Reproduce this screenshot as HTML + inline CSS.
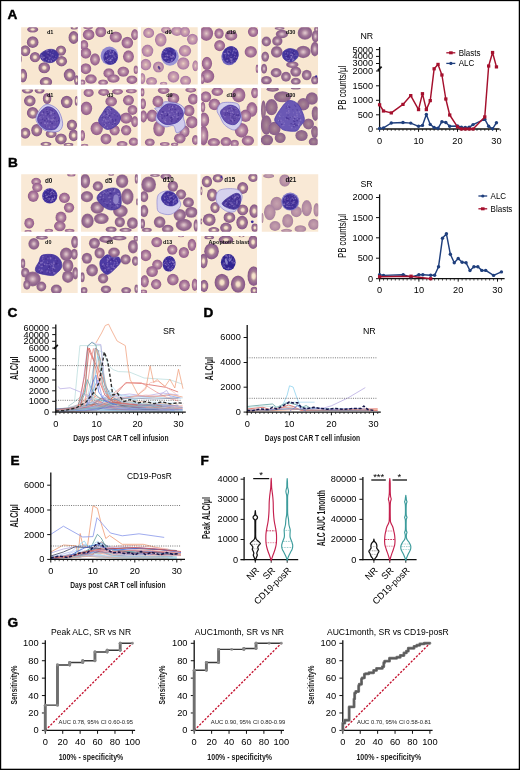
<!DOCTYPE html><html><head><meta charset="utf-8"><title>Figure</title>
<style>html,body{margin:0;padding:0;background:#fff;}svg{display:block;}body>svg{filter:opacity(1);}text{font-family:"Liberation Sans",sans-serif;}</style></head><body>
<svg width="520" height="770" viewBox="0 0 520 770">
<defs>
<filter id="blur" x="-5%" y="-5%" width="110%" height="110%"><feGaussianBlur stdDeviation="5.2"/></filter>
<filter id="blur2" x="-5%" y="-20%" width="110%" height="140%"><feGaussianBlur stdDeviation="1.5"/></filter>
<radialGradient id="ring"><stop offset="0" stop-color="#f9eacc"/><stop offset="0.24" stop-color="#f1dbc6"/><stop offset="0.48" stop-color="#a98395"/><stop offset="0.72" stop-color="#966891"/><stop offset="0.92" stop-color="#895a89"/><stop offset="1" stop-color="#9a7097"/></radialGradient>
<radialGradient id="ring2"><stop offset="0" stop-color="#e2d0d0"/><stop offset="0.25" stop-color="#c8a6b6"/><stop offset="0.5" stop-color="#a27a98"/><stop offset="0.82" stop-color="#8d608a"/><stop offset="1" stop-color="#9b7298"/></radialGradient>
<radialGradient id="solid2"><stop offset="0" stop-color="#e4cdca"/><stop offset="0.24" stop-color="#cba5b2"/><stop offset="0.6" stop-color="#a8769a"/><stop offset="0.9" stop-color="#97618e"/><stop offset="1" stop-color="#a77ca0"/></radialGradient>
<radialGradient id="solid"><stop offset="0" stop-color="#ecd4c4"/><stop offset="0.3" stop-color="#d2aab2"/><stop offset="0.65" stop-color="#be90aa"/><stop offset="0.9" stop-color="#ad7aa5"/><stop offset="1" stop-color="#b68cae"/></radialGradient>
<radialGradient id="dusk"><stop offset="0" stop-color="#aa8a98"/><stop offset="0.5" stop-color="#99718c"/><stop offset="0.9" stop-color="#8a608c"/><stop offset="1" stop-color="#967098"/></radialGradient>
<radialGradient id="pale"><stop offset="0" stop-color="#c6a3af"/><stop offset="0.5" stop-color="#bb94a6"/><stop offset="0.9" stop-color="#ab84a0"/><stop offset="1" stop-color="#b692aa"/></radialGradient>
</defs>
<rect x="0" y="0" width="520" height="770" fill="#fff"/>
<text x="7.60" y="18.50" font-size="13.6" text-anchor="start" font-weight="bold" fill="#000" stroke="#000" stroke-width="0.45">A</text>
<text x="8.00" y="167.00" font-size="13.6" text-anchor="start" font-weight="bold" fill="#000" stroke="#000" stroke-width="0.45">B</text>
<text x="7.40" y="316.50" font-size="13.6" text-anchor="start" font-weight="bold" fill="#000" stroke="#000" stroke-width="0.45">C</text>
<text x="203.60" y="316.50" font-size="13.6" text-anchor="start" font-weight="bold" fill="#000" stroke="#000" stroke-width="0.45">D</text>
<text x="10.60" y="464.50" font-size="13.6" text-anchor="start" font-weight="bold" fill="#000" stroke="#000" stroke-width="0.45">E</text>
<text x="200.60" y="464.60" font-size="13.6" text-anchor="start" font-weight="bold" fill="#000" stroke="#000" stroke-width="0.45">F</text>
<text x="7.40" y="626.60" font-size="13.6" text-anchor="start" font-weight="bold" fill="#000" stroke="#000" stroke-width="0.45">G</text>
<svg x="20" y="26" width="60" height="60" viewBox="0 0 520 520">
<defs><clipPath id="ca11"><rect x="10" y="10" width="493" height="500"/></clipPath></defs>
<g clip-path="url(#ca11)">
<rect x="5" y="5" width="503" height="510" fill="#f8e7d1"/>
<g filter="url(#blur)">
<ellipse cx="110" cy="30" rx="55" ry="34" fill="#fdf1cd" fill-opacity="0.8"/>
<ellipse cx="110" cy="140" rx="58" ry="58" fill="#fdf1cd" fill-opacity="0.8"/>
<ellipse cx="465" cy="100" rx="52" ry="63" fill="#fdf1cd" fill-opacity="0.8"/>
<ellipse cx="45" cy="215" rx="52" ry="55" fill="#fdf1cd" fill-opacity="0.8"/>
<ellipse cx="355" cy="213" rx="52" ry="52" fill="#fdf1cd" fill-opacity="0.8"/>
<ellipse cx="130" cy="270" rx="52" ry="52" fill="#fdf1cd" fill-opacity="0.8"/>
<ellipse cx="360" cy="305" rx="55" ry="52" fill="#fdf1cd" fill-opacity="0.8"/>
<ellipse cx="210" cy="362" rx="58" ry="55" fill="#fdf1cd" fill-opacity="0.8"/>
<ellipse cx="430" cy="425" rx="58" ry="63" fill="#fdf1cd" fill-opacity="0.8"/>
<ellipse cx="25" cy="430" rx="44" ry="66" fill="#fdf1cd" fill-opacity="0.8"/>
<ellipse cx="225" cy="485" rx="60" ry="50" fill="#fdf1cd" fill-opacity="0.8"/>
<ellipse cx="490" cy="470" rx="28" ry="50" fill="#fdf1cd" fill-opacity="0.8"/>
<ellipse cx="470" cy="15" rx="39" ry="23" fill="#fdf1cd" fill-opacity="0.8"/>
<ellipse cx="5" cy="285" rx="18" ry="39" fill="#fdf1cd" fill-opacity="0.8"/>
<ellipse cx="110" cy="30" rx="48" ry="27" fill="url(#ring)"/>
<ellipse cx="110" cy="140" rx="51" ry="51" fill="url(#ring)"/>
<ellipse cx="465" cy="100" rx="45" ry="56" fill="url(#ring)"/>
<ellipse cx="45" cy="215" rx="45" ry="48" fill="url(#ring)"/>
<ellipse cx="355" cy="213" rx="45" ry="45" fill="url(#ring)"/>
<ellipse cx="130" cy="270" rx="45" ry="45" fill="url(#ring)"/>
<ellipse cx="360" cy="305" rx="48" ry="45" fill="url(#ring)"/>
<ellipse cx="210" cy="362" rx="51" ry="48" fill="url(#ring)"/>
<ellipse cx="430" cy="425" rx="51" ry="56" fill="url(#ring)"/>
<ellipse cx="25" cy="430" rx="37" ry="59" fill="url(#ring)"/>
<ellipse cx="225" cy="485" rx="54" ry="43" fill="url(#ring)"/>
<ellipse cx="490" cy="470" rx="21" ry="43" fill="url(#ring)"/>
<ellipse cx="470" cy="15" rx="32" ry="16" fill="url(#ring)"/>
<ellipse cx="5" cy="285" rx="11" ry="32" fill="url(#ring)"/>
<path d="M185.0,235.0 C195.4,225.4 221.6,209.3 240.0,205.0 C258.4,200.7 284.8,200.0 300.0,208.0 C315.2,216.0 335.0,239.5 335.0,255.0 C335.0,270.5 313.6,294.9 300.0,305.0 C286.4,315.1 266.8,318.8 250.0,318.0 C233.2,317.2 207.0,308.5 195.0,300.0 C183.0,291.5 176.6,275.4 175.0,265.0 C173.4,254.6 174.6,244.6 185.0,235.0Z" fill="#43329a" stroke="#43329a" stroke-width="6" stroke-linejoin="round"/>
<circle cx="269" cy="269" r="4.2" fill="#9a86cc" fill-opacity="0.59"/>
<circle cx="232" cy="258" r="7.9" fill="#9a86cc" fill-opacity="0.44"/>
<circle cx="240" cy="228" r="5.8" fill="#9a86cc" fill-opacity="0.56"/>
<circle cx="309" cy="264" r="5.3" fill="#9a86cc" fill-opacity="0.48"/>
<circle cx="190" cy="254" r="5.3" fill="#9a86cc" fill-opacity="0.48"/>
<circle cx="302" cy="283" r="6.4" fill="#9a86cc" fill-opacity="0.46"/>
<circle cx="198" cy="271" r="5.5" fill="#9a86cc" fill-opacity="0.62"/>
<circle cx="249" cy="212" r="4.1" fill="#9a86cc" fill-opacity="0.55"/>
<circle cx="240" cy="256" r="6.9" fill="#9a86cc" fill-opacity="0.46"/>
<circle cx="270" cy="299" r="4.9" fill="#9a86cc" fill-opacity="0.63"/>
<circle cx="190" cy="273" r="5.0" fill="#9a86cc" fill-opacity="0.42"/>
<circle cx="202" cy="270" r="5.7" fill="#9a86cc" fill-opacity="0.59"/>
<circle cx="271" cy="258" r="4.4" fill="#9a86cc" fill-opacity="0.46"/>
<circle cx="279" cy="248" r="5.3" fill="#9a86cc" fill-opacity="0.64"/>
<circle cx="191" cy="271" r="5.8" fill="#9a86cc" fill-opacity="0.65"/>
<circle cx="212" cy="273" r="4.7" fill="#9a86cc" fill-opacity="0.47"/>
<circle cx="232" cy="288" r="6.6" fill="#9a86cc" fill-opacity="0.66"/>
<circle cx="289" cy="290" r="5.8" fill="#9a86cc" fill-opacity="0.43"/>
<circle cx="234" cy="215" r="4.5" fill="#9a86cc" fill-opacity="0.54"/>
<circle cx="287" cy="251" r="4.8" fill="#9a86cc" fill-opacity="0.63"/>
<circle cx="262" cy="239" r="7.4" fill="#9a86cc" fill-opacity="0.41"/>
<circle cx="256" cy="272" r="5.1" fill="#9a86cc" fill-opacity="0.63"/>
<circle cx="190" cy="262" r="6.6" fill="#9a86cc" fill-opacity="0.63"/>
<circle cx="239" cy="262" r="5.4" fill="#9a86cc" fill-opacity="0.40"/>
<circle cx="190" cy="271" r="5.2" fill="#9a86cc" fill-opacity="0.63"/>
<circle cx="225" cy="226" r="5.1" fill="#9a86cc" fill-opacity="0.47"/>
<circle cx="213" cy="268" r="5.7" fill="#9a86cc" fill-opacity="0.50"/>
<circle cx="272" cy="307" r="5.6" fill="#9a86cc" fill-opacity="0.67"/>
<circle cx="263" cy="274" r="4.6" fill="#9a86cc" fill-opacity="0.35"/>
<circle cx="238" cy="213" r="7.8" fill="#9a86cc" fill-opacity="0.66"/>
<circle cx="255" cy="280" r="7.9" fill="#9a86cc" fill-opacity="0.50"/>
<circle cx="243" cy="232" r="7.8" fill="#9a86cc" fill-opacity="0.67"/>
<circle cx="205" cy="295" r="4.9" fill="#9a86cc" fill-opacity="0.61"/>
<circle cx="197" cy="283" r="7.3" fill="#9a86cc" fill-opacity="0.58"/>
<circle cx="202" cy="273" r="6.1" fill="#9a86cc" fill-opacity="0.45"/>
<circle cx="273" cy="214" r="5.4" fill="#9a86cc" fill-opacity="0.43"/>
<circle cx="271" cy="299" r="4.3" fill="#9a86cc" fill-opacity="0.56"/>
<circle cx="280" cy="285" r="5.1" fill="#9a86cc" fill-opacity="0.63"/>
<circle cx="265" cy="295" r="4.2" fill="#9a86cc" fill-opacity="0.67"/>
<circle cx="230" cy="217" r="6.8" fill="#9a86cc" fill-opacity="0.67"/>
<circle cx="248" cy="301" r="7.6" fill="#9a86cc" fill-opacity="0.66"/>
<circle cx="286" cy="225" r="6.3" fill="#9a86cc" fill-opacity="0.35"/>
<circle cx="188" cy="255" r="7.0" fill="#9a86cc" fill-opacity="0.41"/>
<circle cx="250" cy="269" r="5.2" fill="#9a86cc" fill-opacity="0.58"/>
<circle cx="201" cy="293" r="4.2" fill="#3a2488" fill-opacity="0.55"/>
<circle cx="253" cy="236" r="4.4" fill="#3a2488" fill-opacity="0.55"/>
<circle cx="233" cy="257" r="4.4" fill="#3a2488" fill-opacity="0.55"/>
<circle cx="301" cy="264" r="7.5" fill="#3a2488" fill-opacity="0.55"/>
<circle cx="250" cy="217" r="4.7" fill="#3a2488" fill-opacity="0.55"/>
<circle cx="254" cy="260" r="4.1" fill="#3a2488" fill-opacity="0.55"/>
<circle cx="222" cy="279" r="7.4" fill="#3a2488" fill-opacity="0.55"/>
<circle cx="262" cy="295" r="4.5" fill="#3a2488" fill-opacity="0.55"/>
<circle cx="219" cy="229" r="7.4" fill="#3a2488" fill-opacity="0.55"/>
<circle cx="235" cy="220" r="6.7" fill="#3a2488" fill-opacity="0.55"/>
<circle cx="234" cy="254" r="7.3" fill="#3a2488" fill-opacity="0.55"/>
<circle cx="243" cy="248" r="7.8" fill="#3a2488" fill-opacity="0.55"/>
<circle cx="212" cy="258" r="6.3" fill="#3a2488" fill-opacity="0.55"/>
<circle cx="237" cy="289" r="7.2" fill="#3a2488" fill-opacity="0.55"/>
<circle cx="261" cy="280" r="4.1" fill="#3a2488" fill-opacity="0.55"/>
<circle cx="241" cy="277" r="7.1" fill="#3a2488" fill-opacity="0.55"/>
<circle cx="235" cy="235" r="6.0" fill="#3a2488" fill-opacity="0.55"/>
<circle cx="252" cy="251" r="6.9" fill="#3a2488" fill-opacity="0.55"/>
<circle cx="195" cy="250" r="4.4" fill="#3a2488" fill-opacity="0.55"/>
<circle cx="235" cy="264" r="7.0" fill="#3a2488" fill-opacity="0.55"/>
<circle cx="209" cy="288" r="7.7" fill="#3a2488" fill-opacity="0.55"/>
<circle cx="232" cy="298" r="4.2" fill="#3a2488" fill-opacity="0.55"/>
<circle cx="217" cy="263" r="5.3" fill="#3a2488" fill-opacity="0.55"/>
<circle cx="252" cy="274" r="6.3" fill="#3a2488" fill-opacity="0.55"/>
<circle cx="229" cy="271" r="7.3" fill="#3a2488" fill-opacity="0.55"/>
<circle cx="241" cy="231" r="5.0" fill="#3a2488" fill-opacity="0.55"/>
<circle cx="282" cy="295" r="4.7" fill="#3a2488" fill-opacity="0.55"/>
<circle cx="197" cy="273" r="5.0" fill="#3a2488" fill-opacity="0.55"/>
<circle cx="279" cy="220" r="6.5" fill="#3a2488" fill-opacity="0.55"/>
<circle cx="191" cy="261" r="7.0" fill="#3a2488" fill-opacity="0.55"/>
</g>
<text x="262" y="71" font-size="48" font-weight="bold" text-anchor="middle" fill="#111" filter="url(#blur2)">d1</text>
</g></svg>
<svg x="80" y="26" width="60" height="60" viewBox="0 0 520 520">
<defs><clipPath id="ca12"><rect x="8" y="10" width="492" height="498"/></clipPath></defs>
<g clip-path="url(#ca12)">
<rect x="3" y="5" width="502" height="508" fill="#f8e7d1"/>
<g filter="url(#blur)">
<ellipse cx="75" cy="75" rx="58" ry="55" fill="#fdf1cd" fill-opacity="0.8"/>
<ellipse cx="180" cy="50" rx="55" ry="55" fill="#fdf1cd" fill-opacity="0.8"/>
<ellipse cx="310" cy="95" rx="60" ry="55" fill="#fdf1cd" fill-opacity="0.8"/>
<ellipse cx="475" cy="75" rx="39" ry="55" fill="#fdf1cd" fill-opacity="0.8"/>
<ellipse cx="410" cy="145" rx="58" ry="58" fill="#fdf1cd" fill-opacity="0.8"/>
<ellipse cx="35" cy="165" rx="44" ry="50" fill="#fdf1cd" fill-opacity="0.8"/>
<ellipse cx="50" cy="235" rx="55" ry="55" fill="#fdf1cd" fill-opacity="0.8"/>
<ellipse cx="130" cy="290" rx="50" ry="60" fill="#fdf1cd" fill-opacity="0.8"/>
<ellipse cx="420" cy="265" rx="55" ry="60" fill="#fdf1cd" fill-opacity="0.8"/>
<ellipse cx="50" cy="370" rx="55" ry="55" fill="#fdf1cd" fill-opacity="0.8"/>
<ellipse cx="250" cy="410" rx="55" ry="50" fill="#fdf1cd" fill-opacity="0.8"/>
<ellipse cx="375" cy="395" rx="58" ry="52" fill="#fdf1cd" fill-opacity="0.8"/>
<ellipse cx="290" cy="455" rx="60" ry="44" fill="#fdf1cd" fill-opacity="0.8"/>
<ellipse cx="95" cy="460" rx="58" ry="48" fill="#fdf1cd" fill-opacity="0.8"/>
<ellipse cx="450" cy="465" rx="55" ry="44" fill="#fdf1cd" fill-opacity="0.8"/>
<ellipse cx="485" cy="380" rx="28" ry="44" fill="#fdf1cd" fill-opacity="0.8"/>
<ellipse cx="200" cy="490" rx="50" ry="34" fill="#fdf1cd" fill-opacity="0.8"/>
<ellipse cx="20" cy="490" rx="34" ry="34" fill="#fdf1cd" fill-opacity="0.8"/>
<ellipse cx="70" cy="15" rx="50" ry="18" fill="#fdf1cd" fill-opacity="0.8"/>
<ellipse cx="75" cy="75" rx="51" ry="48" fill="url(#solid2)"/>
<ellipse cx="180" cy="50" rx="48" ry="48" fill="url(#solid2)"/>
<ellipse cx="310" cy="95" rx="54" ry="48" fill="url(#solid2)"/>
<ellipse cx="475" cy="75" rx="32" ry="48" fill="url(#solid2)"/>
<ellipse cx="410" cy="145" rx="51" ry="51" fill="url(#solid2)"/>
<ellipse cx="35" cy="165" rx="37" ry="43" fill="url(#solid2)"/>
<ellipse cx="50" cy="235" rx="48" ry="48" fill="url(#solid2)"/>
<ellipse cx="130" cy="290" rx="43" ry="54" fill="url(#solid2)"/>
<ellipse cx="420" cy="265" rx="48" ry="54" fill="url(#solid2)"/>
<ellipse cx="50" cy="370" rx="48" ry="48" fill="url(#solid2)"/>
<ellipse cx="250" cy="410" rx="48" ry="43" fill="url(#solid2)"/>
<ellipse cx="375" cy="395" rx="51" ry="45" fill="url(#solid2)"/>
<ellipse cx="290" cy="455" rx="54" ry="37" fill="url(#solid2)"/>
<ellipse cx="95" cy="460" rx="51" ry="41" fill="url(#solid2)"/>
<ellipse cx="450" cy="465" rx="48" ry="37" fill="url(#solid2)"/>
<ellipse cx="485" cy="380" rx="21" ry="37" fill="url(#solid2)"/>
<ellipse cx="200" cy="490" rx="43" ry="27" fill="url(#solid2)"/>
<ellipse cx="20" cy="490" rx="27" ry="27" fill="url(#solid2)"/>
<ellipse cx="70" cy="15" rx="43" ry="11" fill="url(#solid2)"/>
<ellipse cx="255" cy="258" rx="76" ry="80" fill="#8f86cf" transform="rotate(0 255 258)"/>
<ellipse cx="265" cy="270" rx="63" ry="66" fill="#45359d" transform="rotate(0 265 270)"/>
<circle cx="238" cy="292" r="5.3" fill="#9a86cc" fill-opacity="0.50"/>
<circle cx="238" cy="291" r="5.9" fill="#9a86cc" fill-opacity="0.42"/>
<circle cx="251" cy="278" r="6.3" fill="#9a86cc" fill-opacity="0.68"/>
<circle cx="209" cy="270" r="5.6" fill="#9a86cc" fill-opacity="0.54"/>
<circle cx="223" cy="297" r="4.5" fill="#9a86cc" fill-opacity="0.45"/>
<circle cx="290" cy="312" r="6.7" fill="#9a86cc" fill-opacity="0.39"/>
<circle cx="267" cy="221" r="7.5" fill="#9a86cc" fill-opacity="0.67"/>
<circle cx="226" cy="266" r="4.4" fill="#9a86cc" fill-opacity="0.68"/>
<circle cx="232" cy="226" r="5.5" fill="#9a86cc" fill-opacity="0.62"/>
<circle cx="275" cy="285" r="7.0" fill="#9a86cc" fill-opacity="0.45"/>
<circle cx="264" cy="213" r="6.7" fill="#9a86cc" fill-opacity="0.58"/>
<circle cx="227" cy="266" r="7.2" fill="#9a86cc" fill-opacity="0.44"/>
<circle cx="260" cy="245" r="7.0" fill="#9a86cc" fill-opacity="0.69"/>
<circle cx="262" cy="296" r="6.7" fill="#9a86cc" fill-opacity="0.54"/>
<circle cx="238" cy="253" r="4.5" fill="#9a86cc" fill-opacity="0.52"/>
<circle cx="270" cy="319" r="5.4" fill="#9a86cc" fill-opacity="0.60"/>
<circle cx="295" cy="261" r="6.7" fill="#9a86cc" fill-opacity="0.55"/>
<circle cx="255" cy="233" r="4.7" fill="#9a86cc" fill-opacity="0.58"/>
<circle cx="291" cy="234" r="6.5" fill="#9a86cc" fill-opacity="0.41"/>
<circle cx="262" cy="298" r="7.6" fill="#9a86cc" fill-opacity="0.58"/>
<circle cx="304" cy="276" r="4.5" fill="#9a86cc" fill-opacity="0.68"/>
<circle cx="248" cy="287" r="4.6" fill="#9a86cc" fill-opacity="0.47"/>
<circle cx="244" cy="296" r="6.9" fill="#9a86cc" fill-opacity="0.56"/>
<circle cx="268" cy="248" r="6.2" fill="#9a86cc" fill-opacity="0.58"/>
<circle cx="304" cy="268" r="5.8" fill="#9a86cc" fill-opacity="0.46"/>
<circle cx="233" cy="246" r="4.7" fill="#9a86cc" fill-opacity="0.37"/>
<circle cx="291" cy="224" r="6.9" fill="#9a86cc" fill-opacity="0.61"/>
<circle cx="228" cy="256" r="6.2" fill="#9a86cc" fill-opacity="0.61"/>
<circle cx="255" cy="216" r="5.4" fill="#9a86cc" fill-opacity="0.44"/>
<circle cx="226" cy="300" r="5.5" fill="#9a86cc" fill-opacity="0.66"/>
<circle cx="303" cy="260" r="4.2" fill="#9a86cc" fill-opacity="0.53"/>
<circle cx="269" cy="299" r="5.0" fill="#9a86cc" fill-opacity="0.62"/>
<circle cx="256" cy="222" r="5.4" fill="#9a86cc" fill-opacity="0.47"/>
<circle cx="316" cy="256" r="5.6" fill="#9a86cc" fill-opacity="0.54"/>
<circle cx="266" cy="296" r="7.1" fill="#9a86cc" fill-opacity="0.47"/>
<circle cx="264" cy="296" r="7.4" fill="#9a86cc" fill-opacity="0.39"/>
<circle cx="250" cy="217" r="5.1" fill="#9a86cc" fill-opacity="0.38"/>
<circle cx="288" cy="252" r="4.5" fill="#9a86cc" fill-opacity="0.62"/>
<circle cx="286" cy="245" r="6.9" fill="#9a86cc" fill-opacity="0.41"/>
<circle cx="222" cy="294" r="4.8" fill="#9a86cc" fill-opacity="0.50"/>
<circle cx="280" cy="279" r="7.0" fill="#9a86cc" fill-opacity="0.64"/>
<circle cx="280" cy="242" r="7.0" fill="#9a86cc" fill-opacity="0.56"/>
<circle cx="238" cy="305" r="4.6" fill="#9a86cc" fill-opacity="0.49"/>
<circle cx="263" cy="266" r="4.8" fill="#9a86cc" fill-opacity="0.53"/>
<circle cx="242" cy="259" r="4.2" fill="#3a2488" fill-opacity="0.55"/>
<circle cx="265" cy="323" r="4.3" fill="#3a2488" fill-opacity="0.55"/>
<circle cx="315" cy="280" r="4.8" fill="#3a2488" fill-opacity="0.55"/>
<circle cx="308" cy="233" r="4.6" fill="#3a2488" fill-opacity="0.55"/>
<circle cx="234" cy="300" r="6.0" fill="#3a2488" fill-opacity="0.55"/>
<circle cx="226" cy="246" r="6.8" fill="#3a2488" fill-opacity="0.55"/>
<circle cx="311" cy="263" r="6.1" fill="#3a2488" fill-opacity="0.55"/>
<circle cx="249" cy="322" r="5.7" fill="#3a2488" fill-opacity="0.55"/>
<circle cx="221" cy="275" r="6.6" fill="#3a2488" fill-opacity="0.55"/>
<circle cx="265" cy="267" r="5.2" fill="#3a2488" fill-opacity="0.55"/>
<circle cx="271" cy="222" r="5.9" fill="#3a2488" fill-opacity="0.55"/>
<circle cx="224" cy="272" r="7.0" fill="#3a2488" fill-opacity="0.55"/>
<circle cx="241" cy="276" r="5.6" fill="#3a2488" fill-opacity="0.55"/>
<circle cx="254" cy="268" r="4.7" fill="#3a2488" fill-opacity="0.55"/>
<circle cx="219" cy="270" r="7.6" fill="#3a2488" fill-opacity="0.55"/>
<circle cx="225" cy="285" r="6.9" fill="#3a2488" fill-opacity="0.55"/>
<circle cx="317" cy="256" r="5.5" fill="#3a2488" fill-opacity="0.55"/>
<circle cx="298" cy="310" r="5.5" fill="#3a2488" fill-opacity="0.55"/>
<circle cx="256" cy="261" r="6.1" fill="#3a2488" fill-opacity="0.55"/>
<circle cx="248" cy="292" r="6.4" fill="#3a2488" fill-opacity="0.55"/>
<circle cx="302" cy="290" r="4.9" fill="#3a2488" fill-opacity="0.55"/>
<circle cx="294" cy="256" r="4.0" fill="#3a2488" fill-opacity="0.55"/>
<circle cx="297" cy="234" r="4.8" fill="#3a2488" fill-opacity="0.55"/>
<circle cx="300" cy="311" r="7.1" fill="#3a2488" fill-opacity="0.55"/>
<circle cx="221" cy="236" r="4.6" fill="#3a2488" fill-opacity="0.55"/>
<circle cx="255" cy="220" r="5.8" fill="#3a2488" fill-opacity="0.55"/>
<circle cx="237" cy="314" r="4.8" fill="#3a2488" fill-opacity="0.55"/>
<circle cx="313" cy="247" r="4.8" fill="#3a2488" fill-opacity="0.55"/>
<circle cx="219" cy="290" r="4.7" fill="#3a2488" fill-opacity="0.55"/>
<circle cx="246" cy="272" r="5.6" fill="#3a2488" fill-opacity="0.55"/>
</g>
<text x="262" y="71" font-size="48" font-weight="bold" text-anchor="middle" fill="#111" filter="url(#blur2)">d1</text>
</g></svg>
<svg x="140" y="26" width="60" height="60" viewBox="0 0 520 520">
<defs><clipPath id="ca13"><rect x="8" y="10" width="492" height="498"/></clipPath></defs>
<g clip-path="url(#ca13)">
<rect x="3" y="5" width="502" height="508" fill="#f8e7d1"/>
<g filter="url(#blur)">
<ellipse cx="75" cy="60" rx="55" ry="52" fill="#fdf1cd" fill-opacity="0.8"/>
<ellipse cx="225" cy="35" rx="50" ry="37" fill="#fdf1cd" fill-opacity="0.8"/>
<ellipse cx="320" cy="45" rx="58" ry="48" fill="#fdf1cd" fill-opacity="0.8"/>
<ellipse cx="390" cy="50" rx="50" ry="52" fill="#fdf1cd" fill-opacity="0.8"/>
<ellipse cx="180" cy="120" rx="58" ry="66" fill="#fdf1cd" fill-opacity="0.8"/>
<ellipse cx="455" cy="115" rx="55" ry="55" fill="#fdf1cd" fill-opacity="0.8"/>
<ellipse cx="65" cy="215" rx="58" ry="60" fill="#fdf1cd" fill-opacity="0.8"/>
<ellipse cx="390" cy="215" rx="60" ry="58" fill="#fdf1cd" fill-opacity="0.8"/>
<ellipse cx="50" cy="335" rx="55" ry="58" fill="#fdf1cd" fill-opacity="0.8"/>
<ellipse cx="160" cy="355" rx="55" ry="55" fill="#fdf1cd" fill-opacity="0.8"/>
<ellipse cx="375" cy="325" rx="60" ry="60" fill="#fdf1cd" fill-opacity="0.8"/>
<ellipse cx="480" cy="345" rx="34" ry="55" fill="#fdf1cd" fill-opacity="0.8"/>
<ellipse cx="290" cy="440" rx="58" ry="58" fill="#fdf1cd" fill-opacity="0.8"/>
<ellipse cx="100" cy="480" rx="55" ry="44" fill="#fdf1cd" fill-opacity="0.8"/>
<ellipse cx="395" cy="475" rx="55" ry="50" fill="#fdf1cd" fill-opacity="0.8"/>
<ellipse cx="20" cy="455" rx="34" ry="55" fill="#fdf1cd" fill-opacity="0.8"/>
<ellipse cx="205" cy="500" rx="39" ry="23" fill="#fdf1cd" fill-opacity="0.8"/>
<ellipse cx="75" cy="60" rx="48" ry="45" fill="url(#solid)"/>
<ellipse cx="225" cy="35" rx="43" ry="30" fill="url(#solid)"/>
<ellipse cx="320" cy="45" rx="51" ry="41" fill="url(#solid)"/>
<ellipse cx="390" cy="50" rx="43" ry="45" fill="url(#solid)"/>
<ellipse cx="180" cy="120" rx="51" ry="59" fill="url(#solid)"/>
<ellipse cx="455" cy="115" rx="48" ry="48" fill="url(#solid)"/>
<ellipse cx="65" cy="215" rx="51" ry="54" fill="url(#solid)"/>
<ellipse cx="390" cy="215" rx="54" ry="51" fill="url(#solid)"/>
<ellipse cx="50" cy="335" rx="48" ry="51" fill="url(#solid)"/>
<ellipse cx="160" cy="355" rx="48" ry="48" fill="url(#solid)"/>
<ellipse cx="375" cy="325" rx="54" ry="54" fill="url(#solid)"/>
<ellipse cx="480" cy="345" rx="27" ry="48" fill="url(#solid)"/>
<ellipse cx="290" cy="440" rx="51" ry="51" fill="url(#solid)"/>
<ellipse cx="100" cy="480" rx="48" ry="37" fill="url(#solid)"/>
<ellipse cx="395" cy="475" rx="48" ry="43" fill="url(#solid)"/>
<ellipse cx="20" cy="455" rx="27" ry="48" fill="url(#solid)"/>
<ellipse cx="205" cy="500" rx="32" ry="16" fill="url(#solid)"/>
<ellipse cx="260" cy="266" rx="76" ry="78" fill="#9a94d4" transform="rotate(0 260 266)"/>
<ellipse cx="250" cy="252" rx="65" ry="68" fill="#43339c" transform="rotate(0 250 252)"/>
<circle cx="255" cy="261" r="4.4" fill="#9a86cc" fill-opacity="0.43"/>
<circle cx="268" cy="268" r="7.4" fill="#9a86cc" fill-opacity="0.57"/>
<circle cx="236" cy="253" r="7.5" fill="#9a86cc" fill-opacity="0.66"/>
<circle cx="289" cy="258" r="5.8" fill="#9a86cc" fill-opacity="0.66"/>
<circle cx="209" cy="280" r="6.9" fill="#9a86cc" fill-opacity="0.47"/>
<circle cx="285" cy="264" r="5.5" fill="#9a86cc" fill-opacity="0.38"/>
<circle cx="242" cy="258" r="5.6" fill="#9a86cc" fill-opacity="0.68"/>
<circle cx="277" cy="246" r="4.4" fill="#9a86cc" fill-opacity="0.55"/>
<circle cx="283" cy="276" r="4.4" fill="#9a86cc" fill-opacity="0.38"/>
<circle cx="274" cy="294" r="6.6" fill="#9a86cc" fill-opacity="0.43"/>
<circle cx="238" cy="270" r="4.2" fill="#9a86cc" fill-opacity="0.40"/>
<circle cx="297" cy="269" r="6.6" fill="#9a86cc" fill-opacity="0.55"/>
<circle cx="242" cy="306" r="4.0" fill="#9a86cc" fill-opacity="0.43"/>
<circle cx="195" cy="265" r="7.9" fill="#9a86cc" fill-opacity="0.43"/>
<circle cx="241" cy="281" r="6.2" fill="#9a86cc" fill-opacity="0.50"/>
<circle cx="245" cy="307" r="7.1" fill="#9a86cc" fill-opacity="0.56"/>
<circle cx="226" cy="226" r="7.2" fill="#9a86cc" fill-opacity="0.54"/>
<circle cx="290" cy="280" r="4.8" fill="#9a86cc" fill-opacity="0.41"/>
<circle cx="294" cy="243" r="4.3" fill="#9a86cc" fill-opacity="0.64"/>
<circle cx="260" cy="252" r="4.5" fill="#9a86cc" fill-opacity="0.36"/>
<circle cx="270" cy="266" r="7.9" fill="#9a86cc" fill-opacity="0.42"/>
<circle cx="263" cy="255" r="7.6" fill="#9a86cc" fill-opacity="0.38"/>
<circle cx="219" cy="204" r="5.9" fill="#9a86cc" fill-opacity="0.43"/>
<circle cx="268" cy="310" r="7.3" fill="#9a86cc" fill-opacity="0.57"/>
<circle cx="198" cy="260" r="6.6" fill="#9a86cc" fill-opacity="0.62"/>
<circle cx="299" cy="223" r="7.5" fill="#9a86cc" fill-opacity="0.47"/>
<circle cx="282" cy="259" r="6.4" fill="#9a86cc" fill-opacity="0.51"/>
<circle cx="205" cy="215" r="4.4" fill="#9a86cc" fill-opacity="0.64"/>
<circle cx="277" cy="269" r="6.4" fill="#9a86cc" fill-opacity="0.64"/>
<circle cx="262" cy="235" r="4.8" fill="#9a86cc" fill-opacity="0.54"/>
<circle cx="224" cy="275" r="5.9" fill="#9a86cc" fill-opacity="0.60"/>
<circle cx="226" cy="199" r="4.3" fill="#9a86cc" fill-opacity="0.47"/>
<circle cx="273" cy="299" r="5.9" fill="#9a86cc" fill-opacity="0.38"/>
<circle cx="245" cy="196" r="6.2" fill="#9a86cc" fill-opacity="0.61"/>
<circle cx="197" cy="233" r="5.7" fill="#9a86cc" fill-opacity="0.58"/>
<circle cx="225" cy="282" r="6.4" fill="#9a86cc" fill-opacity="0.42"/>
<circle cx="257" cy="306" r="5.4" fill="#9a86cc" fill-opacity="0.70"/>
<circle cx="220" cy="256" r="5.3" fill="#9a86cc" fill-opacity="0.50"/>
<circle cx="274" cy="297" r="4.3" fill="#9a86cc" fill-opacity="0.43"/>
<circle cx="211" cy="220" r="4.7" fill="#9a86cc" fill-opacity="0.68"/>
<circle cx="219" cy="280" r="6.9" fill="#9a86cc" fill-opacity="0.66"/>
<circle cx="278" cy="294" r="7.9" fill="#9a86cc" fill-opacity="0.56"/>
<circle cx="290" cy="258" r="7.7" fill="#9a86cc" fill-opacity="0.54"/>
<circle cx="253" cy="202" r="5.7" fill="#9a86cc" fill-opacity="0.68"/>
<circle cx="297" cy="218" r="4.1" fill="#3a2488" fill-opacity="0.55"/>
<circle cx="199" cy="257" r="4.7" fill="#3a2488" fill-opacity="0.55"/>
<circle cx="201" cy="286" r="4.1" fill="#3a2488" fill-opacity="0.55"/>
<circle cx="278" cy="236" r="5.7" fill="#3a2488" fill-opacity="0.55"/>
<circle cx="273" cy="241" r="5.4" fill="#3a2488" fill-opacity="0.55"/>
<circle cx="291" cy="281" r="4.2" fill="#3a2488" fill-opacity="0.55"/>
<circle cx="238" cy="294" r="6.2" fill="#3a2488" fill-opacity="0.55"/>
<circle cx="242" cy="243" r="4.4" fill="#3a2488" fill-opacity="0.55"/>
<circle cx="249" cy="220" r="5.2" fill="#3a2488" fill-opacity="0.55"/>
<circle cx="219" cy="267" r="5.0" fill="#3a2488" fill-opacity="0.55"/>
<circle cx="247" cy="199" r="7.2" fill="#3a2488" fill-opacity="0.55"/>
<circle cx="246" cy="271" r="5.7" fill="#3a2488" fill-opacity="0.55"/>
<circle cx="239" cy="289" r="5.0" fill="#3a2488" fill-opacity="0.55"/>
<circle cx="270" cy="263" r="4.2" fill="#3a2488" fill-opacity="0.55"/>
<circle cx="254" cy="201" r="5.7" fill="#3a2488" fill-opacity="0.55"/>
<circle cx="307" cy="243" r="6.5" fill="#3a2488" fill-opacity="0.55"/>
<circle cx="275" cy="226" r="6.7" fill="#3a2488" fill-opacity="0.55"/>
<circle cx="267" cy="281" r="7.7" fill="#3a2488" fill-opacity="0.55"/>
<circle cx="209" cy="262" r="7.2" fill="#3a2488" fill-opacity="0.55"/>
<circle cx="216" cy="242" r="5.0" fill="#3a2488" fill-opacity="0.55"/>
<circle cx="269" cy="226" r="4.5" fill="#3a2488" fill-opacity="0.55"/>
<circle cx="196" cy="265" r="7.0" fill="#3a2488" fill-opacity="0.55"/>
<circle cx="261" cy="221" r="7.2" fill="#3a2488" fill-opacity="0.55"/>
<circle cx="252" cy="307" r="6.0" fill="#3a2488" fill-opacity="0.55"/>
<circle cx="271" cy="253" r="7.3" fill="#3a2488" fill-opacity="0.55"/>
<circle cx="208" cy="243" r="6.2" fill="#3a2488" fill-opacity="0.55"/>
<circle cx="257" cy="264" r="5.1" fill="#3a2488" fill-opacity="0.55"/>
<circle cx="265" cy="303" r="4.7" fill="#3a2488" fill-opacity="0.55"/>
<circle cx="193" cy="265" r="4.1" fill="#3a2488" fill-opacity="0.55"/>
<circle cx="263" cy="193" r="6.6" fill="#3a2488" fill-opacity="0.55"/>
<ellipse cx="165" cy="362" rx="10" ry="18" fill="#5a3c8a" transform="rotate(-30 165 362)"/>
</g>
<text x="245" y="71" font-size="48" font-weight="bold" text-anchor="middle" fill="#111" filter="url(#blur2)">d9</text>
</g></svg>
<svg x="200" y="26" width="60" height="60" viewBox="0 0 520 520">
<defs><clipPath id="ca14"><rect x="10" y="10" width="493" height="498"/></clipPath></defs>
<g clip-path="url(#ca14)">
<rect x="5" y="5" width="503" height="508" fill="#f8e7d1"/>
<g filter="url(#blur)">
<ellipse cx="55" cy="65" rx="66" ry="71" fill="#fdf1cd" fill-opacity="0.8"/>
<ellipse cx="165" cy="65" rx="48" ry="52" fill="#fdf1cd" fill-opacity="0.8"/>
<ellipse cx="270" cy="85" rx="60" ry="50" fill="#fdf1cd" fill-opacity="0.8"/>
<ellipse cx="460" cy="50" rx="52" ry="52" fill="#fdf1cd" fill-opacity="0.8"/>
<ellipse cx="170" cy="170" rx="55" ry="55" fill="#fdf1cd" fill-opacity="0.8"/>
<ellipse cx="440" cy="225" rx="60" ry="58" fill="#fdf1cd" fill-opacity="0.8"/>
<ellipse cx="60" cy="325" rx="52" ry="66" fill="#fdf1cd" fill-opacity="0.8"/>
<ellipse cx="65" cy="435" rx="66" ry="66" fill="#fdf1cd" fill-opacity="0.8"/>
<ellipse cx="495" cy="370" rx="20" ry="44" fill="#fdf1cd" fill-opacity="0.8"/>
<ellipse cx="20" cy="460" rx="28" ry="50" fill="#fdf1cd" fill-opacity="0.8"/>
<ellipse cx="55" cy="65" rx="59" ry="64" fill="url(#solid2)"/>
<ellipse cx="165" cy="65" rx="41" ry="45" fill="url(#solid2)"/>
<ellipse cx="270" cy="85" rx="54" ry="43" fill="url(#solid2)"/>
<ellipse cx="460" cy="50" rx="45" ry="45" fill="url(#solid2)"/>
<ellipse cx="170" cy="170" rx="48" ry="48" fill="url(#solid2)"/>
<ellipse cx="440" cy="225" rx="54" ry="51" fill="url(#solid2)"/>
<ellipse cx="60" cy="325" rx="45" ry="59" fill="url(#solid2)"/>
<ellipse cx="65" cy="435" rx="59" ry="59" fill="url(#solid2)"/>
<ellipse cx="495" cy="370" rx="13" ry="37" fill="url(#solid2)"/>
<ellipse cx="20" cy="460" rx="21" ry="43" fill="url(#solid2)"/>
<ellipse cx="260" cy="258" rx="72" ry="84" fill="#6d62bd" transform="rotate(25 260 258)"/>
<circle cx="309" cy="215" r="7.3" fill="#9a86cc" fill-opacity="0.66"/>
<circle cx="208" cy="271" r="4.2" fill="#9a86cc" fill-opacity="0.69"/>
<circle cx="313" cy="228" r="6.1" fill="#9a86cc" fill-opacity="0.48"/>
<circle cx="227" cy="229" r="4.4" fill="#9a86cc" fill-opacity="0.49"/>
<circle cx="233" cy="254" r="8.0" fill="#9a86cc" fill-opacity="0.45"/>
<circle cx="282" cy="315" r="4.5" fill="#9a86cc" fill-opacity="0.40"/>
<circle cx="308" cy="255" r="4.5" fill="#9a86cc" fill-opacity="0.47"/>
<circle cx="228" cy="282" r="7.7" fill="#9a86cc" fill-opacity="0.38"/>
<circle cx="204" cy="277" r="4.8" fill="#9a86cc" fill-opacity="0.68"/>
<circle cx="199" cy="280" r="8.0" fill="#9a86cc" fill-opacity="0.69"/>
<circle cx="280" cy="293" r="5.0" fill="#9a86cc" fill-opacity="0.47"/>
<circle cx="219" cy="251" r="7.8" fill="#9a86cc" fill-opacity="0.52"/>
<circle cx="295" cy="203" r="6.8" fill="#9a86cc" fill-opacity="0.46"/>
<circle cx="306" cy="233" r="4.1" fill="#9a86cc" fill-opacity="0.47"/>
<circle cx="308" cy="269" r="7.0" fill="#9a86cc" fill-opacity="0.62"/>
<circle cx="217" cy="242" r="6.3" fill="#9a86cc" fill-opacity="0.51"/>
<circle cx="250" cy="321" r="6.2" fill="#9a86cc" fill-opacity="0.50"/>
<circle cx="278" cy="245" r="6.1" fill="#9a86cc" fill-opacity="0.64"/>
<circle cx="241" cy="218" r="4.8" fill="#9a86cc" fill-opacity="0.56"/>
<circle cx="199" cy="251" r="7.7" fill="#9a86cc" fill-opacity="0.65"/>
<circle cx="310" cy="243" r="4.7" fill="#9a86cc" fill-opacity="0.69"/>
<circle cx="281" cy="326" r="7.4" fill="#9a86cc" fill-opacity="0.41"/>
<circle cx="277" cy="300" r="5.1" fill="#9a86cc" fill-opacity="0.42"/>
<circle cx="277" cy="221" r="4.2" fill="#9a86cc" fill-opacity="0.69"/>
<circle cx="252" cy="331" r="5.6" fill="#9a86cc" fill-opacity="0.66"/>
<circle cx="294" cy="243" r="4.5" fill="#9a86cc" fill-opacity="0.35"/>
<circle cx="233" cy="283" r="7.5" fill="#9a86cc" fill-opacity="0.63"/>
<circle cx="282" cy="286" r="8.0" fill="#9a86cc" fill-opacity="0.59"/>
<circle cx="278" cy="255" r="6.1" fill="#9a86cc" fill-opacity="0.62"/>
<circle cx="264" cy="292" r="4.4" fill="#9a86cc" fill-opacity="0.54"/>
<circle cx="301" cy="284" r="5.8" fill="#9a86cc" fill-opacity="0.40"/>
<circle cx="257" cy="189" r="6.4" fill="#9a86cc" fill-opacity="0.46"/>
<circle cx="220" cy="208" r="6.0" fill="#9a86cc" fill-opacity="0.48"/>
<circle cx="294" cy="259" r="5.3" fill="#9a86cc" fill-opacity="0.48"/>
<circle cx="277" cy="253" r="6.4" fill="#9a86cc" fill-opacity="0.69"/>
<circle cx="255" cy="310" r="7.7" fill="#9a86cc" fill-opacity="0.65"/>
<circle cx="255" cy="314" r="7.3" fill="#9a86cc" fill-opacity="0.45"/>
<circle cx="290" cy="269" r="7.9" fill="#9a86cc" fill-opacity="0.44"/>
<circle cx="284" cy="250" r="4.5" fill="#9a86cc" fill-opacity="0.53"/>
<circle cx="283" cy="240" r="6.9" fill="#9a86cc" fill-opacity="0.47"/>
<circle cx="313" cy="255" r="6.6" fill="#9a86cc" fill-opacity="0.45"/>
<circle cx="245" cy="235" r="7.9" fill="#9a86cc" fill-opacity="0.51"/>
<circle cx="313" cy="280" r="5.9" fill="#9a86cc" fill-opacity="0.54"/>
<circle cx="273" cy="287" r="7.5" fill="#9a86cc" fill-opacity="0.70"/>
<circle cx="218" cy="249" r="5.6" fill="#3a2488" fill-opacity="0.55"/>
<circle cx="247" cy="245" r="6.0" fill="#3a2488" fill-opacity="0.55"/>
<circle cx="207" cy="289" r="5.7" fill="#3a2488" fill-opacity="0.55"/>
<circle cx="263" cy="240" r="6.5" fill="#3a2488" fill-opacity="0.55"/>
<circle cx="285" cy="221" r="6.6" fill="#3a2488" fill-opacity="0.55"/>
<circle cx="299" cy="253" r="5.7" fill="#3a2488" fill-opacity="0.55"/>
<circle cx="271" cy="313" r="4.4" fill="#3a2488" fill-opacity="0.55"/>
<circle cx="292" cy="225" r="7.9" fill="#3a2488" fill-opacity="0.55"/>
<circle cx="297" cy="211" r="6.8" fill="#3a2488" fill-opacity="0.55"/>
<circle cx="237" cy="290" r="4.3" fill="#3a2488" fill-opacity="0.55"/>
<circle cx="219" cy="256" r="5.8" fill="#3a2488" fill-opacity="0.55"/>
<circle cx="224" cy="302" r="7.0" fill="#3a2488" fill-opacity="0.55"/>
<circle cx="295" cy="217" r="8.0" fill="#3a2488" fill-opacity="0.55"/>
<circle cx="278" cy="286" r="4.3" fill="#3a2488" fill-opacity="0.55"/>
<circle cx="225" cy="301" r="4.0" fill="#3a2488" fill-opacity="0.55"/>
<circle cx="272" cy="275" r="5.9" fill="#3a2488" fill-opacity="0.55"/>
<circle cx="245" cy="294" r="5.7" fill="#3a2488" fill-opacity="0.55"/>
<circle cx="307" cy="268" r="7.6" fill="#3a2488" fill-opacity="0.55"/>
<circle cx="302" cy="232" r="7.3" fill="#3a2488" fill-opacity="0.55"/>
<circle cx="255" cy="189" r="5.3" fill="#3a2488" fill-opacity="0.55"/>
<circle cx="292" cy="196" r="5.7" fill="#3a2488" fill-opacity="0.55"/>
<circle cx="210" cy="280" r="6.3" fill="#3a2488" fill-opacity="0.55"/>
<circle cx="304" cy="307" r="7.5" fill="#3a2488" fill-opacity="0.55"/>
<circle cx="228" cy="294" r="4.8" fill="#3a2488" fill-opacity="0.55"/>
<circle cx="287" cy="232" r="5.6" fill="#3a2488" fill-opacity="0.55"/>
<circle cx="282" cy="322" r="4.4" fill="#3a2488" fill-opacity="0.55"/>
<circle cx="245" cy="245" r="6.6" fill="#3a2488" fill-opacity="0.55"/>
<circle cx="298" cy="266" r="4.1" fill="#3a2488" fill-opacity="0.55"/>
<circle cx="319" cy="261" r="7.7" fill="#3a2488" fill-opacity="0.55"/>
<circle cx="274" cy="294" r="6.1" fill="#3a2488" fill-opacity="0.55"/>
<ellipse cx="265" cy="250" rx="68" ry="76" fill="#41329a" transform="rotate(25 265 250)"/>
<circle cx="249" cy="241" r="7.5" fill="#9a86cc" fill-opacity="0.51"/>
<circle cx="270" cy="297" r="6.0" fill="#9a86cc" fill-opacity="0.55"/>
<circle cx="293" cy="211" r="7.3" fill="#9a86cc" fill-opacity="0.42"/>
<circle cx="252" cy="316" r="4.4" fill="#9a86cc" fill-opacity="0.62"/>
<circle cx="242" cy="208" r="6.2" fill="#9a86cc" fill-opacity="0.46"/>
<circle cx="275" cy="286" r="7.6" fill="#9a86cc" fill-opacity="0.66"/>
<circle cx="283" cy="235" r="6.2" fill="#9a86cc" fill-opacity="0.70"/>
<circle cx="218" cy="239" r="7.3" fill="#9a86cc" fill-opacity="0.61"/>
<circle cx="232" cy="297" r="5.2" fill="#9a86cc" fill-opacity="0.35"/>
<circle cx="313" cy="216" r="6.7" fill="#9a86cc" fill-opacity="0.61"/>
<circle cx="263" cy="219" r="5.4" fill="#9a86cc" fill-opacity="0.52"/>
<circle cx="302" cy="267" r="6.3" fill="#9a86cc" fill-opacity="0.44"/>
<circle cx="255" cy="278" r="6.8" fill="#9a86cc" fill-opacity="0.55"/>
<circle cx="285" cy="227" r="5.5" fill="#9a86cc" fill-opacity="0.39"/>
<circle cx="291" cy="191" r="6.2" fill="#9a86cc" fill-opacity="0.46"/>
<circle cx="308" cy="295" r="6.9" fill="#9a86cc" fill-opacity="0.41"/>
<circle cx="243" cy="269" r="5.6" fill="#9a86cc" fill-opacity="0.42"/>
<circle cx="270" cy="262" r="5.6" fill="#9a86cc" fill-opacity="0.55"/>
<circle cx="227" cy="250" r="4.4" fill="#9a86cc" fill-opacity="0.37"/>
<circle cx="298" cy="200" r="5.9" fill="#9a86cc" fill-opacity="0.42"/>
<circle cx="301" cy="265" r="6.0" fill="#9a86cc" fill-opacity="0.41"/>
<circle cx="245" cy="268" r="4.4" fill="#9a86cc" fill-opacity="0.54"/>
<circle cx="265" cy="285" r="7.7" fill="#9a86cc" fill-opacity="0.65"/>
<circle cx="253" cy="213" r="6.1" fill="#9a86cc" fill-opacity="0.49"/>
<circle cx="287" cy="271" r="4.3" fill="#9a86cc" fill-opacity="0.45"/>
<circle cx="222" cy="268" r="5.3" fill="#9a86cc" fill-opacity="0.68"/>
<circle cx="266" cy="307" r="4.5" fill="#9a86cc" fill-opacity="0.68"/>
<circle cx="276" cy="305" r="5.9" fill="#9a86cc" fill-opacity="0.50"/>
<circle cx="245" cy="232" r="5.0" fill="#9a86cc" fill-opacity="0.69"/>
<circle cx="265" cy="207" r="4.7" fill="#9a86cc" fill-opacity="0.55"/>
<circle cx="219" cy="237" r="6.0" fill="#9a86cc" fill-opacity="0.42"/>
<circle cx="237" cy="217" r="4.9" fill="#9a86cc" fill-opacity="0.69"/>
<circle cx="316" cy="271" r="7.2" fill="#9a86cc" fill-opacity="0.61"/>
<circle cx="292" cy="213" r="7.6" fill="#9a86cc" fill-opacity="0.38"/>
<circle cx="237" cy="233" r="6.8" fill="#9a86cc" fill-opacity="0.61"/>
<circle cx="306" cy="216" r="4.9" fill="#9a86cc" fill-opacity="0.51"/>
<circle cx="275" cy="311" r="7.9" fill="#9a86cc" fill-opacity="0.46"/>
<circle cx="301" cy="246" r="7.0" fill="#9a86cc" fill-opacity="0.41"/>
<circle cx="308" cy="249" r="6.7" fill="#9a86cc" fill-opacity="0.44"/>
<circle cx="287" cy="302" r="6.0" fill="#9a86cc" fill-opacity="0.48"/>
<circle cx="237" cy="300" r="7.5" fill="#9a86cc" fill-opacity="0.61"/>
<circle cx="248" cy="239" r="6.0" fill="#9a86cc" fill-opacity="0.59"/>
<circle cx="209" cy="239" r="5.7" fill="#9a86cc" fill-opacity="0.63"/>
<circle cx="220" cy="257" r="5.0" fill="#9a86cc" fill-opacity="0.54"/>
<circle cx="232" cy="228" r="5.7" fill="#3a2488" fill-opacity="0.55"/>
<circle cx="289" cy="258" r="4.4" fill="#3a2488" fill-opacity="0.55"/>
<circle cx="247" cy="226" r="5.3" fill="#3a2488" fill-opacity="0.55"/>
<circle cx="267" cy="201" r="6.3" fill="#3a2488" fill-opacity="0.55"/>
<circle cx="319" cy="232" r="6.2" fill="#3a2488" fill-opacity="0.55"/>
<circle cx="260" cy="209" r="6.4" fill="#3a2488" fill-opacity="0.55"/>
<circle cx="309" cy="264" r="5.2" fill="#3a2488" fill-opacity="0.55"/>
<circle cx="263" cy="184" r="4.1" fill="#3a2488" fill-opacity="0.55"/>
<circle cx="272" cy="276" r="4.1" fill="#3a2488" fill-opacity="0.55"/>
<circle cx="317" cy="243" r="5.4" fill="#3a2488" fill-opacity="0.55"/>
<circle cx="213" cy="256" r="4.8" fill="#3a2488" fill-opacity="0.55"/>
<circle cx="292" cy="291" r="6.3" fill="#3a2488" fill-opacity="0.55"/>
<circle cx="242" cy="204" r="5.1" fill="#3a2488" fill-opacity="0.55"/>
<circle cx="277" cy="271" r="7.0" fill="#3a2488" fill-opacity="0.55"/>
<circle cx="224" cy="205" r="6.4" fill="#3a2488" fill-opacity="0.55"/>
<circle cx="268" cy="254" r="6.6" fill="#3a2488" fill-opacity="0.55"/>
<circle cx="312" cy="280" r="6.9" fill="#3a2488" fill-opacity="0.55"/>
<circle cx="233" cy="279" r="6.1" fill="#3a2488" fill-opacity="0.55"/>
<circle cx="313" cy="248" r="5.7" fill="#3a2488" fill-opacity="0.55"/>
<circle cx="261" cy="307" r="5.2" fill="#3a2488" fill-opacity="0.55"/>
<circle cx="297" cy="250" r="4.3" fill="#3a2488" fill-opacity="0.55"/>
<circle cx="257" cy="223" r="7.2" fill="#3a2488" fill-opacity="0.55"/>
<circle cx="308" cy="260" r="6.0" fill="#3a2488" fill-opacity="0.55"/>
<circle cx="237" cy="310" r="4.4" fill="#3a2488" fill-opacity="0.55"/>
<circle cx="309" cy="287" r="7.7" fill="#3a2488" fill-opacity="0.55"/>
<circle cx="223" cy="290" r="6.3" fill="#3a2488" fill-opacity="0.55"/>
<circle cx="218" cy="269" r="6.5" fill="#3a2488" fill-opacity="0.55"/>
<circle cx="252" cy="279" r="5.8" fill="#3a2488" fill-opacity="0.55"/>
<circle cx="213" cy="268" r="4.5" fill="#3a2488" fill-opacity="0.55"/>
<circle cx="248" cy="277" r="8.0" fill="#3a2488" fill-opacity="0.55"/>
</g>
<text x="270" y="71" font-size="48" font-weight="bold" text-anchor="middle" fill="#111" filter="url(#blur2)">d19</text>
</g></svg>
<svg x="260" y="26" width="60" height="60" viewBox="0 0 520 520">
<defs><clipPath id="ca15"><rect x="10" y="10" width="493" height="498"/></clipPath></defs>
<g clip-path="url(#ca15)">
<rect x="5" y="5" width="503" height="508" fill="#f8e7d1"/>
<g filter="url(#blur)">
<ellipse cx="55" cy="135" rx="48" ry="50" fill="#fdf1cd" fill-opacity="0.8"/>
<ellipse cx="150" cy="130" rx="52" ry="50" fill="#fdf1cd" fill-opacity="0.8"/>
<ellipse cx="190" cy="70" rx="60" ry="44" fill="#fdf1cd" fill-opacity="0.8"/>
<ellipse cx="390" cy="60" rx="71" ry="66" fill="#fdf1cd" fill-opacity="0.8"/>
<ellipse cx="480" cy="90" rx="39" ry="60" fill="#fdf1cd" fill-opacity="0.8"/>
<ellipse cx="145" cy="225" rx="58" ry="58" fill="#fdf1cd" fill-opacity="0.8"/>
<ellipse cx="45" cy="265" rx="41" ry="52" fill="#fdf1cd" fill-opacity="0.8"/>
<ellipse cx="375" cy="225" rx="71" ry="60" fill="#fdf1cd" fill-opacity="0.8"/>
<ellipse cx="475" cy="200" rx="44" ry="71" fill="#fdf1cd" fill-opacity="0.8"/>
<ellipse cx="280" cy="335" rx="60" ry="37" fill="#fdf1cd" fill-opacity="0.8"/>
<ellipse cx="35" cy="370" rx="34" ry="50" fill="#fdf1cd" fill-opacity="0.8"/>
<ellipse cx="140" cy="405" rx="55" ry="48" fill="#fdf1cd" fill-opacity="0.8"/>
<ellipse cx="310" cy="395" rx="55" ry="52" fill="#fdf1cd" fill-opacity="0.8"/>
<ellipse cx="405" cy="425" rx="50" ry="52" fill="#fdf1cd" fill-opacity="0.8"/>
<ellipse cx="225" cy="440" rx="50" ry="50" fill="#fdf1cd" fill-opacity="0.8"/>
<ellipse cx="55" cy="470" rx="55" ry="44" fill="#fdf1cd" fill-opacity="0.8"/>
<ellipse cx="310" cy="480" rx="50" ry="39" fill="#fdf1cd" fill-opacity="0.8"/>
<ellipse cx="475" cy="470" rx="39" ry="44" fill="#fdf1cd" fill-opacity="0.8"/>
<ellipse cx="170" cy="20" rx="50" ry="20" fill="#fdf1cd" fill-opacity="0.8"/>
<ellipse cx="490" cy="30" rx="28" ry="34" fill="#fdf1cd" fill-opacity="0.8"/>
<ellipse cx="55" cy="135" rx="41" ry="43" fill="url(#ring2)"/>
<ellipse cx="150" cy="130" rx="45" ry="43" fill="url(#ring2)"/>
<ellipse cx="190" cy="70" rx="54" ry="37" fill="url(#ring2)"/>
<ellipse cx="390" cy="60" rx="64" ry="59" fill="url(#ring2)"/>
<ellipse cx="480" cy="90" rx="32" ry="54" fill="url(#ring2)"/>
<ellipse cx="145" cy="225" rx="51" ry="51" fill="url(#ring2)"/>
<ellipse cx="45" cy="265" rx="34" ry="45" fill="url(#ring2)"/>
<ellipse cx="375" cy="225" rx="64" ry="54" fill="url(#ring2)"/>
<ellipse cx="475" cy="200" rx="37" ry="64" fill="url(#ring2)"/>
<ellipse cx="280" cy="335" rx="54" ry="30" fill="url(#ring2)"/>
<ellipse cx="35" cy="370" rx="27" ry="43" fill="url(#ring2)"/>
<ellipse cx="140" cy="405" rx="48" ry="41" fill="url(#ring2)"/>
<ellipse cx="310" cy="395" rx="48" ry="45" fill="url(#ring2)"/>
<ellipse cx="405" cy="425" rx="43" ry="45" fill="url(#ring2)"/>
<ellipse cx="225" cy="440" rx="43" ry="43" fill="url(#ring2)"/>
<ellipse cx="55" cy="470" rx="48" ry="37" fill="url(#ring2)"/>
<ellipse cx="310" cy="480" rx="43" ry="32" fill="url(#ring2)"/>
<ellipse cx="475" cy="470" rx="32" ry="37" fill="url(#ring2)"/>
<ellipse cx="170" cy="20" rx="43" ry="13" fill="url(#ring2)"/>
<ellipse cx="490" cy="30" rx="21" ry="27" fill="url(#ring2)"/>
<path d="M200.0,225.0 C208.8,212.2 235.8,196.6 255.0,195.0 C274.2,193.4 308.0,203.8 320.0,215.0 C332.0,226.2 334.8,250.6 330.0,265.0 C325.2,279.4 304.4,298.1 290.0,305.0 C275.6,311.9 254.4,312.8 240.0,308.0 C225.6,303.2 206.4,288.3 200.0,275.0 C193.6,261.7 191.2,237.8 200.0,225.0Z" fill="#45379f" stroke="#45379f" stroke-width="6" stroke-linejoin="round"/>
<circle cx="267" cy="219" r="5.7" fill="#9a86cc" fill-opacity="0.70"/>
<circle cx="300" cy="234" r="4.6" fill="#9a86cc" fill-opacity="0.59"/>
<circle cx="290" cy="288" r="6.5" fill="#9a86cc" fill-opacity="0.52"/>
<circle cx="256" cy="255" r="6.5" fill="#9a86cc" fill-opacity="0.53"/>
<circle cx="271" cy="263" r="4.1" fill="#9a86cc" fill-opacity="0.54"/>
<circle cx="249" cy="300" r="6.4" fill="#9a86cc" fill-opacity="0.47"/>
<circle cx="241" cy="235" r="6.2" fill="#9a86cc" fill-opacity="0.42"/>
<circle cx="231" cy="253" r="4.5" fill="#9a86cc" fill-opacity="0.42"/>
<circle cx="295" cy="255" r="4.8" fill="#9a86cc" fill-opacity="0.49"/>
<circle cx="283" cy="299" r="7.4" fill="#9a86cc" fill-opacity="0.66"/>
<circle cx="221" cy="230" r="5.3" fill="#9a86cc" fill-opacity="0.61"/>
<circle cx="261" cy="210" r="4.4" fill="#9a86cc" fill-opacity="0.55"/>
<circle cx="255" cy="295" r="7.1" fill="#9a86cc" fill-opacity="0.64"/>
<circle cx="271" cy="243" r="4.8" fill="#9a86cc" fill-opacity="0.61"/>
<circle cx="234" cy="291" r="4.0" fill="#9a86cc" fill-opacity="0.58"/>
<circle cx="269" cy="267" r="7.3" fill="#9a86cc" fill-opacity="0.43"/>
<circle cx="251" cy="265" r="4.6" fill="#9a86cc" fill-opacity="0.45"/>
<circle cx="228" cy="275" r="6.3" fill="#9a86cc" fill-opacity="0.63"/>
<circle cx="289" cy="270" r="5.4" fill="#9a86cc" fill-opacity="0.45"/>
<circle cx="234" cy="230" r="5.4" fill="#9a86cc" fill-opacity="0.43"/>
<circle cx="242" cy="283" r="4.8" fill="#9a86cc" fill-opacity="0.57"/>
<circle cx="279" cy="247" r="7.1" fill="#9a86cc" fill-opacity="0.51"/>
<circle cx="320" cy="253" r="5.0" fill="#9a86cc" fill-opacity="0.54"/>
<circle cx="291" cy="286" r="5.6" fill="#9a86cc" fill-opacity="0.55"/>
<circle cx="273" cy="277" r="7.3" fill="#9a86cc" fill-opacity="0.53"/>
<circle cx="277" cy="284" r="5.8" fill="#9a86cc" fill-opacity="0.42"/>
<circle cx="279" cy="260" r="5.4" fill="#9a86cc" fill-opacity="0.38"/>
<circle cx="294" cy="230" r="5.7" fill="#9a86cc" fill-opacity="0.62"/>
<circle cx="284" cy="286" r="6.9" fill="#9a86cc" fill-opacity="0.63"/>
<circle cx="312" cy="238" r="7.1" fill="#9a86cc" fill-opacity="0.43"/>
<circle cx="313" cy="252" r="7.0" fill="#9a86cc" fill-opacity="0.56"/>
<circle cx="300" cy="258" r="4.5" fill="#9a86cc" fill-opacity="0.41"/>
<circle cx="269" cy="277" r="5.3" fill="#9a86cc" fill-opacity="0.56"/>
<circle cx="269" cy="248" r="4.9" fill="#9a86cc" fill-opacity="0.37"/>
<circle cx="273" cy="267" r="7.1" fill="#9a86cc" fill-opacity="0.56"/>
<circle cx="223" cy="255" r="4.3" fill="#9a86cc" fill-opacity="0.66"/>
<circle cx="264" cy="286" r="6.2" fill="#9a86cc" fill-opacity="0.36"/>
<circle cx="267" cy="244" r="5.8" fill="#9a86cc" fill-opacity="0.60"/>
<circle cx="255" cy="300" r="8.0" fill="#9a86cc" fill-opacity="0.41"/>
<circle cx="284" cy="219" r="4.0" fill="#9a86cc" fill-opacity="0.62"/>
<circle cx="241" cy="296" r="5.5" fill="#9a86cc" fill-opacity="0.65"/>
<circle cx="294" cy="290" r="5.1" fill="#9a86cc" fill-opacity="0.65"/>
<circle cx="239" cy="241" r="4.8" fill="#9a86cc" fill-opacity="0.51"/>
<circle cx="283" cy="251" r="5.9" fill="#9a86cc" fill-opacity="0.59"/>
<circle cx="247" cy="290" r="7.1" fill="#3a2488" fill-opacity="0.55"/>
<circle cx="292" cy="277" r="5.2" fill="#3a2488" fill-opacity="0.55"/>
<circle cx="235" cy="221" r="4.3" fill="#3a2488" fill-opacity="0.55"/>
<circle cx="267" cy="219" r="7.7" fill="#3a2488" fill-opacity="0.55"/>
<circle cx="241" cy="264" r="6.9" fill="#3a2488" fill-opacity="0.55"/>
<circle cx="231" cy="241" r="6.4" fill="#3a2488" fill-opacity="0.55"/>
<circle cx="314" cy="244" r="5.6" fill="#3a2488" fill-opacity="0.55"/>
<circle cx="255" cy="256" r="7.8" fill="#3a2488" fill-opacity="0.55"/>
<circle cx="276" cy="283" r="5.7" fill="#3a2488" fill-opacity="0.55"/>
<circle cx="245" cy="224" r="4.9" fill="#3a2488" fill-opacity="0.55"/>
<circle cx="315" cy="253" r="4.4" fill="#3a2488" fill-opacity="0.55"/>
<circle cx="296" cy="286" r="5.4" fill="#3a2488" fill-opacity="0.55"/>
<circle cx="259" cy="271" r="6.4" fill="#3a2488" fill-opacity="0.55"/>
<circle cx="246" cy="259" r="5.5" fill="#3a2488" fill-opacity="0.55"/>
<circle cx="246" cy="259" r="7.8" fill="#3a2488" fill-opacity="0.55"/>
<circle cx="286" cy="239" r="6.6" fill="#3a2488" fill-opacity="0.55"/>
<circle cx="250" cy="267" r="5.8" fill="#3a2488" fill-opacity="0.55"/>
<circle cx="239" cy="290" r="6.6" fill="#3a2488" fill-opacity="0.55"/>
<circle cx="232" cy="265" r="6.4" fill="#3a2488" fill-opacity="0.55"/>
<circle cx="269" cy="255" r="6.5" fill="#3a2488" fill-opacity="0.55"/>
<circle cx="290" cy="222" r="6.0" fill="#3a2488" fill-opacity="0.55"/>
<circle cx="228" cy="230" r="6.1" fill="#3a2488" fill-opacity="0.55"/>
<circle cx="283" cy="231" r="6.0" fill="#3a2488" fill-opacity="0.55"/>
<circle cx="263" cy="293" r="7.3" fill="#3a2488" fill-opacity="0.55"/>
<circle cx="291" cy="214" r="4.8" fill="#3a2488" fill-opacity="0.55"/>
<circle cx="294" cy="257" r="7.1" fill="#3a2488" fill-opacity="0.55"/>
<circle cx="290" cy="225" r="5.2" fill="#3a2488" fill-opacity="0.55"/>
<circle cx="297" cy="245" r="7.4" fill="#3a2488" fill-opacity="0.55"/>
<circle cx="251" cy="290" r="4.3" fill="#3a2488" fill-opacity="0.55"/>
<circle cx="310" cy="237" r="5.9" fill="#3a2488" fill-opacity="0.55"/>
<ellipse cx="487" cy="437" rx="10" ry="10" fill="#3a2c9a" transform="rotate(0 487 437)"/>
</g>
<text x="265" y="71" font-size="48" font-weight="bold" text-anchor="middle" fill="#111" filter="url(#blur2)">d30</text>
</g></svg>
<svg x="20" y="87" width="60" height="60" viewBox="0 0 520 520">
<defs><clipPath id="ca21"><rect x="10" y="22" width="487" height="488"/></clipPath></defs>
<g clip-path="url(#ca21)">
<rect x="5" y="17" width="497" height="498" fill="#f8e7d1"/>
<g filter="url(#blur)">
<ellipse cx="65" cy="30" rx="55" ry="34" fill="#fdf1cd" fill-opacity="0.8"/>
<ellipse cx="170" cy="30" rx="50" ry="34" fill="#fdf1cd" fill-opacity="0.8"/>
<ellipse cx="85" cy="120" rx="58" ry="55" fill="#fdf1cd" fill-opacity="0.8"/>
<ellipse cx="235" cy="100" rx="44" ry="55" fill="#fdf1cd" fill-opacity="0.8"/>
<ellipse cx="405" cy="130" rx="58" ry="60" fill="#fdf1cd" fill-opacity="0.8"/>
<ellipse cx="490" cy="120" rx="23" ry="50" fill="#fdf1cd" fill-opacity="0.8"/>
<ellipse cx="110" cy="225" rx="58" ry="58" fill="#fdf1cd" fill-opacity="0.8"/>
<ellipse cx="450" cy="330" rx="52" ry="55" fill="#fdf1cd" fill-opacity="0.8"/>
<ellipse cx="45" cy="400" rx="52" ry="55" fill="#fdf1cd" fill-opacity="0.8"/>
<ellipse cx="145" cy="375" rx="55" ry="60" fill="#fdf1cd" fill-opacity="0.8"/>
<ellipse cx="270" cy="405" rx="55" ry="44" fill="#fdf1cd" fill-opacity="0.8"/>
<ellipse cx="355" cy="450" rx="58" ry="55" fill="#fdf1cd" fill-opacity="0.8"/>
<ellipse cx="465" cy="420" rx="50" ry="58" fill="#fdf1cd" fill-opacity="0.8"/>
<ellipse cx="225" cy="495" rx="55" ry="28" fill="#fdf1cd" fill-opacity="0.8"/>
<ellipse cx="420" cy="500" rx="50" ry="23" fill="#fdf1cd" fill-opacity="0.8"/>
<ellipse cx="65" cy="30" rx="48" ry="27" fill="url(#ring)"/>
<ellipse cx="170" cy="30" rx="43" ry="27" fill="url(#ring)"/>
<ellipse cx="85" cy="120" rx="51" ry="48" fill="url(#ring)"/>
<ellipse cx="235" cy="100" rx="37" ry="48" fill="url(#ring)"/>
<ellipse cx="405" cy="130" rx="51" ry="54" fill="url(#ring)"/>
<ellipse cx="490" cy="120" rx="16" ry="43" fill="url(#ring)"/>
<ellipse cx="110" cy="225" rx="51" ry="51" fill="url(#ring)"/>
<ellipse cx="450" cy="330" rx="45" ry="48" fill="url(#ring)"/>
<ellipse cx="45" cy="400" rx="45" ry="48" fill="url(#ring)"/>
<ellipse cx="145" cy="375" rx="48" ry="54" fill="url(#ring)"/>
<ellipse cx="270" cy="405" rx="48" ry="37" fill="url(#ring)"/>
<ellipse cx="355" cy="450" rx="51" ry="48" fill="url(#ring)"/>
<ellipse cx="465" cy="420" rx="43" ry="51" fill="url(#ring)"/>
<ellipse cx="225" cy="495" rx="48" ry="21" fill="url(#ring)"/>
<ellipse cx="420" cy="500" rx="43" ry="16" fill="url(#ring)"/>
<path d="M235.0,150.0 C261.4,149.2 308.4,172.8 330.0,200.0 C351.6,227.2 370.0,290.4 370.0,320.0 C370.0,349.6 354.8,376.2 330.0,385.0 C305.2,393.8 245.4,390.2 215.0,375.0 C184.6,359.8 148.0,317.2 140.0,290.0 C132.0,262.8 149.8,227.4 165.0,205.0 C180.2,182.6 208.6,150.8 235.0,150.0Z" fill="#d2cdec" stroke="#7f78cc" stroke-width="6" stroke-linejoin="round"/>
<path d="M168.0,228.0 C180.8,207.5 212.6,176.2 235.0,172.0 C257.4,167.8 290.4,183.1 308.0,202.0 C325.6,220.9 345.0,264.2 345.0,290.0 C345.0,315.8 328.0,350.8 308.0,363.0 C288.0,375.2 244.5,376.1 220.0,366.0 C195.5,355.9 163.3,322.1 155.0,300.0 C146.7,277.9 155.2,248.5 168.0,228.0Z" fill="#654eab" stroke="#4030a0" stroke-width="6" stroke-linejoin="round"/>
<circle cx="278" cy="291" r="6.3" fill="#9a86cc" fill-opacity="0.64"/>
<circle cx="219" cy="277" r="5.4" fill="#9a86cc" fill-opacity="0.46"/>
<circle cx="239" cy="316" r="7.6" fill="#9a86cc" fill-opacity="0.58"/>
<circle cx="288" cy="222" r="5.5" fill="#9a86cc" fill-opacity="0.55"/>
<circle cx="262" cy="214" r="5.7" fill="#9a86cc" fill-opacity="0.58"/>
<circle cx="277" cy="259" r="6.1" fill="#9a86cc" fill-opacity="0.45"/>
<circle cx="248" cy="278" r="7.9" fill="#9a86cc" fill-opacity="0.66"/>
<circle cx="308" cy="301" r="7.0" fill="#9a86cc" fill-opacity="0.45"/>
<circle cx="181" cy="258" r="4.8" fill="#9a86cc" fill-opacity="0.61"/>
<circle cx="271" cy="217" r="7.3" fill="#9a86cc" fill-opacity="0.58"/>
<circle cx="324" cy="309" r="4.9" fill="#9a86cc" fill-opacity="0.60"/>
<circle cx="268" cy="284" r="6.1" fill="#9a86cc" fill-opacity="0.48"/>
<circle cx="296" cy="349" r="6.4" fill="#9a86cc" fill-opacity="0.51"/>
<circle cx="244" cy="270" r="6.6" fill="#9a86cc" fill-opacity="0.61"/>
<circle cx="223" cy="237" r="7.9" fill="#9a86cc" fill-opacity="0.39"/>
<circle cx="282" cy="222" r="6.3" fill="#9a86cc" fill-opacity="0.68"/>
<circle cx="262" cy="218" r="6.6" fill="#9a86cc" fill-opacity="0.55"/>
<circle cx="291" cy="344" r="7.4" fill="#9a86cc" fill-opacity="0.36"/>
<circle cx="267" cy="233" r="7.2" fill="#9a86cc" fill-opacity="0.57"/>
<circle cx="264" cy="315" r="6.3" fill="#9a86cc" fill-opacity="0.46"/>
<circle cx="204" cy="258" r="6.5" fill="#9a86cc" fill-opacity="0.39"/>
<circle cx="302" cy="290" r="6.1" fill="#9a86cc" fill-opacity="0.44"/>
<circle cx="215" cy="314" r="7.7" fill="#9a86cc" fill-opacity="0.63"/>
<circle cx="305" cy="341" r="5.9" fill="#9a86cc" fill-opacity="0.61"/>
<circle cx="228" cy="285" r="5.5" fill="#9a86cc" fill-opacity="0.53"/>
<circle cx="289" cy="255" r="4.6" fill="#9a86cc" fill-opacity="0.65"/>
<circle cx="193" cy="229" r="7.1" fill="#9a86cc" fill-opacity="0.62"/>
<circle cx="238" cy="261" r="4.3" fill="#9a86cc" fill-opacity="0.64"/>
<circle cx="181" cy="301" r="4.0" fill="#9a86cc" fill-opacity="0.55"/>
<circle cx="229" cy="326" r="6.0" fill="#9a86cc" fill-opacity="0.37"/>
<circle cx="285" cy="278" r="5.7" fill="#9a86cc" fill-opacity="0.66"/>
<circle cx="219" cy="314" r="6.5" fill="#9a86cc" fill-opacity="0.46"/>
<circle cx="235" cy="201" r="7.3" fill="#9a86cc" fill-opacity="0.47"/>
<circle cx="290" cy="280" r="7.6" fill="#9a86cc" fill-opacity="0.49"/>
<circle cx="182" cy="273" r="4.3" fill="#9a86cc" fill-opacity="0.69"/>
<circle cx="284" cy="267" r="4.3" fill="#9a86cc" fill-opacity="0.44"/>
<circle cx="228" cy="341" r="7.1" fill="#9a86cc" fill-opacity="0.39"/>
<circle cx="277" cy="286" r="6.2" fill="#9a86cc" fill-opacity="0.65"/>
<circle cx="171" cy="267" r="6.4" fill="#9a86cc" fill-opacity="0.47"/>
<circle cx="255" cy="350" r="7.0" fill="#9a86cc" fill-opacity="0.64"/>
<circle cx="272" cy="229" r="6.3" fill="#9a86cc" fill-opacity="0.57"/>
<circle cx="324" cy="286" r="5.3" fill="#9a86cc" fill-opacity="0.49"/>
<circle cx="300" cy="287" r="8.0" fill="#9a86cc" fill-opacity="0.69"/>
<circle cx="196" cy="229" r="4.0" fill="#9a86cc" fill-opacity="0.42"/>
<circle cx="258" cy="250" r="4.9" fill="#3a2488" fill-opacity="0.55"/>
<circle cx="300" cy="229" r="7.3" fill="#3a2488" fill-opacity="0.55"/>
<circle cx="258" cy="217" r="7.3" fill="#3a2488" fill-opacity="0.55"/>
<circle cx="232" cy="196" r="7.8" fill="#3a2488" fill-opacity="0.55"/>
<circle cx="261" cy="197" r="5.9" fill="#3a2488" fill-opacity="0.55"/>
<circle cx="231" cy="276" r="6.8" fill="#3a2488" fill-opacity="0.55"/>
<circle cx="223" cy="341" r="5.2" fill="#3a2488" fill-opacity="0.55"/>
<circle cx="215" cy="289" r="7.3" fill="#3a2488" fill-opacity="0.55"/>
<circle cx="315" cy="296" r="4.4" fill="#3a2488" fill-opacity="0.55"/>
<circle cx="235" cy="213" r="7.5" fill="#3a2488" fill-opacity="0.55"/>
<circle cx="247" cy="232" r="6.4" fill="#3a2488" fill-opacity="0.55"/>
<circle cx="322" cy="305" r="4.2" fill="#3a2488" fill-opacity="0.55"/>
<circle cx="239" cy="233" r="7.8" fill="#3a2488" fill-opacity="0.55"/>
<circle cx="297" cy="274" r="5.3" fill="#3a2488" fill-opacity="0.55"/>
<circle cx="235" cy="245" r="4.3" fill="#3a2488" fill-opacity="0.55"/>
<circle cx="266" cy="301" r="5.0" fill="#3a2488" fill-opacity="0.55"/>
<circle cx="222" cy="277" r="4.1" fill="#3a2488" fill-opacity="0.55"/>
<circle cx="280" cy="223" r="5.1" fill="#3a2488" fill-opacity="0.55"/>
<circle cx="306" cy="267" r="6.8" fill="#3a2488" fill-opacity="0.55"/>
<circle cx="279" cy="315" r="8.0" fill="#3a2488" fill-opacity="0.55"/>
<circle cx="302" cy="295" r="6.5" fill="#3a2488" fill-opacity="0.55"/>
<circle cx="204" cy="217" r="7.4" fill="#3a2488" fill-opacity="0.55"/>
<circle cx="183" cy="311" r="7.3" fill="#3a2488" fill-opacity="0.55"/>
<circle cx="278" cy="205" r="6.9" fill="#3a2488" fill-opacity="0.55"/>
<circle cx="260" cy="303" r="5.5" fill="#3a2488" fill-opacity="0.55"/>
<circle cx="179" cy="243" r="5.0" fill="#3a2488" fill-opacity="0.55"/>
<circle cx="302" cy="284" r="4.6" fill="#3a2488" fill-opacity="0.55"/>
<circle cx="196" cy="279" r="6.2" fill="#3a2488" fill-opacity="0.55"/>
<circle cx="239" cy="295" r="4.8" fill="#3a2488" fill-opacity="0.55"/>
<circle cx="333" cy="290" r="7.0" fill="#3a2488" fill-opacity="0.55"/>
</g>
<text x="262" y="87" font-size="48" font-weight="bold" text-anchor="middle" fill="#111" filter="url(#blur2)">d1</text>
</g></svg>
<svg x="80" y="87" width="60" height="60" viewBox="0 0 520 520">
<defs><clipPath id="ca22"><rect x="8" y="20" width="492" height="490"/></clipPath></defs>
<g clip-path="url(#ca22)">
<rect x="3" y="15" width="502" height="500" fill="#f8e7d1"/>
<g filter="url(#blur)">
<ellipse cx="75" cy="50" rx="52" ry="44" fill="#fdf1cd" fill-opacity="0.8"/>
<ellipse cx="205" cy="45" rx="55" ry="39" fill="#fdf1cd" fill-opacity="0.8"/>
<ellipse cx="325" cy="40" rx="55" ry="34" fill="#fdf1cd" fill-opacity="0.8"/>
<ellipse cx="445" cy="35" rx="55" ry="28" fill="#fdf1cd" fill-opacity="0.8"/>
<ellipse cx="270" cy="125" rx="58" ry="52" fill="#fdf1cd" fill-opacity="0.8"/>
<ellipse cx="420" cy="115" rx="55" ry="52" fill="#fdf1cd" fill-opacity="0.8"/>
<ellipse cx="55" cy="185" rx="58" ry="66" fill="#fdf1cd" fill-opacity="0.8"/>
<ellipse cx="455" cy="200" rx="50" ry="50" fill="#fdf1cd" fill-opacity="0.8"/>
<ellipse cx="400" cy="270" rx="60" ry="55" fill="#fdf1cd" fill-opacity="0.8"/>
<ellipse cx="475" cy="300" rx="39" ry="55" fill="#fdf1cd" fill-opacity="0.8"/>
<ellipse cx="145" cy="360" rx="60" ry="66" fill="#fdf1cd" fill-opacity="0.8"/>
<ellipse cx="300" cy="375" rx="52" ry="52" fill="#fdf1cd" fill-opacity="0.8"/>
<ellipse cx="400" cy="375" rx="52" ry="52" fill="#fdf1cd" fill-opacity="0.8"/>
<ellipse cx="225" cy="450" rx="55" ry="55" fill="#fdf1cd" fill-opacity="0.8"/>
<ellipse cx="20" cy="420" rx="31" ry="55" fill="#fdf1cd" fill-opacity="0.8"/>
<ellipse cx="465" cy="475" rx="50" ry="44" fill="#fdf1cd" fill-opacity="0.8"/>
<ellipse cx="365" cy="495" rx="55" ry="34" fill="#fdf1cd" fill-opacity="0.8"/>
<ellipse cx="40" cy="505" rx="39" ry="20" fill="#fdf1cd" fill-opacity="0.8"/>
<ellipse cx="75" cy="50" rx="45" ry="37" fill="url(#solid2)"/>
<ellipse cx="205" cy="45" rx="48" ry="32" fill="url(#solid2)"/>
<ellipse cx="325" cy="40" rx="48" ry="27" fill="url(#solid2)"/>
<ellipse cx="445" cy="35" rx="48" ry="21" fill="url(#solid2)"/>
<ellipse cx="270" cy="125" rx="51" ry="45" fill="url(#solid2)"/>
<ellipse cx="420" cy="115" rx="48" ry="45" fill="url(#solid2)"/>
<ellipse cx="55" cy="185" rx="51" ry="59" fill="url(#solid2)"/>
<ellipse cx="455" cy="200" rx="43" ry="43" fill="url(#solid2)"/>
<ellipse cx="400" cy="270" rx="54" ry="48" fill="url(#solid2)"/>
<ellipse cx="475" cy="300" rx="32" ry="48" fill="url(#solid2)"/>
<ellipse cx="145" cy="360" rx="54" ry="59" fill="url(#solid2)"/>
<ellipse cx="300" cy="375" rx="45" ry="45" fill="url(#solid2)"/>
<ellipse cx="400" cy="375" rx="45" ry="45" fill="url(#solid2)"/>
<ellipse cx="225" cy="450" rx="48" ry="48" fill="url(#solid2)"/>
<ellipse cx="20" cy="420" rx="24" ry="48" fill="url(#solid2)"/>
<ellipse cx="465" cy="475" rx="43" ry="37" fill="url(#solid2)"/>
<ellipse cx="365" cy="495" rx="48" ry="27" fill="url(#solid2)"/>
<ellipse cx="40" cy="505" rx="32" ry="13" fill="url(#solid2)"/>
<path d="M250.0,168.0 C274.0,170.4 332.2,215.7 345.0,240.0 C357.8,264.3 347.6,299.5 330.0,320.0 C312.4,340.5 261.9,371.2 235.0,368.0 C208.1,364.8 168.4,322.9 162.0,300.0 C155.6,277.1 180.9,246.1 195.0,225.0 C209.1,203.9 226.0,165.6 250.0,168.0Z" fill="#654eab" stroke="#4030a0" stroke-width="6" stroke-linejoin="round"/>
<circle cx="254" cy="313" r="4.6" fill="#9a86cc" fill-opacity="0.62"/>
<circle cx="245" cy="241" r="4.4" fill="#9a86cc" fill-opacity="0.38"/>
<circle cx="301" cy="307" r="4.5" fill="#9a86cc" fill-opacity="0.65"/>
<circle cx="194" cy="316" r="5.0" fill="#9a86cc" fill-opacity="0.46"/>
<circle cx="243" cy="289" r="5.8" fill="#9a86cc" fill-opacity="0.54"/>
<circle cx="230" cy="211" r="5.7" fill="#9a86cc" fill-opacity="0.68"/>
<circle cx="234" cy="245" r="5.4" fill="#9a86cc" fill-opacity="0.52"/>
<circle cx="237" cy="222" r="7.4" fill="#9a86cc" fill-opacity="0.44"/>
<circle cx="242" cy="231" r="4.7" fill="#9a86cc" fill-opacity="0.64"/>
<circle cx="248" cy="239" r="5.3" fill="#9a86cc" fill-opacity="0.66"/>
<circle cx="238" cy="209" r="7.3" fill="#9a86cc" fill-opacity="0.48"/>
<circle cx="219" cy="281" r="5.3" fill="#9a86cc" fill-opacity="0.39"/>
<circle cx="219" cy="325" r="7.5" fill="#9a86cc" fill-opacity="0.50"/>
<circle cx="203" cy="246" r="5.4" fill="#9a86cc" fill-opacity="0.41"/>
<circle cx="188" cy="259" r="4.9" fill="#9a86cc" fill-opacity="0.66"/>
<circle cx="184" cy="271" r="4.5" fill="#9a86cc" fill-opacity="0.54"/>
<circle cx="298" cy="235" r="6.5" fill="#9a86cc" fill-opacity="0.53"/>
<circle cx="241" cy="252" r="6.0" fill="#9a86cc" fill-opacity="0.49"/>
<circle cx="224" cy="296" r="4.8" fill="#9a86cc" fill-opacity="0.64"/>
<circle cx="217" cy="340" r="7.6" fill="#9a86cc" fill-opacity="0.55"/>
<circle cx="193" cy="301" r="5.0" fill="#9a86cc" fill-opacity="0.67"/>
<circle cx="244" cy="296" r="4.8" fill="#9a86cc" fill-opacity="0.41"/>
<circle cx="224" cy="291" r="6.5" fill="#9a86cc" fill-opacity="0.64"/>
<circle cx="222" cy="330" r="6.3" fill="#9a86cc" fill-opacity="0.39"/>
<circle cx="210" cy="238" r="7.9" fill="#9a86cc" fill-opacity="0.40"/>
<circle cx="301" cy="307" r="5.4" fill="#9a86cc" fill-opacity="0.70"/>
<circle cx="268" cy="275" r="7.2" fill="#9a86cc" fill-opacity="0.61"/>
<circle cx="214" cy="314" r="4.3" fill="#9a86cc" fill-opacity="0.65"/>
<circle cx="205" cy="293" r="5.6" fill="#9a86cc" fill-opacity="0.35"/>
<circle cx="254" cy="265" r="7.2" fill="#9a86cc" fill-opacity="0.68"/>
<circle cx="230" cy="300" r="4.2" fill="#9a86cc" fill-opacity="0.51"/>
<circle cx="238" cy="209" r="7.6" fill="#9a86cc" fill-opacity="0.47"/>
<circle cx="286" cy="242" r="5.2" fill="#9a86cc" fill-opacity="0.62"/>
<circle cx="246" cy="186" r="5.8" fill="#9a86cc" fill-opacity="0.70"/>
<circle cx="236" cy="213" r="7.4" fill="#9a86cc" fill-opacity="0.65"/>
<circle cx="261" cy="284" r="6.8" fill="#9a86cc" fill-opacity="0.42"/>
<circle cx="211" cy="275" r="6.7" fill="#9a86cc" fill-opacity="0.55"/>
<circle cx="265" cy="204" r="5.9" fill="#9a86cc" fill-opacity="0.55"/>
<circle cx="323" cy="236" r="5.2" fill="#9a86cc" fill-opacity="0.42"/>
<circle cx="257" cy="192" r="7.6" fill="#9a86cc" fill-opacity="0.48"/>
<circle cx="206" cy="267" r="4.4" fill="#9a86cc" fill-opacity="0.69"/>
<circle cx="238" cy="351" r="6.0" fill="#9a86cc" fill-opacity="0.59"/>
<circle cx="283" cy="334" r="5.4" fill="#9a86cc" fill-opacity="0.40"/>
<circle cx="204" cy="281" r="5.3" fill="#9a86cc" fill-opacity="0.64"/>
<circle cx="286" cy="292" r="7.0" fill="#3a2488" fill-opacity="0.55"/>
<circle cx="250" cy="306" r="5.4" fill="#3a2488" fill-opacity="0.55"/>
<circle cx="193" cy="317" r="4.1" fill="#3a2488" fill-opacity="0.55"/>
<circle cx="268" cy="311" r="5.7" fill="#3a2488" fill-opacity="0.55"/>
<circle cx="197" cy="264" r="5.8" fill="#3a2488" fill-opacity="0.55"/>
<circle cx="281" cy="323" r="5.5" fill="#3a2488" fill-opacity="0.55"/>
<circle cx="222" cy="343" r="4.4" fill="#3a2488" fill-opacity="0.55"/>
<circle cx="272" cy="195" r="6.3" fill="#3a2488" fill-opacity="0.55"/>
<circle cx="303" cy="243" r="5.0" fill="#3a2488" fill-opacity="0.55"/>
<circle cx="211" cy="327" r="7.0" fill="#3a2488" fill-opacity="0.55"/>
<circle cx="285" cy="304" r="6.1" fill="#3a2488" fill-opacity="0.55"/>
<circle cx="246" cy="264" r="5.2" fill="#3a2488" fill-opacity="0.55"/>
<circle cx="225" cy="215" r="7.3" fill="#3a2488" fill-opacity="0.55"/>
<circle cx="282" cy="280" r="5.8" fill="#3a2488" fill-opacity="0.55"/>
<circle cx="217" cy="268" r="4.3" fill="#3a2488" fill-opacity="0.55"/>
<circle cx="185" cy="268" r="5.1" fill="#3a2488" fill-opacity="0.55"/>
<circle cx="233" cy="315" r="4.2" fill="#3a2488" fill-opacity="0.55"/>
<circle cx="218" cy="265" r="5.7" fill="#3a2488" fill-opacity="0.55"/>
<circle cx="304" cy="317" r="7.6" fill="#3a2488" fill-opacity="0.55"/>
<circle cx="257" cy="248" r="7.8" fill="#3a2488" fill-opacity="0.55"/>
<circle cx="309" cy="293" r="6.6" fill="#3a2488" fill-opacity="0.55"/>
<circle cx="275" cy="227" r="4.6" fill="#3a2488" fill-opacity="0.55"/>
<circle cx="249" cy="191" r="5.0" fill="#3a2488" fill-opacity="0.55"/>
<circle cx="324" cy="252" r="4.8" fill="#3a2488" fill-opacity="0.55"/>
<circle cx="230" cy="238" r="5.5" fill="#3a2488" fill-opacity="0.55"/>
<circle cx="309" cy="281" r="6.6" fill="#3a2488" fill-opacity="0.55"/>
<circle cx="203" cy="260" r="4.1" fill="#3a2488" fill-opacity="0.55"/>
<circle cx="235" cy="210" r="6.0" fill="#3a2488" fill-opacity="0.55"/>
<circle cx="296" cy="239" r="5.7" fill="#3a2488" fill-opacity="0.55"/>
<circle cx="218" cy="213" r="6.6" fill="#3a2488" fill-opacity="0.55"/>
</g>
<text x="262" y="87" font-size="48" font-weight="bold" text-anchor="middle" fill="#111" filter="url(#blur2)">d3</text>
</g></svg>
<svg x="140" y="87" width="60" height="60" viewBox="0 0 520 520">
<defs><clipPath id="ca23"><rect x="8" y="10" width="489" height="500"/></clipPath></defs>
<g clip-path="url(#ca23)">
<rect x="3" y="5" width="499" height="510" fill="#f8e7d1"/>
<g filter="url(#blur)">
<ellipse cx="205" cy="30" rx="58" ry="37" fill="#fdf1cd" fill-opacity="0.8"/>
<ellipse cx="440" cy="25" rx="55" ry="31" fill="#fdf1cd" fill-opacity="0.8"/>
<ellipse cx="20" cy="45" rx="26" ry="44" fill="#fdf1cd" fill-opacity="0.8"/>
<ellipse cx="155" cy="125" rx="55" ry="58" fill="#fdf1cd" fill-opacity="0.8"/>
<ellipse cx="290" cy="100" rx="58" ry="55" fill="#fdf1cd" fill-opacity="0.8"/>
<ellipse cx="460" cy="105" rx="52" ry="55" fill="#fdf1cd" fill-opacity="0.8"/>
<ellipse cx="25" cy="145" rx="34" ry="55" fill="#fdf1cd" fill-opacity="0.8"/>
<ellipse cx="425" cy="205" rx="55" ry="58" fill="#fdf1cd" fill-opacity="0.8"/>
<ellipse cx="30" cy="255" rx="39" ry="60" fill="#fdf1cd" fill-opacity="0.8"/>
<ellipse cx="105" cy="250" rx="55" ry="60" fill="#fdf1cd" fill-opacity="0.8"/>
<ellipse cx="450" cy="305" rx="58" ry="60" fill="#fdf1cd" fill-opacity="0.8"/>
<ellipse cx="165" cy="360" rx="58" ry="77" fill="#fdf1cd" fill-opacity="0.8"/>
<ellipse cx="385" cy="385" rx="52" ry="60" fill="#fdf1cd" fill-opacity="0.8"/>
<ellipse cx="345" cy="445" rx="58" ry="52" fill="#fdf1cd" fill-opacity="0.8"/>
<ellipse cx="85" cy="480" rx="50" ry="41" fill="#fdf1cd" fill-opacity="0.8"/>
<ellipse cx="480" cy="460" rx="37" ry="50" fill="#fdf1cd" fill-opacity="0.8"/>
<ellipse cx="215" cy="495" rx="50" ry="26" fill="#fdf1cd" fill-opacity="0.8"/>
<ellipse cx="300" cy="498" rx="39" ry="23" fill="#fdf1cd" fill-opacity="0.8"/>
<ellipse cx="205" cy="30" rx="51" ry="30" fill="url(#solid2)"/>
<ellipse cx="440" cy="25" rx="48" ry="24" fill="url(#solid2)"/>
<ellipse cx="20" cy="45" rx="19" ry="37" fill="url(#solid2)"/>
<ellipse cx="155" cy="125" rx="48" ry="51" fill="url(#solid2)"/>
<ellipse cx="290" cy="100" rx="51" ry="48" fill="url(#solid2)"/>
<ellipse cx="460" cy="105" rx="45" ry="48" fill="url(#solid2)"/>
<ellipse cx="25" cy="145" rx="27" ry="48" fill="url(#solid2)"/>
<ellipse cx="425" cy="205" rx="48" ry="51" fill="url(#solid2)"/>
<ellipse cx="30" cy="255" rx="32" ry="54" fill="url(#solid2)"/>
<ellipse cx="105" cy="250" rx="48" ry="54" fill="url(#solid2)"/>
<ellipse cx="450" cy="305" rx="51" ry="54" fill="url(#solid2)"/>
<ellipse cx="165" cy="360" rx="51" ry="70" fill="url(#solid2)"/>
<ellipse cx="385" cy="385" rx="45" ry="54" fill="url(#solid2)"/>
<ellipse cx="345" cy="445" rx="51" ry="45" fill="url(#solid2)"/>
<ellipse cx="85" cy="480" rx="43" ry="34" fill="url(#solid2)"/>
<ellipse cx="480" cy="460" rx="30" ry="43" fill="url(#solid2)"/>
<ellipse cx="215" cy="495" rx="43" ry="19" fill="url(#solid2)"/>
<ellipse cx="300" cy="498" rx="32" ry="16" fill="url(#solid2)"/>
<path d="M215.0,128.0 C237.4,124.0 302.8,135.1 330.0,145.0 C357.2,154.9 377.8,171.6 385.0,190.0 C392.2,208.4 374.2,236.0 375.0,260.0 C375.8,284.0 398.8,317.9 390.0,340.0 C381.2,362.1 336.0,398.8 320.0,398.0 C304.0,397.2 306.8,343.5 290.0,335.0 C273.2,326.5 239.0,352.2 215.0,345.0 C191.0,337.8 150.4,310.8 140.0,290.0 C129.6,269.2 151.9,231.8 150.0,215.0 C148.1,198.2 121.6,192.2 128.0,185.0 C134.4,177.8 176.1,179.1 190.0,170.0 C203.9,160.9 192.6,132.0 215.0,128.0Z" fill="#d0cbec" stroke="#8079cc" stroke-width="6" stroke-linejoin="round"/>
<path d="M165.0,210.0 C177.8,190.2 207.8,155.7 235.0,148.0 C262.2,140.3 312.6,148.1 335.0,162.0 C357.4,175.9 376.6,212.1 375.0,235.0 C373.4,257.9 349.0,290.6 325.0,305.0 C301.0,319.4 252.2,330.3 225.0,325.0 C197.8,319.7 164.6,290.4 155.0,272.0 C145.4,253.6 152.2,229.8 165.0,210.0Z" fill="#654eab" stroke="#4030a0" stroke-width="6" stroke-linejoin="round"/>
<circle cx="186" cy="230" r="4.9" fill="#9a86cc" fill-opacity="0.52"/>
<circle cx="321" cy="247" r="7.6" fill="#9a86cc" fill-opacity="0.38"/>
<circle cx="197" cy="284" r="5.0" fill="#9a86cc" fill-opacity="0.48"/>
<circle cx="294" cy="250" r="4.1" fill="#9a86cc" fill-opacity="0.51"/>
<circle cx="255" cy="193" r="7.3" fill="#9a86cc" fill-opacity="0.68"/>
<circle cx="220" cy="218" r="6.7" fill="#9a86cc" fill-opacity="0.60"/>
<circle cx="254" cy="275" r="4.2" fill="#9a86cc" fill-opacity="0.39"/>
<circle cx="267" cy="235" r="6.0" fill="#9a86cc" fill-opacity="0.52"/>
<circle cx="245" cy="220" r="6.5" fill="#9a86cc" fill-opacity="0.47"/>
<circle cx="260" cy="303" r="6.4" fill="#9a86cc" fill-opacity="0.39"/>
<circle cx="282" cy="258" r="6.4" fill="#9a86cc" fill-opacity="0.57"/>
<circle cx="224" cy="304" r="5.4" fill="#9a86cc" fill-opacity="0.68"/>
<circle cx="314" cy="171" r="6.7" fill="#9a86cc" fill-opacity="0.55"/>
<circle cx="193" cy="230" r="7.5" fill="#9a86cc" fill-opacity="0.60"/>
<circle cx="282" cy="177" r="7.5" fill="#9a86cc" fill-opacity="0.66"/>
<circle cx="177" cy="275" r="5.9" fill="#9a86cc" fill-opacity="0.54"/>
<circle cx="301" cy="245" r="5.5" fill="#9a86cc" fill-opacity="0.54"/>
<circle cx="276" cy="274" r="5.8" fill="#9a86cc" fill-opacity="0.38"/>
<circle cx="181" cy="272" r="7.9" fill="#9a86cc" fill-opacity="0.46"/>
<circle cx="206" cy="278" r="5.3" fill="#9a86cc" fill-opacity="0.65"/>
<circle cx="221" cy="300" r="5.3" fill="#9a86cc" fill-opacity="0.56"/>
<circle cx="263" cy="164" r="4.6" fill="#9a86cc" fill-opacity="0.48"/>
<circle cx="320" cy="224" r="6.4" fill="#9a86cc" fill-opacity="0.64"/>
<circle cx="330" cy="206" r="6.1" fill="#9a86cc" fill-opacity="0.39"/>
<circle cx="250" cy="233" r="6.0" fill="#9a86cc" fill-opacity="0.63"/>
<circle cx="209" cy="287" r="5.0" fill="#9a86cc" fill-opacity="0.64"/>
<circle cx="266" cy="279" r="4.3" fill="#9a86cc" fill-opacity="0.55"/>
<circle cx="335" cy="255" r="5.4" fill="#9a86cc" fill-opacity="0.42"/>
<circle cx="277" cy="213" r="6.9" fill="#9a86cc" fill-opacity="0.62"/>
<circle cx="216" cy="222" r="4.8" fill="#9a86cc" fill-opacity="0.40"/>
<circle cx="321" cy="261" r="7.8" fill="#9a86cc" fill-opacity="0.62"/>
<circle cx="254" cy="240" r="6.1" fill="#9a86cc" fill-opacity="0.61"/>
<circle cx="173" cy="266" r="6.2" fill="#9a86cc" fill-opacity="0.49"/>
<circle cx="319" cy="217" r="6.4" fill="#9a86cc" fill-opacity="0.68"/>
<circle cx="227" cy="262" r="4.2" fill="#9a86cc" fill-opacity="0.59"/>
<circle cx="176" cy="249" r="6.2" fill="#9a86cc" fill-opacity="0.52"/>
<circle cx="190" cy="226" r="5.7" fill="#9a86cc" fill-opacity="0.56"/>
<circle cx="289" cy="265" r="5.5" fill="#9a86cc" fill-opacity="0.61"/>
<circle cx="280" cy="171" r="7.4" fill="#9a86cc" fill-opacity="0.66"/>
<circle cx="250" cy="168" r="6.3" fill="#9a86cc" fill-opacity="0.38"/>
<circle cx="217" cy="296" r="7.8" fill="#9a86cc" fill-opacity="0.49"/>
<circle cx="293" cy="228" r="4.8" fill="#9a86cc" fill-opacity="0.43"/>
<circle cx="228" cy="239" r="5.9" fill="#9a86cc" fill-opacity="0.62"/>
<circle cx="222" cy="279" r="5.5" fill="#9a86cc" fill-opacity="0.48"/>
<circle cx="236" cy="244" r="7.0" fill="#3a2488" fill-opacity="0.55"/>
<circle cx="311" cy="193" r="4.9" fill="#3a2488" fill-opacity="0.55"/>
<circle cx="332" cy="245" r="7.9" fill="#3a2488" fill-opacity="0.55"/>
<circle cx="277" cy="281" r="7.5" fill="#3a2488" fill-opacity="0.55"/>
<circle cx="330" cy="275" r="4.4" fill="#3a2488" fill-opacity="0.55"/>
<circle cx="269" cy="266" r="7.6" fill="#3a2488" fill-opacity="0.55"/>
<circle cx="330" cy="224" r="5.1" fill="#3a2488" fill-opacity="0.55"/>
<circle cx="329" cy="277" r="7.0" fill="#3a2488" fill-opacity="0.55"/>
<circle cx="200" cy="216" r="7.4" fill="#3a2488" fill-opacity="0.55"/>
<circle cx="181" cy="207" r="4.2" fill="#3a2488" fill-opacity="0.55"/>
<circle cx="303" cy="219" r="4.9" fill="#3a2488" fill-opacity="0.55"/>
<circle cx="275" cy="267" r="6.4" fill="#3a2488" fill-opacity="0.55"/>
<circle cx="239" cy="166" r="5.6" fill="#3a2488" fill-opacity="0.55"/>
<circle cx="273" cy="297" r="8.0" fill="#3a2488" fill-opacity="0.55"/>
<circle cx="189" cy="240" r="6.6" fill="#3a2488" fill-opacity="0.55"/>
<circle cx="178" cy="276" r="4.1" fill="#3a2488" fill-opacity="0.55"/>
<circle cx="313" cy="295" r="5.8" fill="#3a2488" fill-opacity="0.55"/>
<circle cx="283" cy="190" r="5.1" fill="#3a2488" fill-opacity="0.55"/>
<circle cx="200" cy="278" r="4.9" fill="#3a2488" fill-opacity="0.55"/>
<circle cx="263" cy="196" r="6.6" fill="#3a2488" fill-opacity="0.55"/>
<circle cx="355" cy="230" r="7.8" fill="#3a2488" fill-opacity="0.55"/>
<circle cx="303" cy="194" r="6.7" fill="#3a2488" fill-opacity="0.55"/>
<circle cx="235" cy="244" r="7.4" fill="#3a2488" fill-opacity="0.55"/>
<circle cx="271" cy="170" r="6.7" fill="#3a2488" fill-opacity="0.55"/>
<circle cx="297" cy="172" r="5.8" fill="#3a2488" fill-opacity="0.55"/>
<circle cx="212" cy="252" r="6.9" fill="#3a2488" fill-opacity="0.55"/>
<circle cx="191" cy="271" r="7.2" fill="#3a2488" fill-opacity="0.55"/>
<circle cx="241" cy="236" r="7.5" fill="#3a2488" fill-opacity="0.55"/>
<circle cx="333" cy="229" r="5.5" fill="#3a2488" fill-opacity="0.55"/>
<circle cx="197" cy="215" r="5.6" fill="#3a2488" fill-opacity="0.55"/>
</g>
<text x="255" y="87" font-size="48" font-weight="bold" text-anchor="middle" fill="#111" filter="url(#blur2)">d9</text>
</g></svg>
<svg x="200" y="87" width="60" height="60" viewBox="0 0 520 520">
<defs><clipPath id="ca24"><rect x="10" y="8" width="490" height="502"/></clipPath></defs>
<g clip-path="url(#ca24)">
<rect x="5" y="3" width="500" height="512" fill="#f8e7d1"/>
<g filter="url(#blur)">
<ellipse cx="50" cy="85" rx="55" ry="55" fill="#fdf1cd" fill-opacity="0.8"/>
<ellipse cx="150" cy="40" rx="58" ry="44" fill="#fdf1cd" fill-opacity="0.8"/>
<ellipse cx="335" cy="70" rx="66" ry="71" fill="#fdf1cd" fill-opacity="0.8"/>
<ellipse cx="475" cy="50" rx="39" ry="55" fill="#fdf1cd" fill-opacity="0.8"/>
<ellipse cx="125" cy="150" rx="58" ry="58" fill="#fdf1cd" fill-opacity="0.8"/>
<ellipse cx="450" cy="195" rx="55" ry="71" fill="#fdf1cd" fill-opacity="0.8"/>
<ellipse cx="25" cy="175" rx="28" ry="55" fill="#fdf1cd" fill-opacity="0.8"/>
<ellipse cx="395" cy="250" rx="58" ry="60" fill="#fdf1cd" fill-opacity="0.8"/>
<ellipse cx="35" cy="285" rx="52" ry="71" fill="#fdf1cd" fill-opacity="0.8"/>
<ellipse cx="360" cy="375" rx="66" ry="71" fill="#fdf1cd" fill-opacity="0.8"/>
<ellipse cx="30" cy="420" rx="50" ry="93" fill="#fdf1cd" fill-opacity="0.8"/>
<ellipse cx="120" cy="480" rx="60" ry="44" fill="#fdf1cd" fill-opacity="0.8"/>
<ellipse cx="225" cy="475" rx="55" ry="48" fill="#fdf1cd" fill-opacity="0.8"/>
<ellipse cx="415" cy="465" rx="60" ry="52" fill="#fdf1cd" fill-opacity="0.8"/>
<ellipse cx="300" cy="490" rx="44" ry="39" fill="#fdf1cd" fill-opacity="0.8"/>
<ellipse cx="50" cy="85" rx="48" ry="48" fill="url(#solid2)"/>
<ellipse cx="150" cy="40" rx="51" ry="37" fill="url(#solid2)"/>
<ellipse cx="335" cy="70" rx="59" ry="64" fill="url(#solid2)"/>
<ellipse cx="475" cy="50" rx="32" ry="48" fill="url(#solid2)"/>
<ellipse cx="125" cy="150" rx="51" ry="51" fill="url(#solid2)"/>
<ellipse cx="450" cy="195" rx="48" ry="64" fill="url(#solid2)"/>
<ellipse cx="25" cy="175" rx="21" ry="48" fill="url(#solid2)"/>
<ellipse cx="395" cy="250" rx="51" ry="54" fill="url(#solid2)"/>
<ellipse cx="35" cy="285" rx="45" ry="64" fill="url(#solid2)"/>
<ellipse cx="360" cy="375" rx="59" ry="64" fill="url(#solid2)"/>
<ellipse cx="30" cy="420" rx="43" ry="86" fill="url(#solid2)"/>
<ellipse cx="120" cy="480" rx="54" ry="37" fill="url(#solid2)"/>
<ellipse cx="225" cy="475" rx="48" ry="41" fill="url(#solid2)"/>
<ellipse cx="415" cy="465" rx="54" ry="45" fill="url(#solid2)"/>
<ellipse cx="300" cy="490" rx="37" ry="32" fill="url(#solid2)"/>
<path d="M190.0,138.0 C217.5,128.7 295.2,132.1 320.0,142.0 C344.8,151.9 338.6,174.7 345.0,200.0 C351.4,225.3 367.2,272.5 360.0,300.0 C352.8,327.5 323.2,367.2 300.0,372.0 C276.8,376.8 235.0,347.9 215.0,330.0 C195.0,312.1 185.7,280.8 175.0,260.0 C164.3,239.2 145.6,219.5 148.0,200.0 C150.4,180.5 162.5,147.3 190.0,138.0Z" fill="#d2ceec" stroke="#837ccf" stroke-width="6" stroke-linejoin="round"/>
<path d="M178.0,215.0 C182.5,191.8 226.5,163.1 250.0,158.0 C273.5,152.9 309.0,166.4 325.0,183.0 C341.0,199.6 353.7,239.3 350.0,262.0 C346.3,284.7 322.5,318.4 302.0,325.0 C281.5,331.6 241.8,320.6 222.0,303.0 C202.2,285.4 173.5,238.2 178.0,215.0Z" fill="#654eab" stroke="#4030a0" stroke-width="6" stroke-linejoin="round"/>
<circle cx="318" cy="256" r="4.7" fill="#9a86cc" fill-opacity="0.49"/>
<circle cx="254" cy="200" r="5.3" fill="#9a86cc" fill-opacity="0.45"/>
<circle cx="255" cy="174" r="4.1" fill="#9a86cc" fill-opacity="0.42"/>
<circle cx="265" cy="174" r="6.8" fill="#9a86cc" fill-opacity="0.64"/>
<circle cx="297" cy="247" r="6.1" fill="#9a86cc" fill-opacity="0.54"/>
<circle cx="315" cy="265" r="7.6" fill="#9a86cc" fill-opacity="0.50"/>
<circle cx="247" cy="243" r="6.2" fill="#9a86cc" fill-opacity="0.46"/>
<circle cx="204" cy="247" r="4.9" fill="#9a86cc" fill-opacity="0.51"/>
<circle cx="328" cy="233" r="6.6" fill="#9a86cc" fill-opacity="0.48"/>
<circle cx="240" cy="203" r="6.8" fill="#9a86cc" fill-opacity="0.40"/>
<circle cx="281" cy="292" r="4.2" fill="#9a86cc" fill-opacity="0.45"/>
<circle cx="291" cy="272" r="5.0" fill="#9a86cc" fill-opacity="0.67"/>
<circle cx="238" cy="212" r="5.9" fill="#9a86cc" fill-opacity="0.66"/>
<circle cx="341" cy="259" r="4.4" fill="#9a86cc" fill-opacity="0.70"/>
<circle cx="281" cy="221" r="4.9" fill="#9a86cc" fill-opacity="0.57"/>
<circle cx="267" cy="219" r="5.4" fill="#9a86cc" fill-opacity="0.65"/>
<circle cx="205" cy="209" r="6.9" fill="#9a86cc" fill-opacity="0.57"/>
<circle cx="270" cy="262" r="5.2" fill="#9a86cc" fill-opacity="0.63"/>
<circle cx="311" cy="198" r="4.8" fill="#9a86cc" fill-opacity="0.36"/>
<circle cx="275" cy="261" r="5.6" fill="#9a86cc" fill-opacity="0.37"/>
<circle cx="293" cy="229" r="7.4" fill="#9a86cc" fill-opacity="0.64"/>
<circle cx="340" cy="256" r="5.2" fill="#9a86cc" fill-opacity="0.47"/>
<circle cx="309" cy="191" r="7.0" fill="#9a86cc" fill-opacity="0.68"/>
<circle cx="273" cy="287" r="6.0" fill="#9a86cc" fill-opacity="0.59"/>
<circle cx="245" cy="287" r="4.9" fill="#9a86cc" fill-opacity="0.42"/>
<circle cx="307" cy="277" r="4.5" fill="#9a86cc" fill-opacity="0.68"/>
<circle cx="268" cy="239" r="5.4" fill="#9a86cc" fill-opacity="0.55"/>
<circle cx="281" cy="260" r="6.7" fill="#9a86cc" fill-opacity="0.48"/>
<circle cx="280" cy="219" r="6.7" fill="#9a86cc" fill-opacity="0.50"/>
<circle cx="320" cy="196" r="6.6" fill="#9a86cc" fill-opacity="0.48"/>
<circle cx="280" cy="192" r="5.5" fill="#9a86cc" fill-opacity="0.67"/>
<circle cx="332" cy="264" r="4.2" fill="#9a86cc" fill-opacity="0.51"/>
<circle cx="214" cy="208" r="7.4" fill="#9a86cc" fill-opacity="0.66"/>
<circle cx="306" cy="282" r="5.5" fill="#9a86cc" fill-opacity="0.59"/>
<circle cx="268" cy="254" r="4.7" fill="#9a86cc" fill-opacity="0.67"/>
<circle cx="271" cy="186" r="6.9" fill="#9a86cc" fill-opacity="0.60"/>
<circle cx="216" cy="258" r="6.2" fill="#9a86cc" fill-opacity="0.70"/>
<circle cx="273" cy="191" r="4.3" fill="#9a86cc" fill-opacity="0.62"/>
<circle cx="280" cy="286" r="8.0" fill="#9a86cc" fill-opacity="0.45"/>
<circle cx="286" cy="260" r="4.6" fill="#9a86cc" fill-opacity="0.62"/>
<circle cx="266" cy="277" r="5.2" fill="#9a86cc" fill-opacity="0.42"/>
<circle cx="310" cy="186" r="6.4" fill="#9a86cc" fill-opacity="0.45"/>
<circle cx="314" cy="190" r="6.5" fill="#9a86cc" fill-opacity="0.63"/>
<circle cx="281" cy="296" r="7.9" fill="#9a86cc" fill-opacity="0.37"/>
<circle cx="279" cy="187" r="4.5" fill="#3a2488" fill-opacity="0.55"/>
<circle cx="330" cy="240" r="6.2" fill="#3a2488" fill-opacity="0.55"/>
<circle cx="317" cy="244" r="7.8" fill="#3a2488" fill-opacity="0.55"/>
<circle cx="299" cy="291" r="6.9" fill="#3a2488" fill-opacity="0.55"/>
<circle cx="292" cy="241" r="7.8" fill="#3a2488" fill-opacity="0.55"/>
<circle cx="311" cy="195" r="4.4" fill="#3a2488" fill-opacity="0.55"/>
<circle cx="288" cy="192" r="6.6" fill="#3a2488" fill-opacity="0.55"/>
<circle cx="290" cy="276" r="5.0" fill="#3a2488" fill-opacity="0.55"/>
<circle cx="262" cy="180" r="7.7" fill="#3a2488" fill-opacity="0.55"/>
<circle cx="274" cy="296" r="6.0" fill="#3a2488" fill-opacity="0.55"/>
<circle cx="291" cy="271" r="6.9" fill="#3a2488" fill-opacity="0.55"/>
<circle cx="295" cy="199" r="7.1" fill="#3a2488" fill-opacity="0.55"/>
<circle cx="251" cy="186" r="4.5" fill="#3a2488" fill-opacity="0.55"/>
<circle cx="305" cy="275" r="4.4" fill="#3a2488" fill-opacity="0.55"/>
<circle cx="332" cy="245" r="7.2" fill="#3a2488" fill-opacity="0.55"/>
<circle cx="275" cy="261" r="7.3" fill="#3a2488" fill-opacity="0.55"/>
<circle cx="308" cy="279" r="5.7" fill="#3a2488" fill-opacity="0.55"/>
<circle cx="234" cy="240" r="4.1" fill="#3a2488" fill-opacity="0.55"/>
<circle cx="300" cy="217" r="4.1" fill="#3a2488" fill-opacity="0.55"/>
<circle cx="237" cy="224" r="7.2" fill="#3a2488" fill-opacity="0.55"/>
<circle cx="268" cy="290" r="6.8" fill="#3a2488" fill-opacity="0.55"/>
<circle cx="221" cy="227" r="5.5" fill="#3a2488" fill-opacity="0.55"/>
<circle cx="251" cy="244" r="6.7" fill="#3a2488" fill-opacity="0.55"/>
<circle cx="284" cy="259" r="7.2" fill="#3a2488" fill-opacity="0.55"/>
<circle cx="236" cy="240" r="4.0" fill="#3a2488" fill-opacity="0.55"/>
<circle cx="218" cy="243" r="7.0" fill="#3a2488" fill-opacity="0.55"/>
<circle cx="252" cy="232" r="7.9" fill="#3a2488" fill-opacity="0.55"/>
<circle cx="296" cy="232" r="7.5" fill="#3a2488" fill-opacity="0.55"/>
<circle cx="312" cy="191" r="7.5" fill="#3a2488" fill-opacity="0.55"/>
<circle cx="313" cy="266" r="5.8" fill="#3a2488" fill-opacity="0.55"/>
</g>
<text x="270" y="87" font-size="48" font-weight="bold" text-anchor="middle" fill="#111" filter="url(#blur2)">d19</text>
</g></svg>
<svg x="260" y="87" width="60" height="60" viewBox="0 0 520 520">
<defs><clipPath id="ca25"><rect x="8" y="8" width="492" height="497"/></clipPath></defs>
<g clip-path="url(#ca25)">
<rect x="3" y="3" width="502" height="507" fill="#f8e7d1"/>
<g filter="url(#blur)">
<ellipse cx="110" cy="20" rx="60" ry="28" fill="#fdf1cd" fill-opacity="0.8"/>
<ellipse cx="310" cy="10" rx="50" ry="18" fill="#fdf1cd" fill-opacity="0.8"/>
<ellipse cx="195" cy="85" rx="82" ry="55" fill="#fdf1cd" fill-opacity="0.8"/>
<ellipse cx="450" cy="100" rx="60" ry="60" fill="#fdf1cd" fill-opacity="0.8"/>
<ellipse cx="100" cy="175" rx="60" ry="77" fill="#fdf1cd" fill-opacity="0.8"/>
<ellipse cx="375" cy="150" rx="60" ry="60" fill="#fdf1cd" fill-opacity="0.8"/>
<ellipse cx="30" cy="200" rx="28" ry="93" fill="#fdf1cd" fill-opacity="0.8"/>
<ellipse cx="480" cy="230" rx="39" ry="71" fill="#fdf1cd" fill-opacity="0.8"/>
<ellipse cx="420" cy="320" rx="55" ry="55" fill="#fdf1cd" fill-opacity="0.8"/>
<ellipse cx="55" cy="330" rx="55" ry="93" fill="#fdf1cd" fill-opacity="0.8"/>
<ellipse cx="125" cy="360" rx="60" ry="66" fill="#fdf1cd" fill-opacity="0.8"/>
<ellipse cx="360" cy="420" rx="60" ry="55" fill="#fdf1cd" fill-opacity="0.8"/>
<ellipse cx="175" cy="440" rx="55" ry="52" fill="#fdf1cd" fill-opacity="0.8"/>
<ellipse cx="60" cy="460" rx="60" ry="55" fill="#fdf1cd" fill-opacity="0.8"/>
<ellipse cx="475" cy="390" rx="39" ry="60" fill="#fdf1cd" fill-opacity="0.8"/>
<ellipse cx="465" cy="475" rx="50" ry="44" fill="#fdf1cd" fill-opacity="0.8"/>
<ellipse cx="110" cy="20" rx="54" ry="21" fill="url(#dusk)"/>
<ellipse cx="310" cy="10" rx="43" ry="11" fill="url(#dusk)"/>
<ellipse cx="195" cy="85" rx="75" ry="48" fill="url(#dusk)"/>
<ellipse cx="450" cy="100" rx="54" ry="54" fill="url(#dusk)"/>
<ellipse cx="100" cy="175" rx="54" ry="70" fill="url(#dusk)"/>
<ellipse cx="375" cy="150" rx="54" ry="54" fill="url(#dusk)"/>
<ellipse cx="30" cy="200" rx="21" ry="86" fill="url(#dusk)"/>
<ellipse cx="480" cy="230" rx="32" ry="64" fill="url(#dusk)"/>
<ellipse cx="420" cy="320" rx="48" ry="48" fill="url(#dusk)"/>
<ellipse cx="55" cy="330" rx="48" ry="86" fill="url(#dusk)"/>
<ellipse cx="125" cy="360" rx="54" ry="59" fill="url(#dusk)"/>
<ellipse cx="360" cy="420" rx="54" ry="48" fill="url(#dusk)"/>
<ellipse cx="175" cy="440" rx="48" ry="45" fill="url(#dusk)"/>
<ellipse cx="60" cy="460" rx="54" ry="48" fill="url(#dusk)"/>
<ellipse cx="475" cy="390" rx="32" ry="54" fill="url(#dusk)"/>
<ellipse cx="465" cy="475" rx="43" ry="37" fill="url(#dusk)"/>
<path d="M250.0,118.0 C273.2,113.2 308.4,124.9 330.0,150.0 C351.6,175.1 382.6,243.8 385.0,275.0 C387.4,306.2 357.0,327.7 345.0,345.0 C333.0,362.3 332.4,378.5 310.0,383.0 C287.6,387.5 229.0,381.5 205.0,373.0 C181.0,364.5 172.5,344.9 160.0,330.0 C147.5,315.1 123.0,304.0 127.0,280.0 C131.0,256.0 165.3,205.9 185.0,180.0 C204.7,154.1 226.8,122.8 250.0,118.0Z" fill="#6a58b4" stroke="#4434a6" stroke-width="6" stroke-linejoin="round"/>
<circle cx="310" cy="264" r="5.2" fill="#9a86cc" fill-opacity="0.45"/>
<circle cx="161" cy="291" r="6.1" fill="#9a86cc" fill-opacity="0.66"/>
<circle cx="224" cy="278" r="7.0" fill="#9a86cc" fill-opacity="0.45"/>
<circle cx="250" cy="214" r="5.7" fill="#9a86cc" fill-opacity="0.38"/>
<circle cx="275" cy="352" r="7.8" fill="#9a86cc" fill-opacity="0.51"/>
<circle cx="201" cy="257" r="4.4" fill="#9a86cc" fill-opacity="0.47"/>
<circle cx="181" cy="234" r="6.0" fill="#9a86cc" fill-opacity="0.35"/>
<circle cx="246" cy="187" r="5.1" fill="#9a86cc" fill-opacity="0.43"/>
<circle cx="182" cy="290" r="7.6" fill="#9a86cc" fill-opacity="0.46"/>
<circle cx="173" cy="255" r="5.8" fill="#9a86cc" fill-opacity="0.63"/>
<circle cx="210" cy="315" r="6.6" fill="#9a86cc" fill-opacity="0.55"/>
<circle cx="335" cy="332" r="4.9" fill="#9a86cc" fill-opacity="0.66"/>
<circle cx="253" cy="334" r="5.1" fill="#9a86cc" fill-opacity="0.36"/>
<circle cx="250" cy="277" r="4.5" fill="#9a86cc" fill-opacity="0.59"/>
<circle cx="312" cy="206" r="5.5" fill="#9a86cc" fill-opacity="0.45"/>
<circle cx="189" cy="305" r="6.7" fill="#9a86cc" fill-opacity="0.42"/>
<circle cx="351" cy="285" r="7.9" fill="#9a86cc" fill-opacity="0.69"/>
<circle cx="307" cy="357" r="4.1" fill="#9a86cc" fill-opacity="0.56"/>
<circle cx="335" cy="324" r="6.8" fill="#9a86cc" fill-opacity="0.36"/>
<circle cx="249" cy="206" r="6.7" fill="#9a86cc" fill-opacity="0.47"/>
<circle cx="277" cy="260" r="6.6" fill="#9a86cc" fill-opacity="0.39"/>
<circle cx="232" cy="224" r="7.4" fill="#9a86cc" fill-opacity="0.46"/>
<circle cx="341" cy="312" r="6.8" fill="#9a86cc" fill-opacity="0.58"/>
<circle cx="196" cy="336" r="5.9" fill="#9a86cc" fill-opacity="0.38"/>
<circle cx="291" cy="224" r="4.8" fill="#9a86cc" fill-opacity="0.58"/>
<circle cx="247" cy="226" r="5.9" fill="#9a86cc" fill-opacity="0.42"/>
<circle cx="237" cy="168" r="5.2" fill="#9a86cc" fill-opacity="0.59"/>
<circle cx="206" cy="332" r="7.7" fill="#9a86cc" fill-opacity="0.42"/>
<circle cx="353" cy="234" r="5.6" fill="#9a86cc" fill-opacity="0.58"/>
<circle cx="258" cy="223" r="4.3" fill="#9a86cc" fill-opacity="0.65"/>
<circle cx="297" cy="335" r="7.4" fill="#9a86cc" fill-opacity="0.64"/>
<circle cx="320" cy="238" r="7.5" fill="#9a86cc" fill-opacity="0.51"/>
<circle cx="240" cy="284" r="4.5" fill="#9a86cc" fill-opacity="0.66"/>
<circle cx="322" cy="253" r="7.0" fill="#9a86cc" fill-opacity="0.54"/>
<circle cx="336" cy="324" r="5.8" fill="#9a86cc" fill-opacity="0.68"/>
<circle cx="327" cy="276" r="6.4" fill="#9a86cc" fill-opacity="0.48"/>
<circle cx="319" cy="219" r="6.4" fill="#9a86cc" fill-opacity="0.43"/>
<circle cx="292" cy="319" r="4.8" fill="#9a86cc" fill-opacity="0.42"/>
<circle cx="168" cy="249" r="5.9" fill="#9a86cc" fill-opacity="0.60"/>
<circle cx="300" cy="258" r="7.9" fill="#9a86cc" fill-opacity="0.53"/>
<circle cx="289" cy="281" r="4.7" fill="#9a86cc" fill-opacity="0.69"/>
<circle cx="201" cy="299" r="5.0" fill="#9a86cc" fill-opacity="0.36"/>
<circle cx="247" cy="152" r="4.4" fill="#9a86cc" fill-opacity="0.47"/>
<circle cx="342" cy="216" r="7.1" fill="#9a86cc" fill-opacity="0.60"/>
<circle cx="302" cy="321" r="7.3" fill="#3a2488" fill-opacity="0.55"/>
<circle cx="291" cy="294" r="6.7" fill="#3a2488" fill-opacity="0.55"/>
<circle cx="252" cy="282" r="4.4" fill="#3a2488" fill-opacity="0.55"/>
<circle cx="308" cy="335" r="5.4" fill="#3a2488" fill-opacity="0.55"/>
<circle cx="301" cy="157" r="4.8" fill="#3a2488" fill-opacity="0.55"/>
<circle cx="230" cy="266" r="7.3" fill="#3a2488" fill-opacity="0.55"/>
<circle cx="170" cy="294" r="5.2" fill="#3a2488" fill-opacity="0.55"/>
<circle cx="300" cy="273" r="6.8" fill="#3a2488" fill-opacity="0.55"/>
<circle cx="227" cy="182" r="5.3" fill="#3a2488" fill-opacity="0.55"/>
<circle cx="287" cy="325" r="5.3" fill="#3a2488" fill-opacity="0.55"/>
<circle cx="189" cy="324" r="6.0" fill="#3a2488" fill-opacity="0.55"/>
<circle cx="294" cy="344" r="7.2" fill="#3a2488" fill-opacity="0.55"/>
<circle cx="270" cy="319" r="6.8" fill="#3a2488" fill-opacity="0.55"/>
<circle cx="247" cy="274" r="7.8" fill="#3a2488" fill-opacity="0.55"/>
<circle cx="285" cy="197" r="4.6" fill="#3a2488" fill-opacity="0.55"/>
<circle cx="321" cy="334" r="6.8" fill="#3a2488" fill-opacity="0.55"/>
<circle cx="244" cy="171" r="4.3" fill="#3a2488" fill-opacity="0.55"/>
<circle cx="322" cy="291" r="7.7" fill="#3a2488" fill-opacity="0.55"/>
<circle cx="243" cy="243" r="5.5" fill="#3a2488" fill-opacity="0.55"/>
<circle cx="322" cy="200" r="6.6" fill="#3a2488" fill-opacity="0.55"/>
<circle cx="314" cy="323" r="4.1" fill="#3a2488" fill-opacity="0.55"/>
<circle cx="338" cy="276" r="7.1" fill="#3a2488" fill-opacity="0.55"/>
<circle cx="303" cy="319" r="4.8" fill="#3a2488" fill-opacity="0.55"/>
<circle cx="309" cy="166" r="5.0" fill="#3a2488" fill-opacity="0.55"/>
<circle cx="256" cy="175" r="7.5" fill="#3a2488" fill-opacity="0.55"/>
<circle cx="301" cy="299" r="7.1" fill="#3a2488" fill-opacity="0.55"/>
<circle cx="235" cy="272" r="6.8" fill="#3a2488" fill-opacity="0.55"/>
<circle cx="284" cy="257" r="4.5" fill="#3a2488" fill-opacity="0.55"/>
<circle cx="229" cy="167" r="4.5" fill="#3a2488" fill-opacity="0.55"/>
<circle cx="262" cy="264" r="4.7" fill="#3a2488" fill-opacity="0.55"/>
</g>
<text x="265" y="87" font-size="48" font-weight="bold" text-anchor="middle" fill="#111" filter="url(#blur2)">d30</text>
</g></svg>
<svg x="20" y="173" width="60" height="60" viewBox="0 0 520 520">
<defs><clipPath id="cb11"><rect x="10" y="10" width="490" height="500"/></clipPath></defs>
<g clip-path="url(#cb11)">
<rect x="5" y="5" width="500" height="510" fill="#f9e9d6"/>
<g filter="url(#blur)">
<ellipse cx="140" cy="75" rx="50" ry="41" fill="#fdf1cd" fill-opacity="0.8"/>
<ellipse cx="150" cy="125" rx="52" ry="48" fill="#fdf1cd" fill-opacity="0.8"/>
<ellipse cx="115" cy="200" rx="55" ry="58" fill="#fdf1cd" fill-opacity="0.8"/>
<ellipse cx="385" cy="215" rx="55" ry="52" fill="#fdf1cd" fill-opacity="0.8"/>
<ellipse cx="425" cy="300" rx="52" ry="52" fill="#fdf1cd" fill-opacity="0.8"/>
<ellipse cx="355" cy="385" rx="55" ry="58" fill="#fdf1cd" fill-opacity="0.8"/>
<ellipse cx="345" cy="460" rx="58" ry="52" fill="#fdf1cd" fill-opacity="0.8"/>
<ellipse cx="80" cy="435" rx="50" ry="55" fill="#fdf1cd" fill-opacity="0.8"/>
<ellipse cx="445" cy="15" rx="44" ry="23" fill="#fdf1cd" fill-opacity="0.8"/>
<ellipse cx="250" cy="500" rx="44" ry="23" fill="#fdf1cd" fill-opacity="0.8"/>
<ellipse cx="430" cy="500" rx="50" ry="23" fill="#fdf1cd" fill-opacity="0.8"/>
<ellipse cx="70" cy="505" rx="39" ry="18" fill="#fdf1cd" fill-opacity="0.8"/>
<ellipse cx="140" cy="75" rx="43" ry="34" fill="url(#solid2)"/>
<ellipse cx="150" cy="125" rx="45" ry="41" fill="url(#solid2)"/>
<ellipse cx="115" cy="200" rx="48" ry="51" fill="url(#solid2)"/>
<ellipse cx="385" cy="215" rx="48" ry="45" fill="url(#solid2)"/>
<ellipse cx="425" cy="300" rx="45" ry="45" fill="url(#solid2)"/>
<ellipse cx="355" cy="385" rx="48" ry="51" fill="url(#solid2)"/>
<ellipse cx="345" cy="460" rx="51" ry="45" fill="url(#solid2)"/>
<ellipse cx="80" cy="435" rx="43" ry="48" fill="url(#solid2)"/>
<ellipse cx="445" cy="15" rx="37" ry="16" fill="url(#solid2)"/>
<ellipse cx="250" cy="500" rx="37" ry="16" fill="url(#solid2)"/>
<ellipse cx="430" cy="500" rx="43" ry="16" fill="url(#solid2)"/>
<ellipse cx="70" cy="505" rx="32" ry="11" fill="url(#solid2)"/>
<ellipse cx="258" cy="198" rx="66" ry="66" fill="#4a3aa6" transform="rotate(0 258 198)"/>
<circle cx="240" cy="209" r="4.4" fill="#9a86cc" fill-opacity="0.39"/>
<circle cx="205" cy="217" r="7.5" fill="#9a86cc" fill-opacity="0.69"/>
<circle cx="224" cy="151" r="6.9" fill="#9a86cc" fill-opacity="0.45"/>
<circle cx="311" cy="172" r="6.7" fill="#9a86cc" fill-opacity="0.45"/>
<circle cx="202" cy="210" r="4.6" fill="#9a86cc" fill-opacity="0.44"/>
<circle cx="229" cy="153" r="4.7" fill="#9a86cc" fill-opacity="0.36"/>
<circle cx="260" cy="175" r="4.8" fill="#9a86cc" fill-opacity="0.65"/>
<circle cx="270" cy="141" r="5.0" fill="#9a86cc" fill-opacity="0.49"/>
<circle cx="244" cy="184" r="5.3" fill="#9a86cc" fill-opacity="0.63"/>
<circle cx="236" cy="154" r="7.3" fill="#9a86cc" fill-opacity="0.68"/>
<circle cx="280" cy="218" r="4.5" fill="#9a86cc" fill-opacity="0.45"/>
<circle cx="230" cy="247" r="4.1" fill="#9a86cc" fill-opacity="0.49"/>
<circle cx="314" cy="198" r="7.4" fill="#9a86cc" fill-opacity="0.48"/>
<circle cx="282" cy="149" r="6.0" fill="#9a86cc" fill-opacity="0.37"/>
<circle cx="267" cy="201" r="5.2" fill="#9a86cc" fill-opacity="0.46"/>
<circle cx="306" cy="207" r="4.3" fill="#9a86cc" fill-opacity="0.66"/>
<circle cx="252" cy="220" r="4.5" fill="#9a86cc" fill-opacity="0.64"/>
<circle cx="297" cy="220" r="6.7" fill="#9a86cc" fill-opacity="0.37"/>
<circle cx="279" cy="147" r="4.1" fill="#9a86cc" fill-opacity="0.67"/>
<circle cx="208" cy="195" r="5.2" fill="#9a86cc" fill-opacity="0.54"/>
<circle cx="220" cy="181" r="5.1" fill="#9a86cc" fill-opacity="0.50"/>
<circle cx="253" cy="209" r="5.9" fill="#9a86cc" fill-opacity="0.58"/>
<circle cx="227" cy="209" r="5.1" fill="#9a86cc" fill-opacity="0.64"/>
<circle cx="269" cy="200" r="7.1" fill="#9a86cc" fill-opacity="0.62"/>
<circle cx="250" cy="236" r="7.2" fill="#9a86cc" fill-opacity="0.55"/>
<circle cx="281" cy="248" r="6.7" fill="#9a86cc" fill-opacity="0.54"/>
<circle cx="261" cy="166" r="4.5" fill="#9a86cc" fill-opacity="0.42"/>
<circle cx="258" cy="174" r="6.6" fill="#9a86cc" fill-opacity="0.48"/>
<circle cx="224" cy="188" r="6.1" fill="#9a86cc" fill-opacity="0.56"/>
<circle cx="288" cy="227" r="5.0" fill="#9a86cc" fill-opacity="0.66"/>
<circle cx="288" cy="236" r="6.9" fill="#9a86cc" fill-opacity="0.67"/>
<circle cx="315" cy="187" r="7.1" fill="#9a86cc" fill-opacity="0.48"/>
<circle cx="299" cy="200" r="6.8" fill="#9a86cc" fill-opacity="0.49"/>
<circle cx="307" cy="197" r="6.4" fill="#9a86cc" fill-opacity="0.64"/>
<circle cx="223" cy="217" r="5.8" fill="#9a86cc" fill-opacity="0.49"/>
<circle cx="285" cy="246" r="4.4" fill="#9a86cc" fill-opacity="0.66"/>
<circle cx="237" cy="198" r="5.5" fill="#9a86cc" fill-opacity="0.54"/>
<circle cx="247" cy="141" r="5.8" fill="#9a86cc" fill-opacity="0.53"/>
<circle cx="276" cy="141" r="7.2" fill="#9a86cc" fill-opacity="0.54"/>
<circle cx="294" cy="209" r="4.9" fill="#9a86cc" fill-opacity="0.52"/>
<circle cx="243" cy="202" r="7.3" fill="#9a86cc" fill-opacity="0.52"/>
<circle cx="282" cy="174" r="7.0" fill="#9a86cc" fill-opacity="0.55"/>
<circle cx="288" cy="209" r="6.0" fill="#9a86cc" fill-opacity="0.58"/>
<circle cx="231" cy="225" r="4.9" fill="#9a86cc" fill-opacity="0.58"/>
<circle cx="315" cy="191" r="5.5" fill="#3a2488" fill-opacity="0.55"/>
<circle cx="207" cy="223" r="6.2" fill="#3a2488" fill-opacity="0.55"/>
<circle cx="270" cy="217" r="4.9" fill="#3a2488" fill-opacity="0.55"/>
<circle cx="261" cy="141" r="6.9" fill="#3a2488" fill-opacity="0.55"/>
<circle cx="256" cy="218" r="5.6" fill="#3a2488" fill-opacity="0.55"/>
<circle cx="265" cy="252" r="6.6" fill="#3a2488" fill-opacity="0.55"/>
<circle cx="302" cy="170" r="5.0" fill="#3a2488" fill-opacity="0.55"/>
<circle cx="260" cy="224" r="7.0" fill="#3a2488" fill-opacity="0.55"/>
<circle cx="249" cy="256" r="4.9" fill="#3a2488" fill-opacity="0.55"/>
<circle cx="287" cy="233" r="6.5" fill="#3a2488" fill-opacity="0.55"/>
<circle cx="204" cy="205" r="6.3" fill="#3a2488" fill-opacity="0.55"/>
<circle cx="311" cy="196" r="6.8" fill="#3a2488" fill-opacity="0.55"/>
<circle cx="226" cy="224" r="6.5" fill="#3a2488" fill-opacity="0.55"/>
<circle cx="242" cy="182" r="5.2" fill="#3a2488" fill-opacity="0.55"/>
<circle cx="272" cy="240" r="7.0" fill="#3a2488" fill-opacity="0.55"/>
<circle cx="265" cy="234" r="4.9" fill="#3a2488" fill-opacity="0.55"/>
<circle cx="289" cy="161" r="6.3" fill="#3a2488" fill-opacity="0.55"/>
<circle cx="239" cy="246" r="4.1" fill="#3a2488" fill-opacity="0.55"/>
<circle cx="281" cy="249" r="7.4" fill="#3a2488" fill-opacity="0.55"/>
<circle cx="311" cy="201" r="6.5" fill="#3a2488" fill-opacity="0.55"/>
<circle cx="280" cy="172" r="5.4" fill="#3a2488" fill-opacity="0.55"/>
<circle cx="229" cy="242" r="5.0" fill="#3a2488" fill-opacity="0.55"/>
<circle cx="268" cy="249" r="4.9" fill="#3a2488" fill-opacity="0.55"/>
<circle cx="308" cy="223" r="5.1" fill="#3a2488" fill-opacity="0.55"/>
<circle cx="236" cy="173" r="4.2" fill="#3a2488" fill-opacity="0.55"/>
<circle cx="208" cy="223" r="4.3" fill="#3a2488" fill-opacity="0.55"/>
<circle cx="283" cy="224" r="7.8" fill="#3a2488" fill-opacity="0.55"/>
<circle cx="264" cy="193" r="4.8" fill="#3a2488" fill-opacity="0.55"/>
<circle cx="284" cy="178" r="5.5" fill="#3a2488" fill-opacity="0.55"/>
<circle cx="228" cy="210" r="4.4" fill="#3a2488" fill-opacity="0.55"/>
<ellipse cx="262" cy="198" rx="56" ry="58" fill="#3a2a94" transform="rotate(0 262 198)"/>
<circle cx="231" cy="183" r="4.6" fill="#9a86cc" fill-opacity="0.48"/>
<circle cx="251" cy="229" r="5.0" fill="#9a86cc" fill-opacity="0.58"/>
<circle cx="302" cy="186" r="6.4" fill="#9a86cc" fill-opacity="0.67"/>
<circle cx="246" cy="163" r="7.4" fill="#9a86cc" fill-opacity="0.70"/>
<circle cx="300" cy="204" r="4.2" fill="#9a86cc" fill-opacity="0.65"/>
<circle cx="249" cy="192" r="5.2" fill="#9a86cc" fill-opacity="0.54"/>
<circle cx="249" cy="220" r="7.2" fill="#9a86cc" fill-opacity="0.42"/>
<circle cx="259" cy="197" r="5.6" fill="#9a86cc" fill-opacity="0.52"/>
<circle cx="275" cy="241" r="6.5" fill="#9a86cc" fill-opacity="0.57"/>
<circle cx="275" cy="160" r="5.4" fill="#9a86cc" fill-opacity="0.70"/>
<circle cx="261" cy="222" r="5.0" fill="#9a86cc" fill-opacity="0.63"/>
<circle cx="255" cy="151" r="6.3" fill="#9a86cc" fill-opacity="0.38"/>
<circle cx="279" cy="202" r="5.0" fill="#9a86cc" fill-opacity="0.43"/>
<circle cx="267" cy="169" r="7.0" fill="#9a86cc" fill-opacity="0.67"/>
<circle cx="287" cy="237" r="6.4" fill="#9a86cc" fill-opacity="0.67"/>
<circle cx="240" cy="219" r="5.3" fill="#9a86cc" fill-opacity="0.40"/>
<circle cx="245" cy="239" r="7.0" fill="#9a86cc" fill-opacity="0.47"/>
<circle cx="261" cy="174" r="5.9" fill="#9a86cc" fill-opacity="0.64"/>
<circle cx="276" cy="234" r="6.6" fill="#9a86cc" fill-opacity="0.66"/>
<circle cx="278" cy="157" r="7.9" fill="#9a86cc" fill-opacity="0.45"/>
<circle cx="224" cy="227" r="4.5" fill="#9a86cc" fill-opacity="0.69"/>
<circle cx="300" cy="215" r="7.4" fill="#9a86cc" fill-opacity="0.39"/>
<circle cx="265" cy="190" r="5.3" fill="#9a86cc" fill-opacity="0.65"/>
<circle cx="280" cy="223" r="5.3" fill="#9a86cc" fill-opacity="0.49"/>
<circle cx="294" cy="222" r="5.7" fill="#9a86cc" fill-opacity="0.44"/>
<circle cx="283" cy="218" r="7.7" fill="#9a86cc" fill-opacity="0.69"/>
<circle cx="300" cy="210" r="5.9" fill="#9a86cc" fill-opacity="0.62"/>
<circle cx="241" cy="235" r="4.6" fill="#9a86cc" fill-opacity="0.57"/>
<circle cx="268" cy="242" r="7.9" fill="#9a86cc" fill-opacity="0.65"/>
<circle cx="260" cy="238" r="4.6" fill="#9a86cc" fill-opacity="0.35"/>
<circle cx="281" cy="155" r="5.8" fill="#9a86cc" fill-opacity="0.49"/>
<circle cx="291" cy="170" r="7.1" fill="#9a86cc" fill-opacity="0.68"/>
<circle cx="227" cy="206" r="7.6" fill="#9a86cc" fill-opacity="0.54"/>
<circle cx="288" cy="189" r="6.3" fill="#9a86cc" fill-opacity="0.44"/>
<circle cx="274" cy="179" r="7.2" fill="#9a86cc" fill-opacity="0.51"/>
<circle cx="272" cy="186" r="4.3" fill="#9a86cc" fill-opacity="0.68"/>
<circle cx="225" cy="181" r="4.3" fill="#9a86cc" fill-opacity="0.35"/>
<circle cx="236" cy="204" r="4.8" fill="#9a86cc" fill-opacity="0.47"/>
<circle cx="301" cy="178" r="4.9" fill="#9a86cc" fill-opacity="0.58"/>
<circle cx="254" cy="224" r="5.5" fill="#9a86cc" fill-opacity="0.68"/>
<circle cx="272" cy="223" r="5.5" fill="#9a86cc" fill-opacity="0.66"/>
<circle cx="234" cy="201" r="7.4" fill="#9a86cc" fill-opacity="0.55"/>
<circle cx="222" cy="186" r="6.8" fill="#9a86cc" fill-opacity="0.68"/>
<circle cx="280" cy="225" r="7.8" fill="#9a86cc" fill-opacity="0.58"/>
<circle cx="304" cy="191" r="4.6" fill="#3a2488" fill-opacity="0.55"/>
<circle cx="250" cy="204" r="5.2" fill="#3a2488" fill-opacity="0.55"/>
<circle cx="250" cy="172" r="6.9" fill="#3a2488" fill-opacity="0.55"/>
<circle cx="269" cy="238" r="5.2" fill="#3a2488" fill-opacity="0.55"/>
<circle cx="240" cy="227" r="4.9" fill="#3a2488" fill-opacity="0.55"/>
<circle cx="289" cy="208" r="7.3" fill="#3a2488" fill-opacity="0.55"/>
<circle cx="259" cy="149" r="4.8" fill="#3a2488" fill-opacity="0.55"/>
<circle cx="296" cy="182" r="6.9" fill="#3a2488" fill-opacity="0.55"/>
<circle cx="249" cy="213" r="7.2" fill="#3a2488" fill-opacity="0.55"/>
<circle cx="247" cy="162" r="6.3" fill="#3a2488" fill-opacity="0.55"/>
<circle cx="261" cy="236" r="4.1" fill="#3a2488" fill-opacity="0.55"/>
<circle cx="256" cy="154" r="6.5" fill="#3a2488" fill-opacity="0.55"/>
<circle cx="269" cy="219" r="7.8" fill="#3a2488" fill-opacity="0.55"/>
<circle cx="261" cy="200" r="6.2" fill="#3a2488" fill-opacity="0.55"/>
<circle cx="253" cy="153" r="7.0" fill="#3a2488" fill-opacity="0.55"/>
<circle cx="291" cy="230" r="5.5" fill="#3a2488" fill-opacity="0.55"/>
<circle cx="216" cy="219" r="4.4" fill="#3a2488" fill-opacity="0.55"/>
<circle cx="285" cy="196" r="8.0" fill="#3a2488" fill-opacity="0.55"/>
<circle cx="281" cy="201" r="4.9" fill="#3a2488" fill-opacity="0.55"/>
<circle cx="248" cy="242" r="4.4" fill="#3a2488" fill-opacity="0.55"/>
<circle cx="246" cy="246" r="4.2" fill="#3a2488" fill-opacity="0.55"/>
<circle cx="281" cy="180" r="5.0" fill="#3a2488" fill-opacity="0.55"/>
<circle cx="228" cy="186" r="6.9" fill="#3a2488" fill-opacity="0.55"/>
<circle cx="234" cy="175" r="4.7" fill="#3a2488" fill-opacity="0.55"/>
<circle cx="259" cy="183" r="5.7" fill="#3a2488" fill-opacity="0.55"/>
<circle cx="291" cy="233" r="4.0" fill="#3a2488" fill-opacity="0.55"/>
<circle cx="244" cy="236" r="7.4" fill="#3a2488" fill-opacity="0.55"/>
<circle cx="270" cy="175" r="6.9" fill="#3a2488" fill-opacity="0.55"/>
<circle cx="275" cy="151" r="7.2" fill="#3a2488" fill-opacity="0.55"/>
<circle cx="285" cy="206" r="5.3" fill="#3a2488" fill-opacity="0.55"/>
</g>
<text x="248" y="84" font-size="55" font-weight="bold" text-anchor="middle" fill="#111" filter="url(#blur2)">d0</text>
</g></svg>
<svg x="80" y="173" width="60" height="60" viewBox="0 0 520 520">
<defs><clipPath id="cb12"><rect x="8" y="10" width="492" height="500"/></clipPath></defs>
<g clip-path="url(#cb12)">
<rect x="3" y="5" width="502" height="510" fill="#f9e9d6"/>
<g filter="url(#blur)">
<ellipse cx="45" cy="70" rx="50" ry="71" fill="#fdf1cd" fill-opacity="0.8"/>
<ellipse cx="155" cy="115" rx="52" ry="50" fill="#fdf1cd" fill-opacity="0.8"/>
<ellipse cx="365" cy="70" rx="60" ry="66" fill="#fdf1cd" fill-opacity="0.8"/>
<ellipse cx="490" cy="50" rx="23" ry="50" fill="#fdf1cd" fill-opacity="0.8"/>
<ellipse cx="60" cy="205" rx="60" ry="55" fill="#fdf1cd" fill-opacity="0.8"/>
<ellipse cx="410" cy="205" rx="60" ry="77" fill="#fdf1cd" fill-opacity="0.8"/>
<ellipse cx="150" cy="300" rx="66" ry="60" fill="#fdf1cd" fill-opacity="0.8"/>
<ellipse cx="350" cy="330" rx="71" ry="60" fill="#fdf1cd" fill-opacity="0.8"/>
<ellipse cx="65" cy="415" rx="60" ry="71" fill="#fdf1cd" fill-opacity="0.8"/>
<ellipse cx="185" cy="395" rx="71" ry="55" fill="#fdf1cd" fill-opacity="0.8"/>
<ellipse cx="345" cy="425" rx="52" ry="52" fill="#fdf1cd" fill-opacity="0.8"/>
<ellipse cx="455" cy="435" rx="55" ry="58" fill="#fdf1cd" fill-opacity="0.8"/>
<ellipse cx="270" cy="490" rx="55" ry="34" fill="#fdf1cd" fill-opacity="0.8"/>
<ellipse cx="395" cy="495" rx="60" ry="28" fill="#fdf1cd" fill-opacity="0.8"/>
<ellipse cx="270" cy="15" rx="34" ry="16" fill="#fdf1cd" fill-opacity="0.8"/>
<ellipse cx="495" cy="250" rx="16" ry="39" fill="#fdf1cd" fill-opacity="0.8"/>
<ellipse cx="45" cy="70" rx="43" ry="64" fill="url(#ring2)"/>
<ellipse cx="155" cy="115" rx="45" ry="43" fill="url(#ring2)"/>
<ellipse cx="365" cy="70" rx="54" ry="59" fill="url(#ring2)"/>
<ellipse cx="490" cy="50" rx="16" ry="43" fill="url(#ring2)"/>
<ellipse cx="60" cy="205" rx="54" ry="48" fill="url(#ring2)"/>
<ellipse cx="410" cy="205" rx="54" ry="70" fill="url(#ring2)"/>
<ellipse cx="150" cy="300" rx="59" ry="54" fill="url(#ring2)"/>
<ellipse cx="350" cy="330" rx="64" ry="54" fill="url(#ring2)"/>
<ellipse cx="65" cy="415" rx="54" ry="64" fill="url(#ring2)"/>
<ellipse cx="185" cy="395" rx="64" ry="48" fill="url(#ring2)"/>
<ellipse cx="345" cy="425" rx="45" ry="45" fill="url(#ring2)"/>
<ellipse cx="455" cy="435" rx="48" ry="51" fill="url(#ring2)"/>
<ellipse cx="270" cy="490" rx="48" ry="27" fill="url(#ring2)"/>
<ellipse cx="395" cy="495" rx="54" ry="21" fill="url(#ring2)"/>
<ellipse cx="270" cy="15" rx="27" ry="9" fill="url(#ring2)"/>
<ellipse cx="495" cy="250" rx="9" ry="32" fill="url(#ring2)"/>
<path d="M290.0,130.0 C309.2,130.8 329.6,137.2 340.0,150.0 C350.4,162.8 353.4,187.6 355.0,210.0 C356.6,232.4 362.0,272.4 350.0,290.0 C338.0,307.6 301.6,318.4 280.0,320.0 C258.4,321.6 235.8,314.4 215.0,300.0 C194.2,285.6 158.0,249.2 150.0,230.0 C142.0,210.8 153.8,193.6 165.0,180.0 C176.2,166.4 200.0,153.0 220.0,145.0 C240.0,137.0 270.8,129.2 290.0,130.0Z" fill="#5a46a4" stroke="#40329c" stroke-width="6" stroke-linejoin="round"/>
<circle cx="259" cy="211" r="7.2" fill="#9a86cc" fill-opacity="0.50"/>
<circle cx="191" cy="199" r="6.0" fill="#9a86cc" fill-opacity="0.55"/>
<circle cx="174" cy="219" r="4.0" fill="#9a86cc" fill-opacity="0.36"/>
<circle cx="325" cy="264" r="7.6" fill="#9a86cc" fill-opacity="0.49"/>
<circle cx="303" cy="155" r="5.8" fill="#9a86cc" fill-opacity="0.55"/>
<circle cx="176" cy="192" r="7.0" fill="#9a86cc" fill-opacity="0.66"/>
<circle cx="205" cy="197" r="4.3" fill="#9a86cc" fill-opacity="0.57"/>
<circle cx="246" cy="252" r="4.0" fill="#9a86cc" fill-opacity="0.54"/>
<circle cx="297" cy="155" r="7.3" fill="#9a86cc" fill-opacity="0.52"/>
<circle cx="200" cy="176" r="5.5" fill="#9a86cc" fill-opacity="0.65"/>
<circle cx="262" cy="266" r="6.8" fill="#9a86cc" fill-opacity="0.67"/>
<circle cx="339" cy="205" r="6.2" fill="#9a86cc" fill-opacity="0.46"/>
<circle cx="202" cy="211" r="6.8" fill="#9a86cc" fill-opacity="0.52"/>
<circle cx="249" cy="154" r="4.0" fill="#9a86cc" fill-opacity="0.40"/>
<circle cx="336" cy="265" r="7.8" fill="#9a86cc" fill-opacity="0.58"/>
<circle cx="251" cy="217" r="4.1" fill="#9a86cc" fill-opacity="0.61"/>
<circle cx="339" cy="203" r="7.0" fill="#9a86cc" fill-opacity="0.37"/>
<circle cx="208" cy="163" r="8.0" fill="#9a86cc" fill-opacity="0.41"/>
<circle cx="264" cy="237" r="6.0" fill="#9a86cc" fill-opacity="0.60"/>
<circle cx="212" cy="171" r="6.0" fill="#9a86cc" fill-opacity="0.47"/>
<circle cx="250" cy="210" r="5.9" fill="#9a86cc" fill-opacity="0.57"/>
<circle cx="223" cy="177" r="7.8" fill="#9a86cc" fill-opacity="0.66"/>
<circle cx="319" cy="286" r="8.0" fill="#9a86cc" fill-opacity="0.63"/>
<circle cx="319" cy="245" r="5.9" fill="#9a86cc" fill-opacity="0.47"/>
<circle cx="262" cy="162" r="7.6" fill="#9a86cc" fill-opacity="0.67"/>
<circle cx="311" cy="276" r="5.2" fill="#9a86cc" fill-opacity="0.63"/>
<circle cx="186" cy="197" r="5.4" fill="#9a86cc" fill-opacity="0.37"/>
<circle cx="301" cy="145" r="5.9" fill="#9a86cc" fill-opacity="0.66"/>
<circle cx="173" cy="221" r="6.1" fill="#9a86cc" fill-opacity="0.64"/>
<circle cx="183" cy="195" r="7.4" fill="#9a86cc" fill-opacity="0.63"/>
<circle cx="306" cy="292" r="5.2" fill="#9a86cc" fill-opacity="0.67"/>
<circle cx="239" cy="168" r="4.3" fill="#9a86cc" fill-opacity="0.53"/>
<circle cx="283" cy="144" r="4.3" fill="#9a86cc" fill-opacity="0.48"/>
<circle cx="335" cy="180" r="7.5" fill="#9a86cc" fill-opacity="0.63"/>
<circle cx="328" cy="284" r="8.0" fill="#9a86cc" fill-opacity="0.55"/>
<circle cx="294" cy="163" r="6.1" fill="#9a86cc" fill-opacity="0.41"/>
<circle cx="328" cy="180" r="5.9" fill="#9a86cc" fill-opacity="0.67"/>
<circle cx="190" cy="202" r="5.4" fill="#9a86cc" fill-opacity="0.65"/>
<circle cx="290" cy="249" r="5.2" fill="#9a86cc" fill-opacity="0.63"/>
<circle cx="292" cy="243" r="4.8" fill="#9a86cc" fill-opacity="0.69"/>
<circle cx="269" cy="293" r="4.5" fill="#9a86cc" fill-opacity="0.38"/>
<circle cx="217" cy="258" r="6.3" fill="#9a86cc" fill-opacity="0.62"/>
<circle cx="244" cy="173" r="6.8" fill="#9a86cc" fill-opacity="0.49"/>
<circle cx="234" cy="261" r="6.9" fill="#9a86cc" fill-opacity="0.42"/>
<circle cx="207" cy="244" r="6.7" fill="#3a2488" fill-opacity="0.55"/>
<circle cx="275" cy="181" r="5.4" fill="#3a2488" fill-opacity="0.55"/>
<circle cx="264" cy="180" r="7.3" fill="#3a2488" fill-opacity="0.55"/>
<circle cx="263" cy="175" r="7.7" fill="#3a2488" fill-opacity="0.55"/>
<circle cx="276" cy="298" r="7.1" fill="#3a2488" fill-opacity="0.55"/>
<circle cx="215" cy="176" r="4.8" fill="#3a2488" fill-opacity="0.55"/>
<circle cx="291" cy="216" r="7.3" fill="#3a2488" fill-opacity="0.55"/>
<circle cx="196" cy="202" r="4.5" fill="#3a2488" fill-opacity="0.55"/>
<circle cx="246" cy="198" r="4.7" fill="#3a2488" fill-opacity="0.55"/>
<circle cx="301" cy="207" r="4.4" fill="#3a2488" fill-opacity="0.55"/>
<circle cx="216" cy="228" r="5.9" fill="#3a2488" fill-opacity="0.55"/>
<circle cx="214" cy="261" r="4.7" fill="#3a2488" fill-opacity="0.55"/>
<circle cx="262" cy="154" r="4.1" fill="#3a2488" fill-opacity="0.55"/>
<circle cx="218" cy="182" r="6.6" fill="#3a2488" fill-opacity="0.55"/>
<circle cx="244" cy="275" r="4.6" fill="#3a2488" fill-opacity="0.55"/>
<circle cx="322" cy="262" r="6.3" fill="#3a2488" fill-opacity="0.55"/>
<circle cx="234" cy="276" r="6.7" fill="#3a2488" fill-opacity="0.55"/>
<circle cx="240" cy="153" r="5.4" fill="#3a2488" fill-opacity="0.55"/>
<circle cx="313" cy="288" r="6.4" fill="#3a2488" fill-opacity="0.55"/>
<circle cx="188" cy="203" r="6.3" fill="#3a2488" fill-opacity="0.55"/>
<circle cx="297" cy="277" r="6.8" fill="#3a2488" fill-opacity="0.55"/>
<circle cx="308" cy="264" r="7.1" fill="#3a2488" fill-opacity="0.55"/>
<circle cx="240" cy="288" r="5.3" fill="#3a2488" fill-opacity="0.55"/>
<circle cx="299" cy="195" r="5.4" fill="#3a2488" fill-opacity="0.55"/>
<circle cx="269" cy="224" r="5.2" fill="#3a2488" fill-opacity="0.55"/>
<circle cx="289" cy="143" r="7.6" fill="#3a2488" fill-opacity="0.55"/>
<circle cx="281" cy="272" r="5.4" fill="#3a2488" fill-opacity="0.55"/>
<circle cx="186" cy="228" r="7.8" fill="#3a2488" fill-opacity="0.55"/>
<circle cx="335" cy="275" r="6.1" fill="#3a2488" fill-opacity="0.55"/>
<circle cx="191" cy="194" r="6.5" fill="#3a2488" fill-opacity="0.55"/>
<ellipse cx="312" cy="228" rx="24" ry="42" fill="#9184c8" transform="rotate(0 312 228)"/>
</g>
<text x="248" y="87" font-size="55" font-weight="bold" text-anchor="middle" fill="#111" filter="url(#blur2)">d5</text>
</g></svg>
<svg x="140" y="173" width="60" height="60" viewBox="0 0 520 520">
<defs><clipPath id="cb13"><rect x="8" y="10" width="489" height="500"/></clipPath></defs>
<g clip-path="url(#cb13)">
<rect x="3" y="5" width="499" height="510" fill="#f9e9d6"/>
<g filter="url(#blur)">
<ellipse cx="75" cy="100" rx="71" ry="77" fill="#fdf1cd" fill-opacity="0.8"/>
<ellipse cx="130" cy="20" rx="50" ry="20" fill="#fdf1cd" fill-opacity="0.8"/>
<ellipse cx="225" cy="30" rx="55" ry="34" fill="#fdf1cd" fill-opacity="0.8"/>
<ellipse cx="285" cy="115" rx="52" ry="55" fill="#fdf1cd" fill-opacity="0.8"/>
<ellipse cx="355" cy="185" rx="52" ry="52" fill="#fdf1cd" fill-opacity="0.8"/>
<ellipse cx="35" cy="205" rx="44" ry="55" fill="#fdf1cd" fill-opacity="0.8"/>
<ellipse cx="420" cy="255" rx="55" ry="52" fill="#fdf1cd" fill-opacity="0.8"/>
<ellipse cx="35" cy="330" rx="44" ry="60" fill="#fdf1cd" fill-opacity="0.8"/>
<ellipse cx="445" cy="340" rx="60" ry="55" fill="#fdf1cd" fill-opacity="0.8"/>
<ellipse cx="345" cy="365" rx="60" ry="60" fill="#fdf1cd" fill-opacity="0.8"/>
<ellipse cx="170" cy="425" rx="58" ry="58" fill="#fdf1cd" fill-opacity="0.8"/>
<ellipse cx="380" cy="450" rx="77" ry="60" fill="#fdf1cd" fill-opacity="0.8"/>
<ellipse cx="240" cy="485" rx="58" ry="44" fill="#fdf1cd" fill-opacity="0.8"/>
<ellipse cx="20" cy="440" rx="31" ry="50" fill="#fdf1cd" fill-opacity="0.8"/>
<ellipse cx="60" cy="495" rx="50" ry="28" fill="#fdf1cd" fill-opacity="0.8"/>
<ellipse cx="485" cy="455" rx="28" ry="60" fill="#fdf1cd" fill-opacity="0.8"/>
<ellipse cx="75" cy="100" rx="64" ry="70" fill="url(#ring2)"/>
<ellipse cx="130" cy="20" rx="43" ry="13" fill="url(#ring2)"/>
<ellipse cx="225" cy="30" rx="48" ry="27" fill="url(#ring2)"/>
<ellipse cx="285" cy="115" rx="45" ry="48" fill="url(#ring2)"/>
<ellipse cx="355" cy="185" rx="45" ry="45" fill="url(#ring2)"/>
<ellipse cx="35" cy="205" rx="37" ry="48" fill="url(#ring2)"/>
<ellipse cx="420" cy="255" rx="48" ry="45" fill="url(#ring2)"/>
<ellipse cx="35" cy="330" rx="37" ry="54" fill="url(#ring2)"/>
<ellipse cx="445" cy="340" rx="54" ry="48" fill="url(#ring2)"/>
<ellipse cx="345" cy="365" rx="54" ry="54" fill="url(#ring2)"/>
<ellipse cx="170" cy="425" rx="51" ry="51" fill="url(#ring2)"/>
<ellipse cx="380" cy="450" rx="70" ry="54" fill="url(#ring2)"/>
<ellipse cx="240" cy="485" rx="51" ry="37" fill="url(#ring2)"/>
<ellipse cx="20" cy="440" rx="24" ry="43" fill="url(#ring2)"/>
<ellipse cx="60" cy="495" rx="43" ry="21" fill="url(#ring2)"/>
<ellipse cx="485" cy="455" rx="21" ry="54" fill="url(#ring2)"/>
<path d="M158.0,190.0 C171.1,170.0 206.5,156.3 230.0,155.0 C253.5,153.7 285.5,162.0 305.0,182.0 C324.5,202.0 357.9,251.8 352.0,280.0 C346.1,308.2 297.8,348.4 268.0,358.0 C238.2,367.6 185.2,352.5 166.0,340.0 C146.8,327.5 149.3,304.0 148.0,280.0 C146.7,256.0 144.9,210.0 158.0,190.0Z" fill="#d6d1ee" stroke="#8f88d2" stroke-width="6" stroke-linejoin="round"/>
<path d="M185.0,215.0 C187.4,197.4 211.6,165.6 230.0,160.0 C248.4,154.4 284.0,165.6 300.0,180.0 C316.0,194.4 333.2,233.2 330.0,250.0 C326.8,266.8 298.4,281.8 280.0,285.0 C261.6,288.2 230.2,281.2 215.0,270.0 C199.8,258.8 182.6,232.6 185.0,215.0Z" fill="#43339e" stroke="#43339e" stroke-width="6" stroke-linejoin="round"/>
<circle cx="216" cy="194" r="5.3" fill="#9a86cc" fill-opacity="0.47"/>
<circle cx="231" cy="265" r="6.4" fill="#9a86cc" fill-opacity="0.69"/>
<circle cx="272" cy="204" r="4.9" fill="#9a86cc" fill-opacity="0.48"/>
<circle cx="286" cy="188" r="6.2" fill="#9a86cc" fill-opacity="0.54"/>
<circle cx="294" cy="186" r="6.1" fill="#9a86cc" fill-opacity="0.45"/>
<circle cx="229" cy="255" r="4.4" fill="#9a86cc" fill-opacity="0.68"/>
<circle cx="287" cy="271" r="6.2" fill="#9a86cc" fill-opacity="0.39"/>
<circle cx="258" cy="215" r="6.8" fill="#9a86cc" fill-opacity="0.58"/>
<circle cx="291" cy="240" r="6.6" fill="#9a86cc" fill-opacity="0.62"/>
<circle cx="218" cy="187" r="4.4" fill="#9a86cc" fill-opacity="0.51"/>
<circle cx="260" cy="238" r="4.3" fill="#9a86cc" fill-opacity="0.60"/>
<circle cx="292" cy="218" r="6.5" fill="#9a86cc" fill-opacity="0.42"/>
<circle cx="311" cy="245" r="5.0" fill="#9a86cc" fill-opacity="0.47"/>
<circle cx="209" cy="206" r="7.0" fill="#9a86cc" fill-opacity="0.47"/>
<circle cx="239" cy="219" r="5.5" fill="#9a86cc" fill-opacity="0.46"/>
<circle cx="209" cy="212" r="6.6" fill="#9a86cc" fill-opacity="0.39"/>
<circle cx="230" cy="211" r="4.1" fill="#9a86cc" fill-opacity="0.37"/>
<circle cx="290" cy="248" r="7.6" fill="#9a86cc" fill-opacity="0.54"/>
<circle cx="253" cy="187" r="7.5" fill="#9a86cc" fill-opacity="0.58"/>
<circle cx="299" cy="253" r="4.2" fill="#9a86cc" fill-opacity="0.53"/>
<circle cx="313" cy="252" r="4.8" fill="#9a86cc" fill-opacity="0.63"/>
<circle cx="242" cy="177" r="6.8" fill="#9a86cc" fill-opacity="0.69"/>
<circle cx="263" cy="203" r="7.1" fill="#9a86cc" fill-opacity="0.66"/>
<circle cx="297" cy="202" r="5.1" fill="#9a86cc" fill-opacity="0.47"/>
<circle cx="218" cy="259" r="5.2" fill="#9a86cc" fill-opacity="0.48"/>
<circle cx="309" cy="251" r="5.4" fill="#9a86cc" fill-opacity="0.65"/>
<circle cx="255" cy="225" r="5.0" fill="#9a86cc" fill-opacity="0.37"/>
<circle cx="269" cy="232" r="6.9" fill="#9a86cc" fill-opacity="0.47"/>
<circle cx="310" cy="225" r="7.4" fill="#9a86cc" fill-opacity="0.47"/>
<circle cx="238" cy="186" r="5.1" fill="#9a86cc" fill-opacity="0.66"/>
<circle cx="286" cy="188" r="5.8" fill="#9a86cc" fill-opacity="0.44"/>
<circle cx="302" cy="234" r="7.6" fill="#9a86cc" fill-opacity="0.44"/>
<circle cx="277" cy="200" r="7.2" fill="#9a86cc" fill-opacity="0.39"/>
<circle cx="290" cy="262" r="5.9" fill="#9a86cc" fill-opacity="0.54"/>
<circle cx="214" cy="222" r="6.5" fill="#9a86cc" fill-opacity="0.59"/>
<circle cx="242" cy="239" r="7.2" fill="#9a86cc" fill-opacity="0.50"/>
<circle cx="253" cy="244" r="7.7" fill="#9a86cc" fill-opacity="0.50"/>
<circle cx="294" cy="213" r="5.5" fill="#9a86cc" fill-opacity="0.68"/>
<circle cx="262" cy="239" r="6.7" fill="#9a86cc" fill-opacity="0.51"/>
<circle cx="243" cy="269" r="7.8" fill="#9a86cc" fill-opacity="0.69"/>
<circle cx="252" cy="208" r="6.5" fill="#9a86cc" fill-opacity="0.43"/>
<circle cx="214" cy="247" r="6.8" fill="#9a86cc" fill-opacity="0.39"/>
<circle cx="244" cy="180" r="6.6" fill="#9a86cc" fill-opacity="0.69"/>
<circle cx="213" cy="207" r="5.7" fill="#9a86cc" fill-opacity="0.38"/>
<circle cx="241" cy="214" r="5.9" fill="#3a2488" fill-opacity="0.55"/>
<circle cx="256" cy="236" r="4.8" fill="#3a2488" fill-opacity="0.55"/>
<circle cx="259" cy="261" r="7.4" fill="#3a2488" fill-opacity="0.55"/>
<circle cx="214" cy="206" r="5.5" fill="#3a2488" fill-opacity="0.55"/>
<circle cx="285" cy="225" r="5.1" fill="#3a2488" fill-opacity="0.55"/>
<circle cx="224" cy="179" r="7.6" fill="#3a2488" fill-opacity="0.55"/>
<circle cx="258" cy="192" r="8.0" fill="#3a2488" fill-opacity="0.55"/>
<circle cx="267" cy="223" r="5.3" fill="#3a2488" fill-opacity="0.55"/>
<circle cx="227" cy="260" r="7.9" fill="#3a2488" fill-opacity="0.55"/>
<circle cx="211" cy="236" r="4.4" fill="#3a2488" fill-opacity="0.55"/>
<circle cx="276" cy="252" r="7.2" fill="#3a2488" fill-opacity="0.55"/>
<circle cx="275" cy="184" r="6.3" fill="#3a2488" fill-opacity="0.55"/>
<circle cx="242" cy="262" r="5.0" fill="#3a2488" fill-opacity="0.55"/>
<circle cx="275" cy="216" r="5.6" fill="#3a2488" fill-opacity="0.55"/>
<circle cx="216" cy="206" r="5.3" fill="#3a2488" fill-opacity="0.55"/>
<circle cx="283" cy="182" r="6.7" fill="#3a2488" fill-opacity="0.55"/>
<circle cx="200" cy="208" r="5.7" fill="#3a2488" fill-opacity="0.55"/>
<circle cx="232" cy="173" r="5.7" fill="#3a2488" fill-opacity="0.55"/>
<circle cx="257" cy="181" r="6.7" fill="#3a2488" fill-opacity="0.55"/>
<circle cx="294" cy="218" r="5.4" fill="#3a2488" fill-opacity="0.55"/>
<circle cx="231" cy="251" r="4.3" fill="#3a2488" fill-opacity="0.55"/>
<circle cx="302" cy="208" r="6.0" fill="#3a2488" fill-opacity="0.55"/>
<circle cx="270" cy="248" r="7.5" fill="#3a2488" fill-opacity="0.55"/>
<circle cx="275" cy="276" r="5.0" fill="#3a2488" fill-opacity="0.55"/>
<circle cx="251" cy="214" r="5.1" fill="#3a2488" fill-opacity="0.55"/>
<circle cx="270" cy="245" r="7.7" fill="#3a2488" fill-opacity="0.55"/>
<circle cx="209" cy="206" r="4.7" fill="#3a2488" fill-opacity="0.55"/>
<circle cx="241" cy="178" r="7.8" fill="#3a2488" fill-opacity="0.55"/>
<circle cx="259" cy="239" r="5.2" fill="#3a2488" fill-opacity="0.55"/>
<circle cx="307" cy="250" r="4.8" fill="#3a2488" fill-opacity="0.55"/>
</g>
<text x="245" y="79" font-size="55" font-weight="bold" text-anchor="middle" fill="#111" filter="url(#blur2)">d10</text>
</g></svg>
<svg x="200" y="173" width="60" height="60" viewBox="0 0 520 520">
<defs><clipPath id="cb14"><rect x="5" y="10" width="492" height="500"/></clipPath></defs>
<g clip-path="url(#cb14)">
<rect x="0" y="5" width="502" height="510" fill="#f9e9d6"/>
<g filter="url(#blur)">
<ellipse cx="60" cy="75" rx="52" ry="58" fill="#fdf1cd" fill-opacity="0.8"/>
<ellipse cx="155" cy="45" rx="52" ry="44" fill="#fdf1cd" fill-opacity="0.8"/>
<ellipse cx="460" cy="40" rx="50" ry="44" fill="#fdf1cd" fill-opacity="0.8"/>
<ellipse cx="370" cy="130" rx="55" ry="58" fill="#fdf1cd" fill-opacity="0.8"/>
<ellipse cx="105" cy="190" rx="52" ry="63" fill="#fdf1cd" fill-opacity="0.8"/>
<ellipse cx="10" cy="155" rx="18" ry="44" fill="#fdf1cd" fill-opacity="0.8"/>
<ellipse cx="130" cy="300" rx="48" ry="55" fill="#fdf1cd" fill-opacity="0.8"/>
<ellipse cx="370" cy="320" rx="55" ry="55" fill="#fdf1cd" fill-opacity="0.8"/>
<ellipse cx="470" cy="330" rx="50" ry="66" fill="#fdf1cd" fill-opacity="0.8"/>
<ellipse cx="80" cy="405" rx="63" ry="60" fill="#fdf1cd" fill-opacity="0.8"/>
<ellipse cx="255" cy="385" rx="58" ry="55" fill="#fdf1cd" fill-opacity="0.8"/>
<ellipse cx="365" cy="430" rx="58" ry="66" fill="#fdf1cd" fill-opacity="0.8"/>
<ellipse cx="225" cy="475" rx="58" ry="52" fill="#fdf1cd" fill-opacity="0.8"/>
<ellipse cx="120" cy="495" rx="55" ry="34" fill="#fdf1cd" fill-opacity="0.8"/>
<ellipse cx="475" cy="475" rx="37" ry="44" fill="#fdf1cd" fill-opacity="0.8"/>
<ellipse cx="10" cy="420" rx="16" ry="34" fill="#fdf1cd" fill-opacity="0.8"/>
<ellipse cx="60" cy="75" rx="45" ry="51" fill="url(#ring)"/>
<ellipse cx="155" cy="45" rx="45" ry="37" fill="url(#ring)"/>
<ellipse cx="460" cy="40" rx="43" ry="37" fill="url(#ring)"/>
<ellipse cx="370" cy="130" rx="48" ry="51" fill="url(#ring)"/>
<ellipse cx="105" cy="190" rx="45" ry="56" fill="url(#ring)"/>
<ellipse cx="10" cy="155" rx="11" ry="37" fill="url(#ring)"/>
<ellipse cx="130" cy="300" rx="41" ry="48" fill="url(#ring)"/>
<ellipse cx="370" cy="320" rx="48" ry="48" fill="url(#ring)"/>
<ellipse cx="470" cy="330" rx="43" ry="59" fill="url(#ring)"/>
<ellipse cx="80" cy="405" rx="56" ry="54" fill="url(#ring)"/>
<ellipse cx="255" cy="385" rx="51" ry="48" fill="url(#ring)"/>
<ellipse cx="365" cy="430" rx="51" ry="59" fill="url(#ring)"/>
<ellipse cx="225" cy="475" rx="51" ry="45" fill="url(#ring)"/>
<ellipse cx="120" cy="495" rx="48" ry="27" fill="url(#ring)"/>
<ellipse cx="475" cy="475" rx="30" ry="37" fill="url(#ring)"/>
<ellipse cx="10" cy="420" rx="9" ry="27" fill="url(#ring)"/>
<path d="M168.0,150.0 C195.7,133.2 283.5,132.5 315.0,140.0 C346.5,147.5 360.7,175.4 365.0,197.0 C369.3,218.6 352.7,252.9 342.0,275.0 C331.3,297.1 317.8,326.8 298.0,335.0 C278.2,343.2 243.0,340.4 218.0,326.0 C193.0,311.6 150.0,273.2 142.0,245.0 C134.0,216.8 140.3,166.8 168.0,150.0Z" fill="#d6d2ee" stroke="#9089d4" stroke-width="6" stroke-linejoin="round"/>
<path d="M195.0,255.0 C207.0,236.6 275.2,189.6 300.0,180.0 C324.8,170.4 342.8,179.0 350.0,195.0 C357.2,211.0 353.0,260.8 345.0,280.0 C337.0,299.2 319.2,312.6 300.0,315.0 C280.8,317.4 241.8,304.6 225.0,295.0 C208.2,285.4 183.0,273.4 195.0,255.0Z" fill="#48379a" stroke="#48379a" stroke-width="6" stroke-linejoin="round"/>
<circle cx="258" cy="257" r="5.9" fill="#9a86cc" fill-opacity="0.66"/>
<circle cx="284" cy="271" r="6.7" fill="#9a86cc" fill-opacity="0.50"/>
<circle cx="282" cy="208" r="6.3" fill="#9a86cc" fill-opacity="0.47"/>
<circle cx="314" cy="277" r="5.6" fill="#9a86cc" fill-opacity="0.41"/>
<circle cx="225" cy="264" r="6.8" fill="#9a86cc" fill-opacity="0.36"/>
<circle cx="342" cy="220" r="6.1" fill="#9a86cc" fill-opacity="0.38"/>
<circle cx="275" cy="258" r="4.6" fill="#9a86cc" fill-opacity="0.62"/>
<circle cx="303" cy="214" r="7.5" fill="#9a86cc" fill-opacity="0.53"/>
<circle cx="227" cy="260" r="7.9" fill="#9a86cc" fill-opacity="0.60"/>
<circle cx="297" cy="285" r="6.2" fill="#9a86cc" fill-opacity="0.56"/>
<circle cx="262" cy="223" r="4.0" fill="#9a86cc" fill-opacity="0.38"/>
<circle cx="265" cy="260" r="7.0" fill="#9a86cc" fill-opacity="0.48"/>
<circle cx="276" cy="271" r="7.9" fill="#9a86cc" fill-opacity="0.44"/>
<circle cx="321" cy="244" r="5.1" fill="#9a86cc" fill-opacity="0.42"/>
<circle cx="217" cy="271" r="7.7" fill="#9a86cc" fill-opacity="0.54"/>
<circle cx="295" cy="215" r="5.0" fill="#9a86cc" fill-opacity="0.37"/>
<circle cx="304" cy="285" r="6.3" fill="#9a86cc" fill-opacity="0.36"/>
<circle cx="319" cy="238" r="7.4" fill="#9a86cc" fill-opacity="0.41"/>
<circle cx="321" cy="200" r="7.0" fill="#9a86cc" fill-opacity="0.65"/>
<circle cx="326" cy="222" r="5.2" fill="#9a86cc" fill-opacity="0.55"/>
<circle cx="326" cy="271" r="6.7" fill="#9a86cc" fill-opacity="0.51"/>
<circle cx="257" cy="263" r="5.6" fill="#9a86cc" fill-opacity="0.66"/>
<circle cx="329" cy="199" r="5.0" fill="#9a86cc" fill-opacity="0.55"/>
<circle cx="228" cy="279" r="4.0" fill="#9a86cc" fill-opacity="0.55"/>
<circle cx="331" cy="206" r="7.9" fill="#9a86cc" fill-opacity="0.49"/>
<circle cx="318" cy="255" r="6.9" fill="#9a86cc" fill-opacity="0.46"/>
<circle cx="318" cy="269" r="5.5" fill="#9a86cc" fill-opacity="0.49"/>
<circle cx="304" cy="210" r="7.5" fill="#9a86cc" fill-opacity="0.46"/>
<circle cx="296" cy="256" r="4.2" fill="#9a86cc" fill-opacity="0.54"/>
<circle cx="291" cy="288" r="6.3" fill="#9a86cc" fill-opacity="0.56"/>
<circle cx="221" cy="276" r="5.9" fill="#9a86cc" fill-opacity="0.45"/>
<circle cx="319" cy="245" r="6.9" fill="#9a86cc" fill-opacity="0.44"/>
<circle cx="254" cy="281" r="5.0" fill="#9a86cc" fill-opacity="0.41"/>
<circle cx="243" cy="280" r="4.2" fill="#9a86cc" fill-opacity="0.42"/>
<circle cx="301" cy="191" r="6.7" fill="#9a86cc" fill-opacity="0.49"/>
<circle cx="241" cy="242" r="5.8" fill="#9a86cc" fill-opacity="0.43"/>
<circle cx="326" cy="253" r="5.0" fill="#9a86cc" fill-opacity="0.59"/>
<circle cx="311" cy="208" r="7.8" fill="#9a86cc" fill-opacity="0.40"/>
<circle cx="253" cy="232" r="6.8" fill="#9a86cc" fill-opacity="0.69"/>
<circle cx="340" cy="234" r="6.2" fill="#9a86cc" fill-opacity="0.66"/>
<circle cx="258" cy="279" r="4.7" fill="#9a86cc" fill-opacity="0.62"/>
<circle cx="316" cy="264" r="4.4" fill="#9a86cc" fill-opacity="0.43"/>
<circle cx="280" cy="239" r="4.4" fill="#9a86cc" fill-opacity="0.35"/>
<circle cx="296" cy="224" r="7.0" fill="#9a86cc" fill-opacity="0.47"/>
<circle cx="333" cy="221" r="4.9" fill="#3a2488" fill-opacity="0.55"/>
<circle cx="222" cy="242" r="7.5" fill="#3a2488" fill-opacity="0.55"/>
<circle cx="220" cy="272" r="4.3" fill="#3a2488" fill-opacity="0.55"/>
<circle cx="251" cy="241" r="5.8" fill="#3a2488" fill-opacity="0.55"/>
<circle cx="332" cy="251" r="6.9" fill="#3a2488" fill-opacity="0.55"/>
<circle cx="316" cy="279" r="7.6" fill="#3a2488" fill-opacity="0.55"/>
<circle cx="339" cy="220" r="5.4" fill="#3a2488" fill-opacity="0.55"/>
<circle cx="231" cy="267" r="6.7" fill="#3a2488" fill-opacity="0.55"/>
<circle cx="288" cy="305" r="6.8" fill="#3a2488" fill-opacity="0.55"/>
<circle cx="329" cy="273" r="4.2" fill="#3a2488" fill-opacity="0.55"/>
<circle cx="326" cy="226" r="7.0" fill="#3a2488" fill-opacity="0.55"/>
<circle cx="252" cy="266" r="7.3" fill="#3a2488" fill-opacity="0.55"/>
<circle cx="243" cy="279" r="4.6" fill="#3a2488" fill-opacity="0.55"/>
<circle cx="329" cy="283" r="5.3" fill="#3a2488" fill-opacity="0.55"/>
<circle cx="258" cy="259" r="5.7" fill="#3a2488" fill-opacity="0.55"/>
<circle cx="323" cy="212" r="7.8" fill="#3a2488" fill-opacity="0.55"/>
<circle cx="277" cy="222" r="7.8" fill="#3a2488" fill-opacity="0.55"/>
<circle cx="327" cy="210" r="4.7" fill="#3a2488" fill-opacity="0.55"/>
<circle cx="297" cy="287" r="5.6" fill="#3a2488" fill-opacity="0.55"/>
<circle cx="307" cy="247" r="4.5" fill="#3a2488" fill-opacity="0.55"/>
<circle cx="268" cy="214" r="4.2" fill="#3a2488" fill-opacity="0.55"/>
<circle cx="271" cy="208" r="4.9" fill="#3a2488" fill-opacity="0.55"/>
<circle cx="253" cy="268" r="7.7" fill="#3a2488" fill-opacity="0.55"/>
<circle cx="246" cy="281" r="7.6" fill="#3a2488" fill-opacity="0.55"/>
<circle cx="325" cy="273" r="4.8" fill="#3a2488" fill-opacity="0.55"/>
<circle cx="342" cy="210" r="6.5" fill="#3a2488" fill-opacity="0.55"/>
<circle cx="259" cy="298" r="6.5" fill="#3a2488" fill-opacity="0.55"/>
<circle cx="338" cy="240" r="5.8" fill="#3a2488" fill-opacity="0.55"/>
<circle cx="312" cy="235" r="7.4" fill="#3a2488" fill-opacity="0.55"/>
<circle cx="336" cy="258" r="4.4" fill="#3a2488" fill-opacity="0.55"/>
<ellipse cx="453" cy="423" rx="12" ry="12" fill="#3a2c9a" transform="rotate(0 453 423)"/>
<ellipse cx="185" cy="35" rx="8" ry="8" fill="#3a2c9a" transform="rotate(0 185 35)"/>
</g>
<text x="258" y="81" font-size="55" font-weight="bold" text-anchor="middle" fill="#111" filter="url(#blur2)">d15</text>
</g></svg>
<svg x="260" y="173" width="60" height="60" viewBox="0 0 520 520">
<defs><clipPath id="cb15"><rect x="15" y="10" width="490" height="500"/></clipPath></defs>
<g clip-path="url(#cb15)">
<rect x="10" y="5" width="500" height="510" fill="#f9e9d6"/>
<g filter="url(#blur)">
<ellipse cx="75" cy="25" rx="55" ry="28" fill="#fdf1cd" fill-opacity="0.8"/>
<ellipse cx="215" cy="65" rx="55" ry="60" fill="#fdf1cd" fill-opacity="0.8"/>
<ellipse cx="145" cy="265" rx="60" ry="66" fill="#fdf1cd" fill-opacity="0.8"/>
<ellipse cx="85" cy="340" rx="58" ry="77" fill="#fdf1cd" fill-opacity="0.8"/>
<ellipse cx="315" cy="335" rx="55" ry="55" fill="#fdf1cd" fill-opacity="0.8"/>
<ellipse cx="405" cy="305" rx="52" ry="77" fill="#fdf1cd" fill-opacity="0.8"/>
<ellipse cx="490" cy="320" rx="34" ry="66" fill="#fdf1cd" fill-opacity="0.8"/>
<ellipse cx="240" cy="415" rx="55" ry="66" fill="#fdf1cd" fill-opacity="0.8"/>
<ellipse cx="130" cy="460" rx="55" ry="50" fill="#fdf1cd" fill-opacity="0.8"/>
<ellipse cx="350" cy="485" rx="58" ry="39" fill="#fdf1cd" fill-opacity="0.8"/>
<ellipse cx="465" cy="445" rx="55" ry="55" fill="#fdf1cd" fill-opacity="0.8"/>
<ellipse cx="230" cy="500" rx="55" ry="23" fill="#fdf1cd" fill-opacity="0.8"/>
<ellipse cx="20" cy="390" rx="18" ry="50" fill="#fdf1cd" fill-opacity="0.8"/>
<ellipse cx="75" cy="25" rx="48" ry="21" fill="url(#pale)"/>
<ellipse cx="215" cy="65" rx="48" ry="54" fill="url(#pale)"/>
<ellipse cx="145" cy="265" rx="54" ry="59" fill="url(#pale)"/>
<ellipse cx="85" cy="340" rx="51" ry="70" fill="url(#pale)"/>
<ellipse cx="315" cy="335" rx="48" ry="48" fill="url(#pale)"/>
<ellipse cx="405" cy="305" rx="45" ry="70" fill="url(#pale)"/>
<ellipse cx="490" cy="320" rx="27" ry="59" fill="url(#pale)"/>
<ellipse cx="240" cy="415" rx="48" ry="59" fill="url(#pale)"/>
<ellipse cx="130" cy="460" rx="48" ry="43" fill="url(#pale)"/>
<ellipse cx="350" cy="485" rx="51" ry="32" fill="url(#pale)"/>
<ellipse cx="465" cy="445" rx="48" ry="48" fill="url(#pale)"/>
<ellipse cx="230" cy="500" rx="48" ry="16" fill="url(#pale)"/>
<ellipse cx="20" cy="390" rx="11" ry="43" fill="url(#pale)"/>
<ellipse cx="262" cy="248" rx="78" ry="78" fill="#857cc8" transform="rotate(0 262 248)"/>
<ellipse cx="262" cy="250" rx="68" ry="68" fill="#42329a" transform="rotate(0 262 250)"/>
<circle cx="259" cy="271" r="4.6" fill="#9a86cc" fill-opacity="0.59"/>
<circle cx="308" cy="221" r="6.9" fill="#9a86cc" fill-opacity="0.46"/>
<circle cx="245" cy="256" r="6.6" fill="#9a86cc" fill-opacity="0.42"/>
<circle cx="295" cy="207" r="4.4" fill="#9a86cc" fill-opacity="0.47"/>
<circle cx="302" cy="206" r="6.2" fill="#9a86cc" fill-opacity="0.49"/>
<circle cx="240" cy="213" r="5.0" fill="#9a86cc" fill-opacity="0.69"/>
<circle cx="269" cy="228" r="6.8" fill="#9a86cc" fill-opacity="0.45"/>
<circle cx="280" cy="221" r="4.3" fill="#9a86cc" fill-opacity="0.60"/>
<circle cx="209" cy="271" r="7.7" fill="#9a86cc" fill-opacity="0.60"/>
<circle cx="298" cy="251" r="6.7" fill="#9a86cc" fill-opacity="0.69"/>
<circle cx="277" cy="214" r="6.8" fill="#9a86cc" fill-opacity="0.39"/>
<circle cx="305" cy="220" r="5.9" fill="#9a86cc" fill-opacity="0.49"/>
<circle cx="268" cy="293" r="6.3" fill="#9a86cc" fill-opacity="0.41"/>
<circle cx="232" cy="289" r="6.5" fill="#9a86cc" fill-opacity="0.60"/>
<circle cx="252" cy="208" r="5.1" fill="#9a86cc" fill-opacity="0.57"/>
<circle cx="313" cy="276" r="5.4" fill="#9a86cc" fill-opacity="0.59"/>
<circle cx="283" cy="294" r="5.9" fill="#9a86cc" fill-opacity="0.69"/>
<circle cx="281" cy="213" r="5.9" fill="#9a86cc" fill-opacity="0.36"/>
<circle cx="305" cy="264" r="4.3" fill="#9a86cc" fill-opacity="0.59"/>
<circle cx="283" cy="265" r="4.4" fill="#9a86cc" fill-opacity="0.62"/>
<circle cx="269" cy="274" r="6.0" fill="#9a86cc" fill-opacity="0.47"/>
<circle cx="215" cy="225" r="5.6" fill="#9a86cc" fill-opacity="0.65"/>
<circle cx="206" cy="271" r="6.2" fill="#9a86cc" fill-opacity="0.50"/>
<circle cx="294" cy="265" r="5.9" fill="#9a86cc" fill-opacity="0.55"/>
<circle cx="242" cy="290" r="5.8" fill="#9a86cc" fill-opacity="0.60"/>
<circle cx="246" cy="222" r="5.6" fill="#9a86cc" fill-opacity="0.45"/>
<circle cx="228" cy="267" r="4.5" fill="#9a86cc" fill-opacity="0.51"/>
<circle cx="254" cy="262" r="4.7" fill="#9a86cc" fill-opacity="0.42"/>
<circle cx="262" cy="240" r="4.7" fill="#9a86cc" fill-opacity="0.47"/>
<circle cx="236" cy="264" r="7.6" fill="#9a86cc" fill-opacity="0.53"/>
<circle cx="217" cy="275" r="5.1" fill="#9a86cc" fill-opacity="0.52"/>
<circle cx="279" cy="196" r="5.8" fill="#9a86cc" fill-opacity="0.37"/>
<circle cx="239" cy="227" r="7.2" fill="#9a86cc" fill-opacity="0.53"/>
<circle cx="286" cy="251" r="8.0" fill="#9a86cc" fill-opacity="0.57"/>
<circle cx="290" cy="225" r="5.0" fill="#9a86cc" fill-opacity="0.69"/>
<circle cx="236" cy="275" r="4.4" fill="#9a86cc" fill-opacity="0.41"/>
<circle cx="248" cy="273" r="4.6" fill="#9a86cc" fill-opacity="0.40"/>
<circle cx="254" cy="291" r="4.5" fill="#9a86cc" fill-opacity="0.67"/>
<circle cx="248" cy="254" r="4.6" fill="#9a86cc" fill-opacity="0.52"/>
<circle cx="270" cy="256" r="4.6" fill="#9a86cc" fill-opacity="0.46"/>
<circle cx="214" cy="260" r="4.4" fill="#9a86cc" fill-opacity="0.48"/>
<circle cx="290" cy="224" r="5.1" fill="#9a86cc" fill-opacity="0.60"/>
<circle cx="219" cy="217" r="8.0" fill="#9a86cc" fill-opacity="0.42"/>
<circle cx="218" cy="240" r="5.9" fill="#9a86cc" fill-opacity="0.57"/>
<circle cx="278" cy="249" r="5.9" fill="#3a2488" fill-opacity="0.55"/>
<circle cx="240" cy="218" r="7.2" fill="#3a2488" fill-opacity="0.55"/>
<circle cx="211" cy="249" r="6.5" fill="#3a2488" fill-opacity="0.55"/>
<circle cx="249" cy="214" r="7.7" fill="#3a2488" fill-opacity="0.55"/>
<circle cx="280" cy="207" r="6.2" fill="#3a2488" fill-opacity="0.55"/>
<circle cx="265" cy="277" r="4.8" fill="#3a2488" fill-opacity="0.55"/>
<circle cx="279" cy="302" r="8.0" fill="#3a2488" fill-opacity="0.55"/>
<circle cx="278" cy="231" r="5.1" fill="#3a2488" fill-opacity="0.55"/>
<circle cx="248" cy="241" r="4.5" fill="#3a2488" fill-opacity="0.55"/>
<circle cx="309" cy="269" r="7.1" fill="#3a2488" fill-opacity="0.55"/>
<circle cx="224" cy="236" r="6.6" fill="#3a2488" fill-opacity="0.55"/>
<circle cx="224" cy="266" r="7.5" fill="#3a2488" fill-opacity="0.55"/>
<circle cx="239" cy="273" r="4.9" fill="#3a2488" fill-opacity="0.55"/>
<circle cx="277" cy="244" r="7.7" fill="#3a2488" fill-opacity="0.55"/>
<circle cx="240" cy="236" r="7.3" fill="#3a2488" fill-opacity="0.55"/>
<circle cx="254" cy="260" r="6.6" fill="#3a2488" fill-opacity="0.55"/>
<circle cx="292" cy="288" r="4.1" fill="#3a2488" fill-opacity="0.55"/>
<circle cx="301" cy="258" r="7.1" fill="#3a2488" fill-opacity="0.55"/>
<circle cx="227" cy="220" r="5.5" fill="#3a2488" fill-opacity="0.55"/>
<circle cx="294" cy="274" r="4.5" fill="#3a2488" fill-opacity="0.55"/>
<circle cx="237" cy="299" r="5.3" fill="#3a2488" fill-opacity="0.55"/>
<circle cx="293" cy="215" r="7.8" fill="#3a2488" fill-opacity="0.55"/>
<circle cx="270" cy="212" r="5.3" fill="#3a2488" fill-opacity="0.55"/>
<circle cx="313" cy="243" r="5.9" fill="#3a2488" fill-opacity="0.55"/>
<circle cx="281" cy="234" r="7.6" fill="#3a2488" fill-opacity="0.55"/>
<circle cx="245" cy="203" r="6.8" fill="#3a2488" fill-opacity="0.55"/>
<circle cx="242" cy="196" r="5.5" fill="#3a2488" fill-opacity="0.55"/>
<circle cx="265" cy="271" r="5.3" fill="#3a2488" fill-opacity="0.55"/>
<circle cx="235" cy="239" r="6.2" fill="#3a2488" fill-opacity="0.55"/>
<circle cx="319" cy="239" r="6.1" fill="#3a2488" fill-opacity="0.55"/>
</g>
<text x="268" y="81" font-size="55" font-weight="bold" text-anchor="middle" fill="#111" filter="url(#blur2)">d21</text>
</g></svg>
<svg x="20" y="234" width="60" height="60" viewBox="0 0 520 520">
<defs><clipPath id="cb21"><rect x="10" y="18" width="490" height="494"/></clipPath></defs>
<g clip-path="url(#cb21)">
<rect x="5" y="13" width="500" height="504" fill="#f9e9d6"/>
<g filter="url(#blur)">
<ellipse cx="120" cy="85" rx="55" ry="58" fill="#fdf1cd" fill-opacity="0.8"/>
<ellipse cx="190" cy="30" rx="60" ry="26" fill="#fdf1cd" fill-opacity="0.8"/>
<ellipse cx="475" cy="70" rx="39" ry="60" fill="#fdf1cd" fill-opacity="0.8"/>
<ellipse cx="400" cy="175" rx="60" ry="66" fill="#fdf1cd" fill-opacity="0.8"/>
<ellipse cx="470" cy="175" rx="39" ry="55" fill="#fdf1cd" fill-opacity="0.8"/>
<ellipse cx="25" cy="255" rx="28" ry="50" fill="#fdf1cd" fill-opacity="0.8"/>
<ellipse cx="415" cy="275" rx="55" ry="66" fill="#fdf1cd" fill-opacity="0.8"/>
<ellipse cx="45" cy="335" rx="44" ry="50" fill="#fdf1cd" fill-opacity="0.8"/>
<ellipse cx="110" cy="390" rx="77" ry="71" fill="#fdf1cd" fill-opacity="0.8"/>
<ellipse cx="415" cy="370" rx="58" ry="60" fill="#fdf1cd" fill-opacity="0.8"/>
<ellipse cx="480" cy="340" rx="34" ry="60" fill="#fdf1cd" fill-opacity="0.8"/>
<ellipse cx="185" cy="455" rx="50" ry="50" fill="#fdf1cd" fill-opacity="0.8"/>
<ellipse cx="315" cy="480" rx="55" ry="50" fill="#fdf1cd" fill-opacity="0.8"/>
<ellipse cx="60" cy="440" rx="39" ry="50" fill="#fdf1cd" fill-opacity="0.8"/>
<ellipse cx="120" cy="85" rx="48" ry="51" fill="url(#ring2)"/>
<ellipse cx="190" cy="30" rx="54" ry="19" fill="url(#ring2)"/>
<ellipse cx="475" cy="70" rx="32" ry="54" fill="url(#ring2)"/>
<ellipse cx="400" cy="175" rx="54" ry="59" fill="url(#ring2)"/>
<ellipse cx="470" cy="175" rx="32" ry="48" fill="url(#ring2)"/>
<ellipse cx="25" cy="255" rx="21" ry="43" fill="url(#ring2)"/>
<ellipse cx="415" cy="275" rx="48" ry="59" fill="url(#ring2)"/>
<ellipse cx="45" cy="335" rx="37" ry="43" fill="url(#ring2)"/>
<ellipse cx="110" cy="390" rx="70" ry="64" fill="url(#ring2)"/>
<ellipse cx="415" cy="370" rx="51" ry="54" fill="url(#ring2)"/>
<ellipse cx="480" cy="340" rx="27" ry="54" fill="url(#ring2)"/>
<ellipse cx="185" cy="455" rx="43" ry="43" fill="url(#ring2)"/>
<ellipse cx="315" cy="480" rx="48" ry="43" fill="url(#ring2)"/>
<ellipse cx="60" cy="440" rx="32" ry="43" fill="url(#ring2)"/>
<path d="M190.0,185.0 C210.0,175.4 264.4,173.6 290.0,180.0 C315.6,186.4 338.8,207.4 350.0,225.0 C361.2,242.6 366.4,270.8 360.0,290.0 C353.6,309.2 324.4,333.8 310.0,345.0 C295.6,356.2 295.6,361.6 270.0,360.0 C244.4,358.4 171.6,345.4 150.0,335.0 C128.4,324.6 132.6,310.2 135.0,295.0 C137.4,279.8 156.2,257.6 165.0,240.0 C173.8,222.4 170.0,194.6 190.0,185.0Z" fill="#503ca2" stroke="#3c2c98" stroke-width="6" stroke-linejoin="round"/>
<circle cx="289" cy="271" r="6.6" fill="#9a86cc" fill-opacity="0.55"/>
<circle cx="193" cy="217" r="4.8" fill="#9a86cc" fill-opacity="0.62"/>
<circle cx="280" cy="312" r="4.7" fill="#9a86cc" fill-opacity="0.64"/>
<circle cx="168" cy="309" r="6.9" fill="#9a86cc" fill-opacity="0.63"/>
<circle cx="299" cy="297" r="7.5" fill="#9a86cc" fill-opacity="0.49"/>
<circle cx="292" cy="337" r="7.1" fill="#9a86cc" fill-opacity="0.59"/>
<circle cx="235" cy="322" r="7.2" fill="#9a86cc" fill-opacity="0.49"/>
<circle cx="199" cy="195" r="6.0" fill="#9a86cc" fill-opacity="0.62"/>
<circle cx="191" cy="316" r="7.4" fill="#9a86cc" fill-opacity="0.53"/>
<circle cx="294" cy="255" r="7.8" fill="#9a86cc" fill-opacity="0.63"/>
<circle cx="233" cy="266" r="6.7" fill="#9a86cc" fill-opacity="0.57"/>
<circle cx="277" cy="262" r="7.2" fill="#9a86cc" fill-opacity="0.51"/>
<circle cx="300" cy="336" r="7.7" fill="#9a86cc" fill-opacity="0.50"/>
<circle cx="253" cy="263" r="4.9" fill="#9a86cc" fill-opacity="0.55"/>
<circle cx="240" cy="245" r="6.2" fill="#9a86cc" fill-opacity="0.62"/>
<circle cx="213" cy="263" r="5.6" fill="#9a86cc" fill-opacity="0.47"/>
<circle cx="191" cy="246" r="8.0" fill="#9a86cc" fill-opacity="0.66"/>
<circle cx="184" cy="282" r="7.1" fill="#9a86cc" fill-opacity="0.58"/>
<circle cx="289" cy="297" r="6.4" fill="#9a86cc" fill-opacity="0.55"/>
<circle cx="210" cy="258" r="5.4" fill="#9a86cc" fill-opacity="0.46"/>
<circle cx="178" cy="249" r="6.6" fill="#9a86cc" fill-opacity="0.54"/>
<circle cx="184" cy="311" r="6.5" fill="#9a86cc" fill-opacity="0.53"/>
<circle cx="216" cy="262" r="6.3" fill="#9a86cc" fill-opacity="0.45"/>
<circle cx="270" cy="256" r="4.9" fill="#9a86cc" fill-opacity="0.48"/>
<circle cx="198" cy="209" r="4.9" fill="#9a86cc" fill-opacity="0.64"/>
<circle cx="307" cy="219" r="5.5" fill="#9a86cc" fill-opacity="0.39"/>
<circle cx="181" cy="253" r="7.3" fill="#9a86cc" fill-opacity="0.41"/>
<circle cx="280" cy="291" r="5.0" fill="#9a86cc" fill-opacity="0.60"/>
<circle cx="262" cy="274" r="6.4" fill="#9a86cc" fill-opacity="0.65"/>
<circle cx="246" cy="299" r="4.5" fill="#9a86cc" fill-opacity="0.69"/>
<circle cx="266" cy="215" r="7.1" fill="#9a86cc" fill-opacity="0.47"/>
<circle cx="242" cy="213" r="7.0" fill="#9a86cc" fill-opacity="0.37"/>
<circle cx="179" cy="322" r="5.1" fill="#9a86cc" fill-opacity="0.60"/>
<circle cx="227" cy="335" r="4.0" fill="#9a86cc" fill-opacity="0.42"/>
<circle cx="282" cy="321" r="7.7" fill="#9a86cc" fill-opacity="0.49"/>
<circle cx="204" cy="232" r="6.8" fill="#9a86cc" fill-opacity="0.38"/>
<circle cx="297" cy="297" r="4.7" fill="#9a86cc" fill-opacity="0.66"/>
<circle cx="330" cy="267" r="4.7" fill="#9a86cc" fill-opacity="0.59"/>
<circle cx="168" cy="268" r="7.4" fill="#9a86cc" fill-opacity="0.47"/>
<circle cx="257" cy="331" r="7.7" fill="#9a86cc" fill-opacity="0.46"/>
<circle cx="193" cy="280" r="6.1" fill="#9a86cc" fill-opacity="0.54"/>
<circle cx="293" cy="243" r="7.5" fill="#9a86cc" fill-opacity="0.37"/>
<circle cx="264" cy="208" r="7.7" fill="#9a86cc" fill-opacity="0.53"/>
<circle cx="289" cy="287" r="7.4" fill="#9a86cc" fill-opacity="0.67"/>
<circle cx="249" cy="236" r="4.4" fill="#3a2488" fill-opacity="0.55"/>
<circle cx="272" cy="318" r="5.0" fill="#3a2488" fill-opacity="0.55"/>
<circle cx="321" cy="257" r="7.2" fill="#3a2488" fill-opacity="0.55"/>
<circle cx="253" cy="280" r="5.3" fill="#3a2488" fill-opacity="0.55"/>
<circle cx="253" cy="293" r="5.6" fill="#3a2488" fill-opacity="0.55"/>
<circle cx="323" cy="233" r="6.9" fill="#3a2488" fill-opacity="0.55"/>
<circle cx="292" cy="302" r="7.8" fill="#3a2488" fill-opacity="0.55"/>
<circle cx="303" cy="321" r="5.7" fill="#3a2488" fill-opacity="0.55"/>
<circle cx="242" cy="196" r="6.9" fill="#3a2488" fill-opacity="0.55"/>
<circle cx="249" cy="255" r="5.5" fill="#3a2488" fill-opacity="0.55"/>
<circle cx="312" cy="251" r="5.9" fill="#3a2488" fill-opacity="0.55"/>
<circle cx="271" cy="193" r="6.2" fill="#3a2488" fill-opacity="0.55"/>
<circle cx="204" cy="272" r="7.0" fill="#3a2488" fill-opacity="0.55"/>
<circle cx="225" cy="310" r="5.3" fill="#3a2488" fill-opacity="0.55"/>
<circle cx="313" cy="259" r="8.0" fill="#3a2488" fill-opacity="0.55"/>
<circle cx="171" cy="313" r="6.4" fill="#3a2488" fill-opacity="0.55"/>
<circle cx="279" cy="336" r="5.4" fill="#3a2488" fill-opacity="0.55"/>
<circle cx="251" cy="288" r="6.9" fill="#3a2488" fill-opacity="0.55"/>
<circle cx="282" cy="320" r="7.2" fill="#3a2488" fill-opacity="0.55"/>
<circle cx="225" cy="216" r="7.3" fill="#3a2488" fill-opacity="0.55"/>
<circle cx="169" cy="254" r="6.8" fill="#3a2488" fill-opacity="0.55"/>
<circle cx="249" cy="335" r="5.7" fill="#3a2488" fill-opacity="0.55"/>
<circle cx="236" cy="302" r="4.4" fill="#3a2488" fill-opacity="0.55"/>
<circle cx="260" cy="275" r="6.3" fill="#3a2488" fill-opacity="0.55"/>
<circle cx="296" cy="209" r="6.7" fill="#3a2488" fill-opacity="0.55"/>
<circle cx="186" cy="233" r="4.9" fill="#3a2488" fill-opacity="0.55"/>
<circle cx="242" cy="251" r="6.2" fill="#3a2488" fill-opacity="0.55"/>
<circle cx="194" cy="334" r="6.0" fill="#3a2488" fill-opacity="0.55"/>
<circle cx="303" cy="260" r="4.0" fill="#3a2488" fill-opacity="0.55"/>
<circle cx="165" cy="328" r="6.0" fill="#3a2488" fill-opacity="0.55"/>
</g>
<text x="245" y="87" font-size="47" font-weight="bold" text-anchor="middle" fill="#111" filter="url(#blur2)">d0</text>
</g></svg>
<svg x="80" y="234" width="60" height="60" viewBox="0 0 520 520">
<defs><clipPath id="cb22"><rect x="8" y="18" width="492" height="494"/></clipPath></defs>
<g clip-path="url(#cb22)">
<rect x="3" y="13" width="502" height="504" fill="#f9e9d6"/>
<g filter="url(#blur)">
<ellipse cx="125" cy="80" rx="55" ry="55" fill="#fdf1cd" fill-opacity="0.8"/>
<ellipse cx="225" cy="45" rx="66" ry="39" fill="#fdf1cd" fill-opacity="0.8"/>
<ellipse cx="340" cy="35" rx="71" ry="28" fill="#fdf1cd" fill-opacity="0.8"/>
<ellipse cx="460" cy="110" rx="52" ry="66" fill="#fdf1cd" fill-opacity="0.8"/>
<ellipse cx="485" cy="40" rx="28" ry="34" fill="#fdf1cd" fill-opacity="0.8"/>
<ellipse cx="170" cy="165" rx="52" ry="55" fill="#fdf1cd" fill-opacity="0.8"/>
<ellipse cx="295" cy="160" rx="58" ry="50" fill="#fdf1cd" fill-opacity="0.8"/>
<ellipse cx="60" cy="210" rx="52" ry="55" fill="#fdf1cd" fill-opacity="0.8"/>
<ellipse cx="395" cy="220" rx="52" ry="52" fill="#fdf1cd" fill-opacity="0.8"/>
<ellipse cx="480" cy="235" rx="37" ry="50" fill="#fdf1cd" fill-opacity="0.8"/>
<ellipse cx="105" cy="315" rx="58" ry="60" fill="#fdf1cd" fill-opacity="0.8"/>
<ellipse cx="200" cy="385" rx="52" ry="52" fill="#fdf1cd" fill-opacity="0.8"/>
<ellipse cx="20" cy="375" rx="28" ry="50" fill="#fdf1cd" fill-opacity="0.8"/>
<ellipse cx="225" cy="480" rx="52" ry="41" fill="#fdf1cd" fill-opacity="0.8"/>
<ellipse cx="400" cy="490" rx="50" ry="37" fill="#fdf1cd" fill-opacity="0.8"/>
<ellipse cx="35" cy="490" rx="37" ry="37" fill="#fdf1cd" fill-opacity="0.8"/>
<ellipse cx="490" cy="475" rx="26" ry="44" fill="#fdf1cd" fill-opacity="0.8"/>
<ellipse cx="125" cy="80" rx="48" ry="48" fill="url(#ring2)"/>
<ellipse cx="225" cy="45" rx="59" ry="32" fill="url(#ring2)"/>
<ellipse cx="340" cy="35" rx="64" ry="21" fill="url(#ring2)"/>
<ellipse cx="460" cy="110" rx="45" ry="59" fill="url(#ring2)"/>
<ellipse cx="485" cy="40" rx="21" ry="27" fill="url(#ring2)"/>
<ellipse cx="170" cy="165" rx="45" ry="48" fill="url(#ring2)"/>
<ellipse cx="295" cy="160" rx="51" ry="43" fill="url(#ring2)"/>
<ellipse cx="60" cy="210" rx="45" ry="48" fill="url(#ring2)"/>
<ellipse cx="395" cy="220" rx="45" ry="45" fill="url(#ring2)"/>
<ellipse cx="480" cy="235" rx="30" ry="43" fill="url(#ring2)"/>
<ellipse cx="105" cy="315" rx="51" ry="54" fill="url(#ring2)"/>
<ellipse cx="200" cy="385" rx="45" ry="45" fill="url(#ring2)"/>
<ellipse cx="20" cy="375" rx="21" ry="43" fill="url(#ring2)"/>
<ellipse cx="225" cy="480" rx="45" ry="34" fill="url(#ring2)"/>
<ellipse cx="400" cy="490" rx="43" ry="30" fill="url(#ring2)"/>
<ellipse cx="35" cy="490" rx="30" ry="30" fill="url(#ring2)"/>
<ellipse cx="490" cy="475" rx="19" ry="37" fill="url(#ring2)"/>
<path d="M235.0,180.0 C252.6,175.2 269.0,201.8 285.0,205.0 C301.0,208.2 324.6,193.6 335.0,200.0 C345.4,206.4 354.0,229.8 350.0,245.0 C346.0,260.2 327.6,278.2 310.0,295.0 C292.4,311.8 260.0,347.6 240.0,350.0 C220.0,352.4 195.4,328.4 185.0,310.0 C174.6,291.6 167.0,255.8 175.0,235.0 C183.0,214.2 217.4,184.8 235.0,180.0Z" fill="#4e3aa4" stroke="#3a2a98" stroke-width="6" stroke-linejoin="round"/>
<circle cx="236" cy="298" r="4.2" fill="#9a86cc" fill-opacity="0.66"/>
<circle cx="272" cy="316" r="7.7" fill="#9a86cc" fill-opacity="0.65"/>
<circle cx="291" cy="272" r="6.8" fill="#9a86cc" fill-opacity="0.40"/>
<circle cx="259" cy="206" r="6.5" fill="#9a86cc" fill-opacity="0.55"/>
<circle cx="298" cy="293" r="7.2" fill="#9a86cc" fill-opacity="0.51"/>
<circle cx="300" cy="248" r="7.1" fill="#9a86cc" fill-opacity="0.46"/>
<circle cx="277" cy="242" r="4.1" fill="#9a86cc" fill-opacity="0.40"/>
<circle cx="233" cy="276" r="8.0" fill="#9a86cc" fill-opacity="0.46"/>
<circle cx="302" cy="213" r="4.5" fill="#9a86cc" fill-opacity="0.41"/>
<circle cx="198" cy="265" r="7.8" fill="#9a86cc" fill-opacity="0.63"/>
<circle cx="268" cy="277" r="5.7" fill="#9a86cc" fill-opacity="0.37"/>
<circle cx="323" cy="248" r="7.2" fill="#9a86cc" fill-opacity="0.35"/>
<circle cx="249" cy="223" r="7.0" fill="#9a86cc" fill-opacity="0.50"/>
<circle cx="276" cy="290" r="5.4" fill="#9a86cc" fill-opacity="0.36"/>
<circle cx="313" cy="232" r="6.6" fill="#9a86cc" fill-opacity="0.66"/>
<circle cx="299" cy="217" r="5.8" fill="#9a86cc" fill-opacity="0.66"/>
<circle cx="208" cy="266" r="4.7" fill="#9a86cc" fill-opacity="0.46"/>
<circle cx="328" cy="259" r="5.7" fill="#9a86cc" fill-opacity="0.42"/>
<circle cx="218" cy="311" r="8.0" fill="#9a86cc" fill-opacity="0.53"/>
<circle cx="254" cy="209" r="4.0" fill="#9a86cc" fill-opacity="0.57"/>
<circle cx="221" cy="287" r="4.6" fill="#9a86cc" fill-opacity="0.47"/>
<circle cx="250" cy="296" r="7.3" fill="#9a86cc" fill-opacity="0.47"/>
<circle cx="237" cy="236" r="5.1" fill="#9a86cc" fill-opacity="0.65"/>
<circle cx="242" cy="227" r="5.1" fill="#9a86cc" fill-opacity="0.68"/>
<circle cx="328" cy="246" r="4.1" fill="#9a86cc" fill-opacity="0.37"/>
<circle cx="240" cy="228" r="8.0" fill="#9a86cc" fill-opacity="0.57"/>
<circle cx="272" cy="210" r="6.2" fill="#9a86cc" fill-opacity="0.63"/>
<circle cx="214" cy="277" r="5.2" fill="#9a86cc" fill-opacity="0.65"/>
<circle cx="241" cy="267" r="5.1" fill="#9a86cc" fill-opacity="0.65"/>
<circle cx="321" cy="263" r="6.0" fill="#9a86cc" fill-opacity="0.66"/>
<circle cx="287" cy="287" r="7.8" fill="#9a86cc" fill-opacity="0.63"/>
<circle cx="237" cy="237" r="4.6" fill="#9a86cc" fill-opacity="0.51"/>
<circle cx="294" cy="218" r="7.6" fill="#9a86cc" fill-opacity="0.51"/>
<circle cx="240" cy="255" r="4.8" fill="#9a86cc" fill-opacity="0.51"/>
<circle cx="242" cy="304" r="4.5" fill="#9a86cc" fill-opacity="0.38"/>
<circle cx="252" cy="195" r="6.4" fill="#9a86cc" fill-opacity="0.35"/>
<circle cx="296" cy="261" r="5.6" fill="#9a86cc" fill-opacity="0.46"/>
<circle cx="272" cy="276" r="7.2" fill="#9a86cc" fill-opacity="0.48"/>
<circle cx="265" cy="302" r="5.8" fill="#9a86cc" fill-opacity="0.57"/>
<circle cx="201" cy="257" r="4.7" fill="#9a86cc" fill-opacity="0.52"/>
<circle cx="256" cy="205" r="4.8" fill="#9a86cc" fill-opacity="0.49"/>
<circle cx="265" cy="239" r="7.2" fill="#9a86cc" fill-opacity="0.68"/>
<circle cx="238" cy="215" r="7.8" fill="#9a86cc" fill-opacity="0.63"/>
<circle cx="237" cy="313" r="4.2" fill="#9a86cc" fill-opacity="0.50"/>
<circle cx="204" cy="297" r="7.9" fill="#3a2488" fill-opacity="0.55"/>
<circle cx="261" cy="229" r="5.9" fill="#3a2488" fill-opacity="0.55"/>
<circle cx="300" cy="281" r="5.0" fill="#3a2488" fill-opacity="0.55"/>
<circle cx="282" cy="294" r="4.1" fill="#3a2488" fill-opacity="0.55"/>
<circle cx="244" cy="231" r="6.6" fill="#3a2488" fill-opacity="0.55"/>
<circle cx="272" cy="215" r="6.2" fill="#3a2488" fill-opacity="0.55"/>
<circle cx="255" cy="239" r="5.6" fill="#3a2488" fill-opacity="0.55"/>
<circle cx="275" cy="216" r="5.9" fill="#3a2488" fill-opacity="0.55"/>
<circle cx="308" cy="235" r="7.5" fill="#3a2488" fill-opacity="0.55"/>
<circle cx="231" cy="312" r="4.3" fill="#3a2488" fill-opacity="0.55"/>
<circle cx="283" cy="224" r="5.9" fill="#3a2488" fill-opacity="0.55"/>
<circle cx="252" cy="263" r="5.0" fill="#3a2488" fill-opacity="0.55"/>
<circle cx="219" cy="275" r="7.4" fill="#3a2488" fill-opacity="0.55"/>
<circle cx="228" cy="284" r="5.9" fill="#3a2488" fill-opacity="0.55"/>
<circle cx="325" cy="223" r="5.1" fill="#3a2488" fill-opacity="0.55"/>
<circle cx="241" cy="326" r="7.6" fill="#3a2488" fill-opacity="0.55"/>
<circle cx="284" cy="260" r="4.1" fill="#3a2488" fill-opacity="0.55"/>
<circle cx="303" cy="214" r="4.1" fill="#3a2488" fill-opacity="0.55"/>
<circle cx="219" cy="295" r="5.8" fill="#3a2488" fill-opacity="0.55"/>
<circle cx="317" cy="209" r="4.1" fill="#3a2488" fill-opacity="0.55"/>
<circle cx="268" cy="303" r="7.7" fill="#3a2488" fill-opacity="0.55"/>
<circle cx="193" cy="279" r="6.4" fill="#3a2488" fill-opacity="0.55"/>
<circle cx="300" cy="220" r="5.0" fill="#3a2488" fill-opacity="0.55"/>
<circle cx="337" cy="246" r="7.8" fill="#3a2488" fill-opacity="0.55"/>
<circle cx="282" cy="232" r="7.4" fill="#3a2488" fill-opacity="0.55"/>
<circle cx="274" cy="217" r="5.1" fill="#3a2488" fill-opacity="0.55"/>
<circle cx="239" cy="192" r="4.1" fill="#3a2488" fill-opacity="0.55"/>
<circle cx="191" cy="282" r="4.9" fill="#3a2488" fill-opacity="0.55"/>
<circle cx="224" cy="204" r="6.6" fill="#3a2488" fill-opacity="0.55"/>
<circle cx="214" cy="258" r="5.3" fill="#3a2488" fill-opacity="0.55"/>
</g>
<text x="258" y="87" font-size="47" font-weight="bold" text-anchor="middle" fill="#111" filter="url(#blur2)">d8</text>
</g></svg>
<svg x="140" y="234" width="60" height="60" viewBox="0 0 520 520">
<defs><clipPath id="cb23"><rect x="8" y="18" width="487" height="494"/></clipPath></defs>
<g clip-path="url(#cb23)">
<rect x="3" y="13" width="497" height="504" fill="#f9e9d6"/>
<g filter="url(#blur)">
<ellipse cx="145" cy="70" rx="55" ry="52" fill="#fdf1cd" fill-opacity="0.8"/>
<ellipse cx="280" cy="135" rx="52" ry="52" fill="#fdf1cd" fill-opacity="0.8"/>
<ellipse cx="380" cy="160" rx="52" ry="55" fill="#fdf1cd" fill-opacity="0.8"/>
<ellipse cx="450" cy="95" rx="44" ry="60" fill="#fdf1cd" fill-opacity="0.8"/>
<ellipse cx="50" cy="185" rx="55" ry="58" fill="#fdf1cd" fill-opacity="0.8"/>
<ellipse cx="150" cy="265" rx="52" ry="52" fill="#fdf1cd" fill-opacity="0.8"/>
<ellipse cx="105" cy="325" rx="58" ry="55" fill="#fdf1cd" fill-opacity="0.8"/>
<ellipse cx="285" cy="395" rx="58" ry="58" fill="#fdf1cd" fill-opacity="0.8"/>
<ellipse cx="40" cy="410" rx="44" ry="60" fill="#fdf1cd" fill-opacity="0.8"/>
<ellipse cx="140" cy="435" rx="52" ry="52" fill="#fdf1cd" fill-opacity="0.8"/>
<ellipse cx="385" cy="445" rx="55" ry="58" fill="#fdf1cd" fill-opacity="0.8"/>
<ellipse cx="475" cy="440" rx="34" ry="60" fill="#fdf1cd" fill-opacity="0.8"/>
<ellipse cx="355" cy="20" rx="34" ry="16" fill="#fdf1cd" fill-opacity="0.8"/>
<ellipse cx="30" cy="500" rx="39" ry="26" fill="#fdf1cd" fill-opacity="0.8"/>
<ellipse cx="145" cy="70" rx="48" ry="45" fill="url(#solid2)"/>
<ellipse cx="280" cy="135" rx="45" ry="45" fill="url(#solid2)"/>
<ellipse cx="380" cy="160" rx="45" ry="48" fill="url(#solid2)"/>
<ellipse cx="450" cy="95" rx="37" ry="54" fill="url(#solid2)"/>
<ellipse cx="50" cy="185" rx="48" ry="51" fill="url(#solid2)"/>
<ellipse cx="150" cy="265" rx="45" ry="45" fill="url(#solid2)"/>
<ellipse cx="105" cy="325" rx="51" ry="48" fill="url(#solid2)"/>
<ellipse cx="285" cy="395" rx="51" ry="51" fill="url(#solid2)"/>
<ellipse cx="40" cy="410" rx="37" ry="54" fill="url(#solid2)"/>
<ellipse cx="140" cy="435" rx="45" ry="45" fill="url(#solid2)"/>
<ellipse cx="385" cy="445" rx="48" ry="51" fill="url(#solid2)"/>
<ellipse cx="475" cy="440" rx="27" ry="54" fill="url(#solid2)"/>
<ellipse cx="355" cy="20" rx="27" ry="9" fill="url(#solid2)"/>
<ellipse cx="30" cy="500" rx="32" ry="19" fill="url(#solid2)"/>
<ellipse cx="252" cy="258" rx="56" ry="68" fill="#3e2e9c" transform="rotate(8 252 258)"/>
<circle cx="245" cy="263" r="5.8" fill="#9a86cc" fill-opacity="0.61"/>
<circle cx="296" cy="234" r="5.2" fill="#9a86cc" fill-opacity="0.43"/>
<circle cx="247" cy="199" r="5.6" fill="#9a86cc" fill-opacity="0.46"/>
<circle cx="282" cy="300" r="5.1" fill="#9a86cc" fill-opacity="0.39"/>
<circle cx="257" cy="230" r="4.2" fill="#9a86cc" fill-opacity="0.56"/>
<circle cx="264" cy="308" r="4.0" fill="#9a86cc" fill-opacity="0.36"/>
<circle cx="233" cy="249" r="5.5" fill="#9a86cc" fill-opacity="0.52"/>
<circle cx="205" cy="259" r="7.2" fill="#9a86cc" fill-opacity="0.39"/>
<circle cx="232" cy="272" r="5.6" fill="#9a86cc" fill-opacity="0.49"/>
<circle cx="296" cy="240" r="6.9" fill="#9a86cc" fill-opacity="0.40"/>
<circle cx="213" cy="247" r="5.3" fill="#9a86cc" fill-opacity="0.63"/>
<circle cx="274" cy="304" r="7.1" fill="#9a86cc" fill-opacity="0.42"/>
<circle cx="265" cy="242" r="6.4" fill="#9a86cc" fill-opacity="0.54"/>
<circle cx="221" cy="212" r="5.2" fill="#9a86cc" fill-opacity="0.53"/>
<circle cx="273" cy="234" r="6.9" fill="#9a86cc" fill-opacity="0.45"/>
<circle cx="293" cy="247" r="4.1" fill="#9a86cc" fill-opacity="0.56"/>
<circle cx="289" cy="245" r="7.0" fill="#9a86cc" fill-opacity="0.56"/>
<circle cx="224" cy="250" r="6.9" fill="#9a86cc" fill-opacity="0.55"/>
<circle cx="274" cy="265" r="5.4" fill="#9a86cc" fill-opacity="0.48"/>
<circle cx="283" cy="241" r="6.9" fill="#9a86cc" fill-opacity="0.63"/>
<circle cx="254" cy="304" r="7.5" fill="#9a86cc" fill-opacity="0.43"/>
<circle cx="259" cy="274" r="4.1" fill="#9a86cc" fill-opacity="0.39"/>
<circle cx="219" cy="219" r="7.0" fill="#9a86cc" fill-opacity="0.44"/>
<circle cx="239" cy="255" r="5.5" fill="#9a86cc" fill-opacity="0.58"/>
<circle cx="227" cy="232" r="5.9" fill="#9a86cc" fill-opacity="0.55"/>
<circle cx="257" cy="247" r="5.2" fill="#9a86cc" fill-opacity="0.43"/>
<circle cx="257" cy="317" r="6.3" fill="#9a86cc" fill-opacity="0.38"/>
<circle cx="302" cy="268" r="7.9" fill="#9a86cc" fill-opacity="0.39"/>
<circle cx="263" cy="201" r="5.1" fill="#9a86cc" fill-opacity="0.66"/>
<circle cx="283" cy="281" r="5.7" fill="#9a86cc" fill-opacity="0.52"/>
<circle cx="241" cy="285" r="7.6" fill="#9a86cc" fill-opacity="0.54"/>
<circle cx="224" cy="235" r="7.9" fill="#9a86cc" fill-opacity="0.62"/>
<circle cx="298" cy="259" r="7.6" fill="#9a86cc" fill-opacity="0.60"/>
<circle cx="281" cy="243" r="6.0" fill="#9a86cc" fill-opacity="0.47"/>
<circle cx="227" cy="259" r="5.5" fill="#9a86cc" fill-opacity="0.65"/>
<circle cx="242" cy="292" r="7.1" fill="#9a86cc" fill-opacity="0.69"/>
<circle cx="219" cy="264" r="7.0" fill="#9a86cc" fill-opacity="0.70"/>
<circle cx="255" cy="278" r="6.5" fill="#9a86cc" fill-opacity="0.36"/>
<circle cx="272" cy="301" r="7.9" fill="#9a86cc" fill-opacity="0.57"/>
<circle cx="276" cy="291" r="4.6" fill="#9a86cc" fill-opacity="0.68"/>
<circle cx="255" cy="244" r="5.6" fill="#9a86cc" fill-opacity="0.47"/>
<circle cx="284" cy="235" r="6.2" fill="#9a86cc" fill-opacity="0.39"/>
<circle cx="233" cy="272" r="4.9" fill="#9a86cc" fill-opacity="0.55"/>
<circle cx="292" cy="265" r="7.7" fill="#9a86cc" fill-opacity="0.52"/>
<circle cx="238" cy="308" r="5.8" fill="#3a2488" fill-opacity="0.55"/>
<circle cx="216" cy="230" r="6.1" fill="#3a2488" fill-opacity="0.55"/>
<circle cx="221" cy="253" r="4.2" fill="#3a2488" fill-opacity="0.55"/>
<circle cx="282" cy="274" r="5.8" fill="#3a2488" fill-opacity="0.55"/>
<circle cx="224" cy="217" r="7.7" fill="#3a2488" fill-opacity="0.55"/>
<circle cx="231" cy="313" r="5.2" fill="#3a2488" fill-opacity="0.55"/>
<circle cx="284" cy="261" r="5.4" fill="#3a2488" fill-opacity="0.55"/>
<circle cx="259" cy="277" r="6.3" fill="#3a2488" fill-opacity="0.55"/>
<circle cx="210" cy="268" r="6.6" fill="#3a2488" fill-opacity="0.55"/>
<circle cx="273" cy="296" r="6.2" fill="#3a2488" fill-opacity="0.55"/>
<circle cx="270" cy="242" r="4.4" fill="#3a2488" fill-opacity="0.55"/>
<circle cx="295" cy="274" r="4.1" fill="#3a2488" fill-opacity="0.55"/>
<circle cx="239" cy="280" r="4.5" fill="#3a2488" fill-opacity="0.55"/>
<circle cx="279" cy="291" r="4.2" fill="#3a2488" fill-opacity="0.55"/>
<circle cx="237" cy="286" r="5.0" fill="#3a2488" fill-opacity="0.55"/>
<circle cx="237" cy="255" r="4.3" fill="#3a2488" fill-opacity="0.55"/>
<circle cx="250" cy="309" r="7.7" fill="#3a2488" fill-opacity="0.55"/>
<circle cx="225" cy="245" r="5.6" fill="#3a2488" fill-opacity="0.55"/>
<circle cx="235" cy="273" r="6.2" fill="#3a2488" fill-opacity="0.55"/>
<circle cx="263" cy="318" r="6.0" fill="#3a2488" fill-opacity="0.55"/>
<circle cx="230" cy="295" r="6.7" fill="#3a2488" fill-opacity="0.55"/>
<circle cx="216" cy="243" r="4.8" fill="#3a2488" fill-opacity="0.55"/>
<circle cx="247" cy="209" r="6.2" fill="#3a2488" fill-opacity="0.55"/>
<circle cx="225" cy="253" r="7.5" fill="#3a2488" fill-opacity="0.55"/>
<circle cx="245" cy="251" r="5.5" fill="#3a2488" fill-opacity="0.55"/>
<circle cx="276" cy="245" r="4.2" fill="#3a2488" fill-opacity="0.55"/>
<circle cx="229" cy="290" r="6.4" fill="#3a2488" fill-opacity="0.55"/>
<circle cx="270" cy="208" r="6.5" fill="#3a2488" fill-opacity="0.55"/>
<circle cx="233" cy="284" r="6.6" fill="#3a2488" fill-opacity="0.55"/>
<circle cx="226" cy="236" r="7.1" fill="#3a2488" fill-opacity="0.55"/>
</g>
<text x="240" y="89" font-size="47" font-weight="bold" text-anchor="middle" fill="#111" filter="url(#blur2)">d13</text>
</g></svg>
<svg x="200" y="234" width="60" height="60" viewBox="0 0 520 520">
<defs><clipPath id="cb24"><rect x="8" y="18" width="487" height="494"/></clipPath></defs>
<g clip-path="url(#cb24)">
<rect x="3" y="13" width="497" height="504" fill="#f9e9d6"/>
<g filter="url(#blur)">
<ellipse cx="100" cy="150" rx="71" ry="77" fill="#fdf1cd" fill-opacity="0.8"/>
<ellipse cx="225" cy="50" rx="71" ry="44" fill="#fdf1cd" fill-opacity="0.8"/>
<ellipse cx="460" cy="70" rx="50" ry="66" fill="#fdf1cd" fill-opacity="0.8"/>
<ellipse cx="80" cy="30" rx="50" ry="23" fill="#fdf1cd" fill-opacity="0.8"/>
<ellipse cx="30" cy="235" rx="44" ry="71" fill="#fdf1cd" fill-opacity="0.8"/>
<ellipse cx="190" cy="420" rx="71" ry="82" fill="#fdf1cd" fill-opacity="0.8"/>
<ellipse cx="330" cy="435" rx="69" ry="82" fill="#fdf1cd" fill-opacity="0.8"/>
<ellipse cx="465" cy="365" rx="60" ry="93" fill="#fdf1cd" fill-opacity="0.8"/>
<ellipse cx="35" cy="450" rx="44" ry="60" fill="#fdf1cd" fill-opacity="0.8"/>
<ellipse cx="470" cy="490" rx="39" ry="39" fill="#fdf1cd" fill-opacity="0.8"/>
<ellipse cx="360" cy="20" rx="34" ry="16" fill="#fdf1cd" fill-opacity="0.8"/>
<ellipse cx="100" cy="150" rx="64" ry="70" fill="url(#ring)"/>
<ellipse cx="225" cy="50" rx="64" ry="37" fill="url(#ring)"/>
<ellipse cx="460" cy="70" rx="43" ry="59" fill="url(#ring)"/>
<ellipse cx="80" cy="30" rx="43" ry="16" fill="url(#ring)"/>
<ellipse cx="30" cy="235" rx="37" ry="64" fill="url(#ring)"/>
<ellipse cx="190" cy="420" rx="64" ry="75" fill="url(#ring)"/>
<ellipse cx="330" cy="435" rx="62" ry="75" fill="url(#ring)"/>
<ellipse cx="465" cy="365" rx="54" ry="86" fill="url(#ring)"/>
<ellipse cx="35" cy="450" rx="37" ry="54" fill="url(#ring)"/>
<ellipse cx="470" cy="490" rx="32" ry="32" fill="url(#ring)"/>
<ellipse cx="360" cy="20" rx="27" ry="9" fill="url(#ring)"/>
<ellipse cx="245" cy="245" rx="64" ry="72" fill="#2f2592" transform="rotate(0 245 245)"/>
<circle cx="209" cy="248" r="7.1" fill="#9a86cc" fill-opacity="0.39"/>
<circle cx="284" cy="236" r="6.0" fill="#9a86cc" fill-opacity="0.50"/>
<circle cx="247" cy="292" r="5.3" fill="#9a86cc" fill-opacity="0.46"/>
<circle cx="239" cy="197" r="6.1" fill="#9a86cc" fill-opacity="0.38"/>
<circle cx="232" cy="242" r="7.2" fill="#9a86cc" fill-opacity="0.60"/>
<circle cx="293" cy="226" r="6.5" fill="#9a86cc" fill-opacity="0.50"/>
<circle cx="282" cy="252" r="4.2" fill="#9a86cc" fill-opacity="0.43"/>
<circle cx="288" cy="247" r="7.3" fill="#9a86cc" fill-opacity="0.41"/>
<circle cx="272" cy="207" r="7.7" fill="#9a86cc" fill-opacity="0.35"/>
<circle cx="244" cy="300" r="7.8" fill="#9a86cc" fill-opacity="0.68"/>
<circle cx="221" cy="191" r="4.3" fill="#9a86cc" fill-opacity="0.67"/>
<circle cx="244" cy="185" r="5.7" fill="#9a86cc" fill-opacity="0.44"/>
<circle cx="243" cy="224" r="7.8" fill="#9a86cc" fill-opacity="0.39"/>
<circle cx="200" cy="263" r="5.5" fill="#9a86cc" fill-opacity="0.47"/>
<circle cx="257" cy="186" r="7.7" fill="#9a86cc" fill-opacity="0.47"/>
<circle cx="221" cy="228" r="6.7" fill="#9a86cc" fill-opacity="0.39"/>
<circle cx="251" cy="220" r="4.8" fill="#9a86cc" fill-opacity="0.41"/>
<circle cx="197" cy="214" r="6.6" fill="#9a86cc" fill-opacity="0.65"/>
<circle cx="208" cy="275" r="6.1" fill="#9a86cc" fill-opacity="0.43"/>
<circle cx="258" cy="296" r="6.1" fill="#9a86cc" fill-opacity="0.50"/>
<circle cx="227" cy="298" r="4.3" fill="#9a86cc" fill-opacity="0.37"/>
<circle cx="267" cy="226" r="5.4" fill="#9a86cc" fill-opacity="0.41"/>
<circle cx="230" cy="188" r="7.2" fill="#9a86cc" fill-opacity="0.46"/>
<circle cx="278" cy="193" r="6.2" fill="#9a86cc" fill-opacity="0.39"/>
<circle cx="228" cy="300" r="4.5" fill="#9a86cc" fill-opacity="0.40"/>
<circle cx="255" cy="211" r="7.1" fill="#9a86cc" fill-opacity="0.69"/>
<circle cx="235" cy="198" r="6.4" fill="#9a86cc" fill-opacity="0.66"/>
<circle cx="235" cy="245" r="6.7" fill="#9a86cc" fill-opacity="0.57"/>
<circle cx="217" cy="289" r="7.8" fill="#9a86cc" fill-opacity="0.47"/>
<circle cx="295" cy="215" r="6.2" fill="#9a86cc" fill-opacity="0.39"/>
<circle cx="218" cy="262" r="5.2" fill="#9a86cc" fill-opacity="0.54"/>
<circle cx="225" cy="189" r="6.2" fill="#9a86cc" fill-opacity="0.56"/>
<circle cx="301" cy="248" r="6.7" fill="#9a86cc" fill-opacity="0.54"/>
<circle cx="195" cy="269" r="5.3" fill="#9a86cc" fill-opacity="0.39"/>
<circle cx="291" cy="256" r="7.1" fill="#9a86cc" fill-opacity="0.51"/>
<circle cx="256" cy="194" r="7.4" fill="#9a86cc" fill-opacity="0.69"/>
<circle cx="275" cy="239" r="7.7" fill="#9a86cc" fill-opacity="0.43"/>
<circle cx="268" cy="302" r="5.4" fill="#9a86cc" fill-opacity="0.66"/>
<circle cx="208" cy="285" r="7.0" fill="#9a86cc" fill-opacity="0.45"/>
<circle cx="214" cy="253" r="5.2" fill="#9a86cc" fill-opacity="0.68"/>
<circle cx="228" cy="214" r="5.6" fill="#9a86cc" fill-opacity="0.41"/>
<circle cx="234" cy="212" r="5.9" fill="#9a86cc" fill-opacity="0.39"/>
<circle cx="299" cy="248" r="5.4" fill="#9a86cc" fill-opacity="0.70"/>
<circle cx="202" cy="257" r="7.6" fill="#9a86cc" fill-opacity="0.39"/>
<circle cx="295" cy="245" r="5.1" fill="#3a2488" fill-opacity="0.55"/>
<circle cx="223" cy="283" r="4.1" fill="#3a2488" fill-opacity="0.55"/>
<circle cx="285" cy="207" r="7.9" fill="#3a2488" fill-opacity="0.55"/>
<circle cx="283" cy="228" r="5.5" fill="#3a2488" fill-opacity="0.55"/>
<circle cx="281" cy="286" r="5.8" fill="#3a2488" fill-opacity="0.55"/>
<circle cx="268" cy="285" r="5.8" fill="#3a2488" fill-opacity="0.55"/>
<circle cx="288" cy="204" r="4.2" fill="#3a2488" fill-opacity="0.55"/>
<circle cx="227" cy="204" r="6.0" fill="#3a2488" fill-opacity="0.55"/>
<circle cx="259" cy="237" r="7.7" fill="#3a2488" fill-opacity="0.55"/>
<circle cx="210" cy="295" r="6.5" fill="#3a2488" fill-opacity="0.55"/>
<circle cx="278" cy="226" r="5.5" fill="#3a2488" fill-opacity="0.55"/>
<circle cx="213" cy="294" r="6.1" fill="#3a2488" fill-opacity="0.55"/>
<circle cx="274" cy="215" r="7.0" fill="#3a2488" fill-opacity="0.55"/>
<circle cx="289" cy="270" r="5.0" fill="#3a2488" fill-opacity="0.55"/>
<circle cx="211" cy="243" r="5.2" fill="#3a2488" fill-opacity="0.55"/>
<circle cx="226" cy="287" r="7.5" fill="#3a2488" fill-opacity="0.55"/>
<circle cx="197" cy="260" r="7.4" fill="#3a2488" fill-opacity="0.55"/>
<circle cx="248" cy="267" r="7.0" fill="#3a2488" fill-opacity="0.55"/>
<circle cx="217" cy="242" r="7.2" fill="#3a2488" fill-opacity="0.55"/>
<circle cx="226" cy="260" r="7.9" fill="#3a2488" fill-opacity="0.55"/>
<circle cx="241" cy="275" r="6.2" fill="#3a2488" fill-opacity="0.55"/>
<circle cx="233" cy="226" r="4.8" fill="#3a2488" fill-opacity="0.55"/>
<circle cx="288" cy="256" r="6.3" fill="#3a2488" fill-opacity="0.55"/>
<circle cx="202" cy="210" r="7.6" fill="#3a2488" fill-opacity="0.55"/>
<circle cx="254" cy="274" r="6.4" fill="#3a2488" fill-opacity="0.55"/>
<circle cx="273" cy="276" r="4.2" fill="#3a2488" fill-opacity="0.55"/>
<circle cx="243" cy="191" r="6.8" fill="#3a2488" fill-opacity="0.55"/>
<circle cx="300" cy="228" r="6.9" fill="#3a2488" fill-opacity="0.55"/>
<circle cx="219" cy="212" r="4.4" fill="#3a2488" fill-opacity="0.55"/>
<circle cx="245" cy="265" r="7.9" fill="#3a2488" fill-opacity="0.55"/>
<ellipse cx="228" cy="240" rx="10" ry="28" fill="#8a86c8" transform="rotate(-15 228 240)"/>
<ellipse cx="262" cy="225" rx="8" ry="18" fill="#7d78c0" transform="rotate(40 262 225)"/>
</g>
<text x="250" y="89" font-size="42" font-weight="bold" text-anchor="middle" fill="#111" textLength="352" lengthAdjust="spacingAndGlyphs" filter="url(#blur2)">Apoptotic blast</text>
</g></svg>
<text x="360.40" y="38.90" font-size="8.8" text-anchor="start">NR</text>
<line x1="379.60" y1="47.00" x2="379.60" y2="129.60" stroke="#111" stroke-width="1.3"/>
<line x1="379.00" y1="129.00" x2="499.60" y2="129.00" stroke="#111" stroke-width="1.3"/>
<line x1="376.00" y1="49.60" x2="379.60" y2="49.60" stroke="#111" stroke-width="1.0"/>
<text transform="translate(373.00 52.55) scale(1.0700 1)" font-size="8.6" text-anchor="end">5000</text>
<line x1="376.00" y1="56.40" x2="379.60" y2="56.40" stroke="#111" stroke-width="1.0"/>
<text transform="translate(373.00 59.35) scale(1.0700 1)" font-size="8.6" text-anchor="end">4000</text>
<line x1="376.00" y1="63.50" x2="379.60" y2="63.50" stroke="#111" stroke-width="1.0"/>
<text transform="translate(373.00 66.45) scale(1.0700 1)" font-size="8.6" text-anchor="end">3000</text>
<line x1="376.00" y1="71.00" x2="379.60" y2="71.00" stroke="#111" stroke-width="1.0"/>
<text transform="translate(373.00 73.95) scale(1.0700 1)" font-size="8.6" text-anchor="end">2000</text>
<line x1="376.00" y1="85.80" x2="379.60" y2="85.80" stroke="#111" stroke-width="1.0"/>
<text transform="translate(373.00 88.75) scale(1.0700 1)" font-size="8.6" text-anchor="end">1500</text>
<line x1="376.00" y1="100.30" x2="379.60" y2="100.30" stroke="#111" stroke-width="1.0"/>
<text transform="translate(373.00 103.25) scale(1.0700 1)" font-size="8.6" text-anchor="end">1000</text>
<line x1="376.00" y1="114.80" x2="379.60" y2="114.80" stroke="#111" stroke-width="1.0"/>
<text transform="translate(373.00 117.75) scale(1.0700 1)" font-size="8.6" text-anchor="end">500</text>
<line x1="376.00" y1="129.00" x2="379.60" y2="129.00" stroke="#111" stroke-width="1.0"/>
<text transform="translate(373.00 131.95) scale(1.0700 1)" font-size="8.6" text-anchor="end">0</text>
<line x1="377.70" y1="70.60" x2="381.60" y2="66.60" stroke="#111" stroke-width="1.8"/>
<line x1="379.60" y1="129.00" x2="379.60" y2="131.80" stroke="#111" stroke-width="1.0"/>
<text transform="translate(379.60 144.20) scale(1.0600 1)" font-size="8.7" text-anchor="middle">0</text>
<line x1="383.50" y1="129.00" x2="383.50" y2="130.90" stroke="#111" stroke-width="0.7"/>
<line x1="387.39" y1="129.00" x2="387.39" y2="130.90" stroke="#111" stroke-width="0.7"/>
<line x1="391.29" y1="129.00" x2="391.29" y2="130.90" stroke="#111" stroke-width="0.7"/>
<line x1="395.18" y1="129.00" x2="395.18" y2="130.90" stroke="#111" stroke-width="0.7"/>
<line x1="399.08" y1="129.00" x2="399.08" y2="130.90" stroke="#111" stroke-width="0.7"/>
<line x1="402.97" y1="129.00" x2="402.97" y2="130.90" stroke="#111" stroke-width="0.7"/>
<line x1="406.87" y1="129.00" x2="406.87" y2="130.90" stroke="#111" stroke-width="0.7"/>
<line x1="410.76" y1="129.00" x2="410.76" y2="130.90" stroke="#111" stroke-width="0.7"/>
<line x1="414.66" y1="129.00" x2="414.66" y2="130.90" stroke="#111" stroke-width="0.7"/>
<line x1="418.55" y1="129.00" x2="418.55" y2="131.80" stroke="#111" stroke-width="1.0"/>
<text transform="translate(418.55 144.20) scale(1.0600 1)" font-size="8.7" text-anchor="middle">10</text>
<line x1="422.45" y1="129.00" x2="422.45" y2="130.90" stroke="#111" stroke-width="0.7"/>
<line x1="426.34" y1="129.00" x2="426.34" y2="130.90" stroke="#111" stroke-width="0.7"/>
<line x1="430.24" y1="129.00" x2="430.24" y2="130.90" stroke="#111" stroke-width="0.7"/>
<line x1="434.13" y1="129.00" x2="434.13" y2="130.90" stroke="#111" stroke-width="0.7"/>
<line x1="438.03" y1="129.00" x2="438.03" y2="130.90" stroke="#111" stroke-width="0.7"/>
<line x1="441.92" y1="129.00" x2="441.92" y2="130.90" stroke="#111" stroke-width="0.7"/>
<line x1="445.82" y1="129.00" x2="445.82" y2="130.90" stroke="#111" stroke-width="0.7"/>
<line x1="449.71" y1="129.00" x2="449.71" y2="130.90" stroke="#111" stroke-width="0.7"/>
<line x1="453.61" y1="129.00" x2="453.61" y2="130.90" stroke="#111" stroke-width="0.7"/>
<line x1="457.50" y1="129.00" x2="457.50" y2="131.80" stroke="#111" stroke-width="1.0"/>
<text transform="translate(457.50 144.20) scale(1.0600 1)" font-size="8.7" text-anchor="middle">20</text>
<line x1="461.40" y1="129.00" x2="461.40" y2="130.90" stroke="#111" stroke-width="0.7"/>
<line x1="465.29" y1="129.00" x2="465.29" y2="130.90" stroke="#111" stroke-width="0.7"/>
<line x1="469.19" y1="129.00" x2="469.19" y2="130.90" stroke="#111" stroke-width="0.7"/>
<line x1="473.08" y1="129.00" x2="473.08" y2="130.90" stroke="#111" stroke-width="0.7"/>
<line x1="476.98" y1="129.00" x2="476.98" y2="130.90" stroke="#111" stroke-width="0.7"/>
<line x1="480.87" y1="129.00" x2="480.87" y2="130.90" stroke="#111" stroke-width="0.7"/>
<line x1="484.77" y1="129.00" x2="484.77" y2="130.90" stroke="#111" stroke-width="0.7"/>
<line x1="488.66" y1="129.00" x2="488.66" y2="130.90" stroke="#111" stroke-width="0.7"/>
<line x1="492.56" y1="129.00" x2="492.56" y2="130.90" stroke="#111" stroke-width="0.7"/>
<line x1="496.45" y1="129.00" x2="496.45" y2="131.80" stroke="#111" stroke-width="1.0"/>
<text transform="translate(496.45 144.20) scale(1.0600 1)" font-size="8.7" text-anchor="middle">30</text>
<line x1="500.35" y1="129.00" x2="500.35" y2="130.90" stroke="#111" stroke-width="0.7"/>
<text transform="translate(345.90 87.90) rotate(-90) scale(0.7543 1)" font-size="10.4" text-anchor="middle">PB counts/µl</text>
<polyline points="379.60,128.50 383.50,127.90 391.29,123.00 402.97,122.50 410.76,123.10 418.55,126.30 422.45,125.40 426.34,114.40 430.24,124.40 434.13,127.50 438.03,128.30 441.92,121.70 445.82,122.50 449.71,126.30 457.50,126.00 461.40,127.30 465.29,127.50 469.19,127.30 473.08,124.60 484.77,119.20 488.66,126.30 492.56,128.80 496.45,122.70" fill="none" stroke="#1f3f7d" stroke-width="1.45" stroke-linejoin="round"/>
<circle cx="379.60" cy="128.50" r="1.7" fill="#1f3f7d"/>
<circle cx="383.50" cy="127.90" r="1.7" fill="#1f3f7d"/>
<circle cx="391.29" cy="123.00" r="1.7" fill="#1f3f7d"/>
<circle cx="402.97" cy="122.50" r="1.7" fill="#1f3f7d"/>
<circle cx="410.76" cy="123.10" r="1.7" fill="#1f3f7d"/>
<circle cx="418.55" cy="126.30" r="1.7" fill="#1f3f7d"/>
<circle cx="422.45" cy="125.40" r="1.7" fill="#1f3f7d"/>
<circle cx="426.34" cy="114.40" r="1.7" fill="#1f3f7d"/>
<circle cx="430.24" cy="124.40" r="1.7" fill="#1f3f7d"/>
<circle cx="434.13" cy="127.50" r="1.7" fill="#1f3f7d"/>
<circle cx="438.03" cy="128.30" r="1.7" fill="#1f3f7d"/>
<circle cx="441.92" cy="121.70" r="1.7" fill="#1f3f7d"/>
<circle cx="445.82" cy="122.50" r="1.7" fill="#1f3f7d"/>
<circle cx="449.71" cy="126.30" r="1.7" fill="#1f3f7d"/>
<circle cx="457.50" cy="126.00" r="1.7" fill="#1f3f7d"/>
<circle cx="461.40" cy="127.30" r="1.7" fill="#1f3f7d"/>
<circle cx="465.29" cy="127.50" r="1.7" fill="#1f3f7d"/>
<circle cx="469.19" cy="127.30" r="1.7" fill="#1f3f7d"/>
<circle cx="473.08" cy="124.60" r="1.7" fill="#1f3f7d"/>
<circle cx="484.77" cy="119.20" r="1.7" fill="#1f3f7d"/>
<circle cx="488.66" cy="126.30" r="1.7" fill="#1f3f7d"/>
<circle cx="492.56" cy="128.80" r="1.7" fill="#1f3f7d"/>
<circle cx="496.45" cy="122.70" r="1.7" fill="#1f3f7d"/>
<polyline points="379.60,104.80 383.50,111.00 391.29,112.90 402.97,104.40 410.76,95.60 418.55,109.60 422.45,93.70 426.34,109.60 430.24,100.60 434.13,68.80 438.03,64.40 441.92,75.00 445.82,99.00 449.71,115.00 457.50,126.90 461.40,129.00 465.29,129.00 469.19,129.00 473.08,129.00 484.77,116.90 488.66,66.00 492.56,52.50 496.45,66.90" fill="none" stroke="#a5102d" stroke-width="1.45" stroke-linejoin="round"/>
<rect x="377.95" y="103.20" width="3.3" height="3.2" fill="#a5102d"/>
<rect x="381.85" y="109.40" width="3.3" height="3.2" fill="#a5102d"/>
<rect x="389.64" y="111.30" width="3.3" height="3.2" fill="#a5102d"/>
<rect x="401.32" y="102.80" width="3.3" height="3.2" fill="#a5102d"/>
<rect x="409.11" y="94.00" width="3.3" height="3.2" fill="#a5102d"/>
<rect x="416.90" y="108.00" width="3.3" height="3.2" fill="#a5102d"/>
<rect x="420.80" y="92.10" width="3.3" height="3.2" fill="#a5102d"/>
<rect x="424.69" y="108.00" width="3.3" height="3.2" fill="#a5102d"/>
<rect x="428.59" y="99.00" width="3.3" height="3.2" fill="#a5102d"/>
<rect x="432.48" y="67.20" width="3.3" height="3.2" fill="#a5102d"/>
<rect x="436.38" y="62.80" width="3.3" height="3.2" fill="#a5102d"/>
<rect x="440.27" y="73.40" width="3.3" height="3.2" fill="#a5102d"/>
<rect x="444.17" y="97.40" width="3.3" height="3.2" fill="#a5102d"/>
<rect x="448.06" y="113.40" width="3.3" height="3.2" fill="#a5102d"/>
<rect x="455.85" y="125.30" width="3.3" height="3.2" fill="#a5102d"/>
<rect x="459.75" y="127.40" width="3.3" height="3.2" fill="#a5102d"/>
<rect x="463.64" y="127.40" width="3.3" height="3.2" fill="#a5102d"/>
<rect x="467.54" y="127.40" width="3.3" height="3.2" fill="#a5102d"/>
<rect x="471.43" y="127.40" width="3.3" height="3.2" fill="#a5102d"/>
<rect x="483.12" y="115.30" width="3.3" height="3.2" fill="#a5102d"/>
<rect x="487.01" y="64.40" width="3.3" height="3.2" fill="#a5102d"/>
<rect x="490.91" y="50.90" width="3.3" height="3.2" fill="#a5102d"/>
<rect x="494.80" y="65.30" width="3.3" height="3.2" fill="#a5102d"/>
<line x1="446.30" y1="52.80" x2="455.30" y2="52.80" stroke="#a5102d" stroke-width="1.3"/>
<rect x="449.1" y="51.3" width="3.6" height="3" fill="#a5102d"/>
<text transform="translate(458.70 55.70) scale(0.9300 1)" font-size="8.6" text-anchor="start">Blasts</text>
<line x1="446.30" y1="63.40" x2="455.30" y2="63.40" stroke="#1f3f7d" stroke-width="1.3"/>
<circle cx="450.9" cy="63.4" r="1.6" fill="#1f3f7d"/>
<text transform="translate(458.70 66.20) scale(0.9300 1)" font-size="8.6" text-anchor="start">ALC</text>
<text x="360.40" y="187.00" font-size="8.8" text-anchor="start">SR</text>
<line x1="379.60" y1="194.30" x2="379.60" y2="279.30" stroke="#111" stroke-width="1.3"/>
<line x1="379.00" y1="278.70" x2="504.60" y2="278.70" stroke="#111" stroke-width="1.3"/>
<line x1="376.00" y1="197.50" x2="379.60" y2="197.50" stroke="#111" stroke-width="1.0"/>
<text transform="translate(373.00 200.45) scale(1.0700 1)" font-size="8.6" text-anchor="end">2000</text>
<line x1="376.00" y1="217.60" x2="379.60" y2="217.60" stroke="#111" stroke-width="1.0"/>
<text transform="translate(373.00 220.55) scale(1.0700 1)" font-size="8.6" text-anchor="end">1500</text>
<line x1="376.00" y1="237.80" x2="379.60" y2="237.80" stroke="#111" stroke-width="1.0"/>
<text transform="translate(373.00 240.75) scale(1.0700 1)" font-size="8.6" text-anchor="end">1000</text>
<line x1="376.00" y1="258.20" x2="379.60" y2="258.20" stroke="#111" stroke-width="1.0"/>
<text transform="translate(373.00 261.15) scale(1.0700 1)" font-size="8.6" text-anchor="end">500</text>
<line x1="376.00" y1="278.70" x2="379.60" y2="278.70" stroke="#111" stroke-width="1.0"/>
<text transform="translate(373.00 281.65) scale(1.0700 1)" font-size="8.6" text-anchor="end">0</text>
<line x1="379.60" y1="278.70" x2="379.60" y2="281.60" stroke="#111" stroke-width="1.0"/>
<text transform="translate(379.60 293.20) scale(1.0600 1)" font-size="8.7" text-anchor="middle">0</text>
<line x1="383.53" y1="278.70" x2="383.53" y2="280.60" stroke="#111" stroke-width="0.7"/>
<line x1="387.46" y1="278.70" x2="387.46" y2="280.60" stroke="#111" stroke-width="0.7"/>
<line x1="391.39" y1="278.70" x2="391.39" y2="280.60" stroke="#111" stroke-width="0.7"/>
<line x1="395.32" y1="278.70" x2="395.32" y2="280.60" stroke="#111" stroke-width="0.7"/>
<line x1="399.25" y1="278.70" x2="399.25" y2="280.60" stroke="#111" stroke-width="0.7"/>
<line x1="403.18" y1="278.70" x2="403.18" y2="280.60" stroke="#111" stroke-width="0.7"/>
<line x1="407.11" y1="278.70" x2="407.11" y2="280.60" stroke="#111" stroke-width="0.7"/>
<line x1="411.04" y1="278.70" x2="411.04" y2="280.60" stroke="#111" stroke-width="0.7"/>
<line x1="414.97" y1="278.70" x2="414.97" y2="280.60" stroke="#111" stroke-width="0.7"/>
<line x1="418.90" y1="278.70" x2="418.90" y2="281.60" stroke="#111" stroke-width="1.0"/>
<text transform="translate(418.90 293.20) scale(1.0600 1)" font-size="8.7" text-anchor="middle">10</text>
<line x1="422.83" y1="278.70" x2="422.83" y2="280.60" stroke="#111" stroke-width="0.7"/>
<line x1="426.76" y1="278.70" x2="426.76" y2="280.60" stroke="#111" stroke-width="0.7"/>
<line x1="430.69" y1="278.70" x2="430.69" y2="280.60" stroke="#111" stroke-width="0.7"/>
<line x1="434.62" y1="278.70" x2="434.62" y2="280.60" stroke="#111" stroke-width="0.7"/>
<line x1="438.55" y1="278.70" x2="438.55" y2="280.60" stroke="#111" stroke-width="0.7"/>
<line x1="442.48" y1="278.70" x2="442.48" y2="280.60" stroke="#111" stroke-width="0.7"/>
<line x1="446.41" y1="278.70" x2="446.41" y2="280.60" stroke="#111" stroke-width="0.7"/>
<line x1="450.34" y1="278.70" x2="450.34" y2="280.60" stroke="#111" stroke-width="0.7"/>
<line x1="454.27" y1="278.70" x2="454.27" y2="280.60" stroke="#111" stroke-width="0.7"/>
<line x1="458.20" y1="278.70" x2="458.20" y2="281.60" stroke="#111" stroke-width="1.0"/>
<text transform="translate(458.20 293.20) scale(1.0600 1)" font-size="8.7" text-anchor="middle">20</text>
<line x1="462.13" y1="278.70" x2="462.13" y2="280.60" stroke="#111" stroke-width="0.7"/>
<line x1="466.06" y1="278.70" x2="466.06" y2="280.60" stroke="#111" stroke-width="0.7"/>
<line x1="469.99" y1="278.70" x2="469.99" y2="280.60" stroke="#111" stroke-width="0.7"/>
<line x1="473.92" y1="278.70" x2="473.92" y2="280.60" stroke="#111" stroke-width="0.7"/>
<line x1="477.85" y1="278.70" x2="477.85" y2="280.60" stroke="#111" stroke-width="0.7"/>
<line x1="481.78" y1="278.70" x2="481.78" y2="280.60" stroke="#111" stroke-width="0.7"/>
<line x1="485.71" y1="278.70" x2="485.71" y2="280.60" stroke="#111" stroke-width="0.7"/>
<line x1="489.64" y1="278.70" x2="489.64" y2="280.60" stroke="#111" stroke-width="0.7"/>
<line x1="493.57" y1="278.70" x2="493.57" y2="280.60" stroke="#111" stroke-width="0.7"/>
<line x1="497.50" y1="278.70" x2="497.50" y2="281.60" stroke="#111" stroke-width="1.0"/>
<text transform="translate(497.50 293.20) scale(1.0600 1)" font-size="8.7" text-anchor="middle">30</text>
<line x1="501.43" y1="278.70" x2="501.43" y2="280.60" stroke="#111" stroke-width="0.7"/>
<text transform="translate(345.90 236.00) rotate(-90) scale(0.7543 1)" font-size="10.4" text-anchor="middle">PB counts/µl</text>
<polyline points="379.60,274.80 383.53,275.40 403.18,274.80 411.04,277.10 418.90,274.80 422.83,274.80 430.69,275.20 434.62,275.20 438.55,266.70 442.48,238.30 446.41,233.80 450.34,254.20 454.27,262.70 458.20,258.50 462.13,262.30 466.06,262.70 469.99,270.60 473.92,266.70 477.85,266.70 481.78,270.40 485.71,270.40 493.57,275.40 501.43,271.90" fill="none" stroke="#1f3f7d" stroke-width="1.45" stroke-linejoin="round"/>
<circle cx="379.60" cy="274.80" r="1.7" fill="#1f3f7d"/>
<circle cx="383.53" cy="275.40" r="1.7" fill="#1f3f7d"/>
<circle cx="403.18" cy="274.80" r="1.7" fill="#1f3f7d"/>
<circle cx="411.04" cy="277.10" r="1.7" fill="#1f3f7d"/>
<circle cx="418.90" cy="274.80" r="1.7" fill="#1f3f7d"/>
<circle cx="422.83" cy="274.80" r="1.7" fill="#1f3f7d"/>
<circle cx="430.69" cy="275.20" r="1.7" fill="#1f3f7d"/>
<circle cx="434.62" cy="275.20" r="1.7" fill="#1f3f7d"/>
<circle cx="438.55" cy="266.70" r="1.7" fill="#1f3f7d"/>
<circle cx="442.48" cy="238.30" r="1.7" fill="#1f3f7d"/>
<circle cx="446.41" cy="233.80" r="1.7" fill="#1f3f7d"/>
<circle cx="450.34" cy="254.20" r="1.7" fill="#1f3f7d"/>
<circle cx="454.27" cy="262.70" r="1.7" fill="#1f3f7d"/>
<circle cx="458.20" cy="258.50" r="1.7" fill="#1f3f7d"/>
<circle cx="462.13" cy="262.30" r="1.7" fill="#1f3f7d"/>
<circle cx="466.06" cy="262.70" r="1.7" fill="#1f3f7d"/>
<circle cx="469.99" cy="270.60" r="1.7" fill="#1f3f7d"/>
<circle cx="473.92" cy="266.70" r="1.7" fill="#1f3f7d"/>
<circle cx="477.85" cy="266.70" r="1.7" fill="#1f3f7d"/>
<circle cx="481.78" cy="270.40" r="1.7" fill="#1f3f7d"/>
<circle cx="485.71" cy="270.40" r="1.7" fill="#1f3f7d"/>
<circle cx="493.57" cy="275.40" r="1.7" fill="#1f3f7d"/>
<circle cx="501.43" cy="271.90" r="1.7" fill="#1f3f7d"/>
<polyline points="379.60,276.70 411.04,276.20 430.69,278.70" fill="none" stroke="#a5102d" stroke-width="1.45" stroke-linejoin="round"/>
<rect x="377.95" y="275.10" width="3.3" height="3.2" fill="#a5102d"/>
<rect x="409.39" y="274.60" width="3.3" height="3.2" fill="#a5102d"/>
<rect x="429.04" y="277.10" width="3.3" height="3.2" fill="#a5102d"/>
<line x1="478.40" y1="196.00" x2="487.20" y2="196.00" stroke="#1f3f7d" stroke-width="1.3"/>
<circle cx="482.8" cy="196" r="1.6" fill="#1f3f7d"/>
<text transform="translate(490.60 198.90) scale(0.9300 1)" font-size="8.6" text-anchor="start">ALC</text>
<line x1="478.40" y1="208.80" x2="487.20" y2="208.80" stroke="#a5102d" stroke-width="1.3"/>
<rect x="481.0" y="207.3" width="3.6" height="3" fill="#a5102d"/>
<text transform="translate(490.60 211.60) scale(0.9300 1)" font-size="8.6" text-anchor="start">Blasts</text>
<g>
<line x1="55.80" y1="400.30" x2="181.00" y2="400.30" stroke="#555" stroke-width="0.8" stroke-dasharray="1,1.25"/>
<polyline points="55.8,411.0 59.9,410.8 64.0,410.7 76.2,407.7 88.5,404.9 92.6,404.2 104.9,408.0 117.1,410.2 121.2,410.1 125.3,410.5 129.4,410.7" fill="none" stroke="#ef9a74" stroke-width="0.5" stroke-opacity="0.85" stroke-linejoin="round"/>
<polyline points="55.8,410.5 59.9,409.9 72.2,409.3 84.4,408.2 92.6,405.4 100.8,398.4 104.9,399.5 109.0,404.8 117.1,405.3 125.3,405.3 133.5,405.9 137.6,407.1 145.8,407.2 154.0,407.4 162.1,407.1 166.2,406.5" fill="none" stroke="#d9544f" stroke-width="0.5" stroke-opacity="0.85" stroke-linejoin="round"/>
<polyline points="76.2,407.7 84.4,407.7 88.5,408.1 96.7,405.4 104.9,404.2 113.1,401.2 121.2,405.8 129.4,405.9 141.7,407.0 145.8,406.9 154.0,407.3 158.1,406.9 166.2,407.7 174.4,407.2 182.6,406.5" fill="none" stroke="#e98f8a" stroke-width="0.5" stroke-opacity="0.85" stroke-linejoin="round"/>
<polyline points="55.8,409.7 59.9,409.3 64.0,409.3 76.2,407.9 84.4,405.8 92.6,402.3 104.9,405.5 109.0,406.2 121.2,407.1 125.3,408.0 137.6,408.4 145.8,408.5 154.0,408.3 158.1,408.9 162.1,408.7 166.2,408.8 170.3,409.1 182.6,409.2" fill="none" stroke="#4a6be0" stroke-width="0.5" stroke-opacity="0.85" stroke-linejoin="round"/>
<polyline points="59.9,408.8 68.1,409.2 76.2,407.9 84.4,408.3 92.6,408.3 96.7,406.8 104.9,408.7 109.0,409.0 113.1,408.8 125.3,409.9 137.6,409.7 149.9,410.3 154.0,410.1 162.1,410.3 166.2,410.4 170.3,410.3" fill="none" stroke="#8796ea" stroke-width="0.5" stroke-opacity="0.85" stroke-linejoin="round"/>
<polyline points="55.8,410.9 64.0,409.7 68.1,409.0 76.2,408.3 88.5,404.3 96.7,400.5 104.9,401.5 113.1,405.2 117.1,405.1 121.2,405.0 129.4,404.7 141.7,404.6 149.9,404.7 158.1,405.1 162.1,405.2 166.2,405.1 170.3,406.1 174.4,406.2" fill="none" stroke="#a8daf0" stroke-width="0.5" stroke-opacity="0.85" stroke-linejoin="round"/>
<polyline points="55.8,411.5 59.9,411.3 68.1,410.3 72.2,410.0 84.4,408.4 92.6,408.5 104.9,399.3 109.0,390.8 113.1,387.3 117.1,392.6 121.2,395.0 125.3,401.9 129.4,402.2 133.5,401.1 141.7,403.6 149.9,402.1 154.0,402.1 162.1,402.6 174.4,403.2" fill="none" stroke="#8ad0ee" stroke-width="0.5" stroke-opacity="0.85" stroke-linejoin="round"/>
<polyline points="76.2,409.4 80.3,409.6 88.5,408.7 92.6,408.5 100.8,407.4 113.1,402.4 117.1,403.4 121.2,406.1 129.4,407.2 133.5,406.4 145.8,407.8 149.9,407.1 162.1,406.5 174.4,407.5 182.6,407.7" fill="none" stroke="#5a9b9b" stroke-width="0.5" stroke-opacity="0.85" stroke-linejoin="round"/>
<polyline points="59.9,408.5 64.0,408.0 68.1,408.1 76.2,407.0 80.3,405.9 88.5,405.8 96.7,402.1 100.8,396.6 109.0,401.8 113.1,399.1 117.1,400.6 121.2,402.4 129.4,403.9" fill="none" stroke="#b4dada" stroke-width="0.5" stroke-opacity="0.85" stroke-linejoin="round"/>
<polyline points="55.8,411.5 68.1,410.7 72.2,410.6 84.4,408.8 96.7,400.5 100.8,402.0 104.9,404.0 109.0,407.4 117.1,408.4 121.2,408.2 125.3,407.6 133.5,408.4 145.8,408.0 158.1,408.7 166.2,409.2 170.3,408.4" fill="none" stroke="#b5a8e2" stroke-width="0.5" stroke-opacity="0.85" stroke-linejoin="round"/>
<polyline points="55.8,410.7 59.9,410.5 68.1,409.9 76.2,409.5 84.4,409.3 88.5,409.8 92.6,409.6 96.7,410.3 100.8,410.4 109.0,410.4 121.2,410.5 129.4,410.7 133.5,410.8 137.6,410.5 141.7,411.0 154.0,410.8 158.1,410.8 162.1,410.6 166.2,410.8 174.4,410.8" fill="none" stroke="#7686a8" stroke-width="0.5" stroke-opacity="0.85" stroke-linejoin="round"/>
<polyline points="55.8,409.5 64.0,408.5 68.1,409.5 76.2,408.6 80.3,408.9 88.5,405.1 96.7,404.3 104.9,408.6 109.0,409.1 117.1,409.6 125.3,408.7 137.6,409.6 141.7,409.1 149.9,409.8 154.0,410.1 162.1,410.1 170.3,409.7 174.4,410.0 178.5,410.1 182.6,410.1" fill="none" stroke="#3c4460" stroke-width="0.5" stroke-opacity="0.85" stroke-linejoin="round"/>
<polyline points="55.8,411.7 64.0,410.5 76.2,407.4 80.3,404.9 92.6,399.8 104.9,403.2 117.1,401.9 129.4,402.4 133.5,402.6 145.8,403.1 149.9,405.3 154.0,405.3 162.1,403.1" fill="none" stroke="#f3b9b4" stroke-width="0.5" stroke-opacity="0.85" stroke-linejoin="round"/>
<polyline points="59.9,409.3 64.0,408.8 76.2,408.1 80.3,408.1 84.4,407.4 92.6,404.8 96.7,400.8 100.8,401.6 104.9,404.6 113.1,407.2 121.2,409.2 129.4,408.8 141.7,409.2 145.8,409.8 149.9,409.6 158.1,409.4 162.1,410.0 166.2,409.6 170.3,409.4 178.5,409.8" fill="none" stroke="#c44" stroke-width="0.5" stroke-opacity="0.85" stroke-linejoin="round"/>
<polyline points="55.8,411.2 64.0,410.9 76.2,409.7 84.4,409.0 92.6,408.9 96.7,407.3 100.8,407.5 113.1,408.3 121.2,408.8 133.5,408.9 137.6,408.5 141.7,408.8" fill="none" stroke="#5b7bd5" stroke-width="0.5" stroke-opacity="0.85" stroke-linejoin="round"/>
<polyline points="68.1,409.3 72.2,408.0 76.2,407.7 84.4,401.6 88.5,395.3 92.6,398.1 100.8,403.4 104.9,403.9 117.1,405.8 125.3,404.4 129.4,405.7 133.5,404.5 141.7,405.3 145.8,406.3 154.0,406.0 162.1,406.7 170.3,405.5" fill="none" stroke="#e7a08c" stroke-width="0.5" stroke-opacity="0.85" stroke-linejoin="round"/>
<polyline points="55.8,409.7 64.0,408.8 68.1,408.3 76.2,408.0 88.5,406.8 96.7,401.5 104.9,397.7 113.1,397.5 117.1,400.1 129.4,404.2 133.5,406.3 137.6,407.0 149.9,405.9 158.1,406.8 166.2,406.4 174.4,407.4" fill="none" stroke="#9ab0e8" stroke-width="0.5" stroke-opacity="0.85" stroke-linejoin="round"/>
<polyline points="55.8,411.2 64.0,410.7 76.2,409.5 84.4,407.0 88.5,404.6 100.8,406.4 104.9,407.2 117.1,407.8 121.2,408.7 125.3,408.4 133.5,408.4 141.7,408.0 145.8,409.0 154.0,408.4 162.1,408.1 170.3,409.4 178.5,408.3" fill="none" stroke="#6cb7c9" stroke-width="0.5" stroke-opacity="0.85" stroke-linejoin="round"/>
<polyline points="55.8,409.7 59.9,409.8 64.0,409.4 68.1,408.9 76.2,408.4 84.4,408.7 92.6,408.3 96.7,409.0 104.9,407.5 117.1,409.0 125.3,409.8 137.6,410.3" fill="none" stroke="#ef9a74" stroke-width="0.5" stroke-opacity="0.85" stroke-linejoin="round"/>
<polyline points="55.8,411.1 64.0,410.3 72.2,410.2 76.2,409.4 84.4,408.5 88.5,406.5 96.7,403.6 100.8,402.6 109.0,405.1 117.1,406.7 125.3,406.3" fill="none" stroke="#d9544f" stroke-width="0.5" stroke-opacity="0.85" stroke-linejoin="round"/>
<polyline points="55.8,411.6 64.0,411.5 76.2,410.9 80.3,410.4 88.5,409.9 92.6,409.0 96.7,406.5 100.8,408.0 113.1,409.0 117.1,408.5 121.2,409.1 129.4,409.0 133.5,408.9 141.7,409.7 154.0,409.4 158.1,409.8 166.2,409.4 174.4,409.8 178.5,410.2" fill="none" stroke="#e98f8a" stroke-width="0.5" stroke-opacity="0.85" stroke-linejoin="round"/>
<polyline points="59.9,411.5 68.1,411.0 80.3,409.8 84.4,409.8 92.6,409.4 100.8,406.8 109.0,407.8 113.1,407.3 117.1,407.9 121.2,407.0 129.4,408.2 137.6,407.5 149.9,409.0 158.1,407.9" fill="none" stroke="#4a6be0" stroke-width="0.5" stroke-opacity="0.85" stroke-linejoin="round"/>
<polyline points="55.8,411.8 64.0,411.0 72.2,410.2 80.3,409.3 84.4,408.8 88.5,409.4 96.7,406.2 100.8,397.9 109.0,390.7 117.1,402.6 129.4,404.7 133.5,404.0 137.6,404.7 141.7,403.7" fill="none" stroke="#8796ea" stroke-width="0.5" stroke-opacity="0.85" stroke-linejoin="round"/>
<polyline points="55.8,410.5 64.0,409.4 72.2,409.4 76.2,408.4 88.5,403.9 92.6,403.1 96.7,403.6 104.9,406.5 117.1,408.5 125.3,408.5 129.4,409.0 133.5,409.4 137.6,409.4 149.9,409.6 154.0,409.5 158.1,409.4 162.1,409.3 166.2,409.3 170.3,409.9 178.5,409.2" fill="none" stroke="#a8daf0" stroke-width="0.5" stroke-opacity="0.85" stroke-linejoin="round"/>
<polyline points="55.8,409.5 59.9,409.4 68.1,408.9 72.2,409.6 84.4,408.8 92.6,409.2 100.8,408.9 104.9,408.9 113.1,410.5 117.1,410.2 125.3,410.7 133.5,410.9 141.7,411.1 145.8,410.8 158.1,411.0 166.2,411.2 174.4,411.0 178.5,411.0 182.6,411.0" fill="none" stroke="#8ad0ee" stroke-width="0.5" stroke-opacity="0.85" stroke-linejoin="round"/>
<polyline points="64.0,409.7 72.2,409.4 80.3,409.0 84.4,408.3 92.6,406.5 100.8,409.5 104.9,409.9 113.1,410.6 117.1,410.9 121.2,410.8 129.4,411.1 141.7,410.8 154.0,411.1 162.1,411.1" fill="none" stroke="#5a9b9b" stroke-width="0.5" stroke-opacity="0.85" stroke-linejoin="round"/>
<polyline points="55.8,411.5 59.9,410.3 68.1,409.0 80.3,403.2 88.5,399.3 100.8,399.5 104.9,400.6 109.0,401.3 121.2,401.7 129.4,404.3 133.5,404.9 145.8,404.9 154.0,405.2 158.1,402.9 162.1,405.6 174.4,403.5 178.5,404.1" fill="none" stroke="#b4dada" stroke-width="0.5" stroke-opacity="0.85" stroke-linejoin="round"/>
<polyline points="59.9,411.2 68.1,410.5 76.2,410.0 80.3,409.0 88.5,406.3 96.7,400.7 104.9,395.7 113.1,401.5 117.1,403.9 125.3,405.0 133.5,405.4 137.6,406.7 141.7,406.8 149.9,405.5 162.1,407.3 174.4,405.8 178.5,407.6" fill="none" stroke="#b5a8e2" stroke-width="0.5" stroke-opacity="0.85" stroke-linejoin="round"/>
<polyline points="55.8,409.4 64.0,408.3 72.2,408.4 84.4,407.6 92.6,407.2 104.9,403.5 113.1,406.1 121.2,405.8 125.3,406.7 129.4,407.2 137.6,407.6 145.8,406.9 154.0,407.9 162.1,408.2 174.4,408.4" fill="none" stroke="#7686a8" stroke-width="0.5" stroke-opacity="0.85" stroke-linejoin="round"/>
<polyline points="80.3,406.8 88.5,404.8 96.7,403.9 104.9,406.3 109.0,407.2 113.1,408.1 117.1,409.4 129.4,410.5 141.7,410.3 149.9,410.4 154.0,410.7 162.1,410.6" fill="none" stroke="#3c4460" stroke-width="0.5" stroke-opacity="0.85" stroke-linejoin="round"/>
<polyline points="55.8,410.9 64.0,410.0 76.2,408.8 80.3,408.3 88.5,407.2 92.6,407.1 100.8,404.8 104.9,402.9 109.0,403.9 117.1,406.0 121.2,404.3 129.4,405.8 137.6,404.9 141.7,405.7 154.0,405.5 166.2,406.3 174.4,406.5" fill="none" stroke="#f3b9b4" stroke-width="0.5" stroke-opacity="0.85" stroke-linejoin="round"/>
<polyline points="55.8,410.1 59.9,409.9 72.2,408.3 76.2,408.7 80.3,407.8 92.6,405.8 100.8,406.1 104.9,406.9 109.0,407.5 113.1,406.5 121.2,407.3 125.3,407.9 133.5,407.6 141.7,408.7 149.9,408.7 154.0,408.6 158.1,408.9 166.2,408.2 174.4,408.3 182.6,408.3" fill="none" stroke="#c44" stroke-width="0.5" stroke-opacity="0.85" stroke-linejoin="round"/>
<polyline points="55.8,408.5 64.0,409.1 72.2,408.6 76.2,408.4 88.5,407.2 100.8,408.7 104.9,409.3 109.0,409.4 117.1,409.4 125.3,409.7 129.4,409.8 133.5,410.2 137.6,410.3 149.9,409.8 158.1,409.8 162.1,410.5 166.2,410.1 170.3,410.1 174.4,410.5" fill="none" stroke="#5b7bd5" stroke-width="0.5" stroke-opacity="0.85" stroke-linejoin="round"/>
<polyline points="68.1,408.2 72.2,407.9 76.2,405.7 80.3,404.8 88.5,393.5 92.6,398.8 96.7,401.1 104.9,402.6 109.0,403.2 117.1,404.7 125.3,402.5 137.6,404.3 145.8,404.2 149.9,403.9 154.0,404.9 158.1,405.3 162.1,404.9 166.2,404.5 170.3,404.9 178.5,406.0 182.6,405.2" fill="none" stroke="#e7a08c" stroke-width="0.5" stroke-opacity="0.85" stroke-linejoin="round"/>
<polyline points="55.8,409.5 68.1,409.0 72.2,408.7 76.2,407.6 80.3,407.9 84.4,406.9 88.5,407.3 100.8,405.9 109.0,406.0 117.1,401.7 121.2,403.8 125.3,404.3 133.5,405.2 145.8,405.2" fill="none" stroke="#9ab0e8" stroke-width="0.5" stroke-opacity="0.85" stroke-linejoin="round"/>
<polyline points="55.8,408.9 68.1,408.4 76.2,406.9 84.4,407.0 92.6,403.9 100.8,399.6 104.9,401.3 109.0,401.6 117.1,404.2 129.4,405.8 133.5,403.9 141.7,405.2 149.9,406.5 158.1,405.0 166.2,405.1 170.3,406.9" fill="none" stroke="#6cb7c9" stroke-width="0.5" stroke-opacity="0.85" stroke-linejoin="round"/>
<polyline points="55.8,411.3 59.9,411.1 68.1,410.3 72.2,409.9 80.3,408.2 92.6,404.0 100.8,406.2 104.9,407.0 113.1,408.0 117.1,406.6 125.3,407.2 137.6,407.5 145.8,407.5 158.1,407.7 162.1,408.0 170.3,408.4 178.5,408.2 182.6,407.8" fill="none" stroke="#ef9a74" stroke-width="0.5" stroke-opacity="0.85" stroke-linejoin="round"/>
<polyline points="55.8,409.5 59.9,408.9 68.1,408.5 76.2,407.8 80.3,408.6 92.6,404.8 96.7,401.5 100.8,398.3 109.0,399.1 117.1,402.7 125.3,405.4 133.5,406.2 141.7,407.7 145.8,407.5 149.9,407.0 162.1,407.9" fill="none" stroke="#d9544f" stroke-width="0.5" stroke-opacity="0.85" stroke-linejoin="round"/>
<polyline points="64.0,410.8 72.2,409.9 84.4,408.7 92.6,408.6 96.7,406.8 100.8,405.6 104.9,406.6 117.1,406.8 121.2,407.6 129.4,407.7 137.6,407.4 141.7,407.5 149.9,408.3 154.0,408.5 162.1,408.0 170.3,408.1 178.5,409.1" fill="none" stroke="#e98f8a" stroke-width="0.5" stroke-opacity="0.85" stroke-linejoin="round"/>
<polyline points="64.0,409.9 72.2,409.9 84.4,408.0 88.5,408.0 96.7,405.6 100.8,404.6 104.9,399.8 113.1,404.4 117.1,404.1 121.2,405.6 129.4,405.7 133.5,406.2 141.7,405.2 145.8,405.8 158.1,405.4 162.1,406.1 174.4,406.1 182.6,407.4" fill="none" stroke="#4a6be0" stroke-width="0.5" stroke-opacity="0.85" stroke-linejoin="round"/>
<polyline points="68.1,409.8 76.2,409.9 80.3,409.8 84.4,409.5 88.5,409.6 100.8,405.6 104.9,405.9 113.1,409.0 125.3,410.1 133.5,410.0 141.7,410.4 145.8,410.6 154.0,410.3 158.1,410.7 162.1,410.4 170.3,410.4 174.4,410.5" fill="none" stroke="#8796ea" stroke-width="0.5" stroke-opacity="0.85" stroke-linejoin="round"/>
<polyline points="64.0,409.1 76.2,407.7 80.3,407.4 88.5,405.8 100.8,408.0 109.0,408.2 117.1,408.3 129.4,407.9 141.7,408.9 145.8,408.6 149.9,409.0 158.1,408.6 162.1,408.8 166.2,408.6 170.3,409.1" fill="none" stroke="#a8daf0" stroke-width="0.5" stroke-opacity="0.85" stroke-linejoin="round"/>
<polyline points="76.2,408.6 88.5,408.6 100.8,410.5 113.1,410.5 117.1,410.9 125.3,410.8 129.4,411.1 133.5,410.8 141.7,410.9 145.8,411.1 149.9,410.9 162.1,411.0 170.3,411.2 174.4,411.2 182.6,411.1" fill="none" stroke="#8ad0ee" stroke-width="0.5" stroke-opacity="0.85" stroke-linejoin="round"/>
<polyline points="68.1,406.3 72.2,403.6 84.4,393.8 88.5,395.6 96.7,398.9 100.8,400.3 104.9,400.9 109.0,403.5 113.1,403.3 117.1,402.9 121.2,405.3 125.3,405.7 129.4,405.5 141.7,405.9 145.8,404.4 154.0,404.9 158.1,405.1 162.1,406.2" fill="none" stroke="#5a9b9b" stroke-width="0.5" stroke-opacity="0.85" stroke-linejoin="round"/>
<polyline points="55.8,409.4 68.1,410.0 76.2,409.6 88.5,409.4 96.7,408.2 104.9,410.6 117.1,410.8 125.3,410.9 129.4,410.9 133.5,411.1 137.6,411.0 145.8,411.1 154.0,411.0 166.2,411.3 174.4,411.4" fill="none" stroke="#b4dada" stroke-width="0.5" stroke-opacity="0.85" stroke-linejoin="round"/>
<polyline points="68.1,410.4 76.2,409.9 80.3,409.6 88.5,409.2 96.7,409.0 104.9,407.8 109.0,407.8 113.1,407.3 125.3,408.8 137.6,408.4 145.8,409.0 149.9,408.8 158.1,408.6 162.1,408.7 166.2,409.3 170.3,408.9 178.5,409.0" fill="none" stroke="#b5a8e2" stroke-width="0.5" stroke-opacity="0.85" stroke-linejoin="round"/>
<polyline points="55.8,410.2 68.1,407.6 80.3,404.4 92.6,401.6 96.7,403.6 100.8,404.1 109.0,404.1 121.2,404.7 133.5,403.9 137.6,406.1 145.8,405.5 149.9,405.6 158.1,404.7 162.1,405.9 166.2,405.9 178.5,405.5" fill="none" stroke="#7686a8" stroke-width="0.5" stroke-opacity="0.85" stroke-linejoin="round"/>
<polyline points="59.9,411.7 68.1,411.3 80.3,410.8 88.5,410.6 96.7,410.1 100.8,408.4 104.9,406.7 117.1,403.1 125.3,406.6 129.4,407.2 137.6,408.2 141.7,409.2 154.0,409.4 158.1,408.7" fill="none" stroke="#3c4460" stroke-width="0.5" stroke-opacity="0.85" stroke-linejoin="round"/>
<polyline points="55.8,410.5 64.0,410.2 76.2,408.2 80.3,408.6 92.6,405.9 100.8,403.9 104.9,403.6 109.0,402.2 117.1,403.9 125.3,404.0 129.4,405.0 137.6,405.8 141.7,405.7 149.9,406.4 154.0,405.0 158.1,405.9 162.1,405.3 166.2,405.1 170.3,407.0 182.6,405.5" fill="none" stroke="#f3b9b4" stroke-width="0.5" stroke-opacity="0.85" stroke-linejoin="round"/>
<polyline points="64.0,408.8 72.2,409.2 80.3,408.8 84.4,407.8 88.5,407.6 100.8,404.8 109.0,401.9 117.1,403.4 121.2,405.3 129.4,406.1 137.6,407.3 141.7,407.6 145.8,407.6 154.0,408.2 166.2,408.5 170.3,407.8" fill="none" stroke="#c44" stroke-width="0.5" stroke-opacity="0.85" stroke-linejoin="round"/>
<polyline points="55.8,411.6 64.0,411.1 68.1,411.0 76.2,411.0 80.3,410.7 92.6,410.3 96.7,409.6 109.0,407.1 117.1,408.5 125.3,409.2 137.6,409.5 141.7,409.2 145.8,409.1 149.9,409.3 154.0,409.1 162.1,409.3 166.2,409.8 178.5,409.5 182.6,409.6" fill="none" stroke="#5b7bd5" stroke-width="0.5" stroke-opacity="0.85" stroke-linejoin="round"/>
<polyline points="64.0,411.8 72.2,411.7 80.3,411.3 88.5,410.7 96.7,408.0 109.0,405.9 117.1,409.4 125.3,410.2 129.4,410.7 137.6,410.6 141.7,411.0 145.8,410.8 154.0,410.8 162.1,411.0 166.2,411.1 170.3,410.8" fill="none" stroke="#e7a08c" stroke-width="0.5" stroke-opacity="0.85" stroke-linejoin="round"/>
<polyline points="55.8,410.8 64.0,410.3 68.1,410.5 72.2,410.1 84.4,406.3 92.6,409.0 100.8,410.5 104.9,410.2 109.0,410.6 117.1,410.5 129.4,410.5 133.5,410.9 141.7,410.5 154.0,410.7 158.1,411.0 170.3,410.8 178.5,411.0 182.6,410.7" fill="none" stroke="#9ab0e8" stroke-width="0.5" stroke-opacity="0.85" stroke-linejoin="round"/>
<polyline points="64.0,409.0 72.2,407.6 84.4,405.7 92.6,401.2 104.9,397.5 117.1,402.6 125.3,403.2 133.5,402.4 137.6,403.6 149.9,404.7 158.1,404.2 170.3,403.9" fill="none" stroke="#6cb7c9" stroke-width="0.5" stroke-opacity="0.85" stroke-linejoin="round"/>
<polyline points="55.8,411.4 68.1,410.5 80.3,409.5 92.6,407.3 96.7,406.5 104.9,404.6 109.0,402.5 113.1,397.4 121.2,399.5 125.3,401.8 137.6,401.2 149.9,402.5 154.0,404.0 166.2,403.2 174.4,405.6 178.5,403.7" fill="none" stroke="#ef9a74" stroke-width="0.5" stroke-opacity="0.85" stroke-linejoin="round"/>
<polyline points="55.8,410.4 64.0,409.1 76.2,407.0 84.4,400.2 92.6,395.3 100.8,398.8 113.1,402.6 125.3,404.2 133.5,405.2 137.6,404.9 145.8,404.7 154.0,404.0 158.1,405.6 162.1,406.0" fill="none" stroke="#d9544f" stroke-width="0.5" stroke-opacity="0.85" stroke-linejoin="round"/>
<polyline points="55.8,410.3 59.9,409.9 68.1,409.6 72.2,408.8 80.3,407.3 92.6,401.2 100.8,403.6 104.9,405.1 109.0,407.2 121.2,407.1 129.4,407.7" fill="none" stroke="#e98f8a" stroke-width="0.5" stroke-opacity="0.85" stroke-linejoin="round"/>
<polyline points="76.2,410.6 84.4,410.3 92.6,409.5 104.9,407.2 113.1,406.2 121.2,406.7 129.4,408.0 137.6,407.4 145.8,407.9" fill="none" stroke="#4a6be0" stroke-width="0.5" stroke-opacity="0.85" stroke-linejoin="round"/>
<polyline points="64.0,410.2 68.1,410.4 76.2,409.3 84.4,408.8 96.7,405.9 109.0,398.7 117.1,400.8 129.4,402.2 137.6,404.0 145.8,405.4 154.0,404.6 158.1,404.1 170.3,405.7 178.5,405.5" fill="none" stroke="#8796ea" stroke-width="0.5" stroke-opacity="0.85" stroke-linejoin="round"/>
<polyline points="76.2,408.6 80.3,409.1 88.5,408.3 92.6,407.3 104.9,407.0 113.1,403.7 125.3,404.8 133.5,406.2 145.8,407.4 158.1,407.9 162.1,407.6 166.2,407.3" fill="none" stroke="#a8daf0" stroke-width="0.5" stroke-opacity="0.85" stroke-linejoin="round"/>
<polyline points="55.8,411.5 68.1,411.1 76.2,410.5 80.3,410.1 84.4,410.2 92.6,407.2 104.9,402.8 117.1,407.0 121.2,407.1 129.4,407.4 133.5,408.2 145.8,408.6 149.9,408.7 162.1,408.3 170.3,408.2 174.4,408.2" fill="none" stroke="#8ad0ee" stroke-width="0.5" stroke-opacity="0.85" stroke-linejoin="round"/>
<polyline points="55.8,411.1 68.1,410.1 72.2,409.9 80.3,409.0 84.4,408.9 96.7,408.0 100.8,407.1 113.1,403.1 121.2,406.2 129.4,405.8 141.7,406.4 149.9,405.1 154.0,406.8 162.1,406.1" fill="none" stroke="#5a9b9b" stroke-width="0.5" stroke-opacity="0.85" stroke-linejoin="round"/>
<polyline points="74.6,401.0 79.9,345.6 100.8,345.6 103.2,372.0 106.9,388.0 113.1,398.0 125.3,402.0 154.0,404.0" fill="none" stroke="#b4dada" stroke-width="0.7" stroke-opacity="1" stroke-linejoin="round"/>
<polyline points="86.5,402.0 92.6,372.0 96.7,350.0 102.8,352.0 109.0,366.0 113.1,369.6 118.4,371.6 129.4,372.0 144.1,378.0 169.5,379.6 182.6,384.2" fill="none" stroke="#b4dada" stroke-width="0.7" stroke-opacity="1" stroke-linejoin="round"/>
<polyline points="80.3,404.0 87.7,346.5 92.2,342.0 95.9,344.2 100.8,344.5 102.0,355.0 104.9,385.0 109.0,399.0" fill="none" stroke="#b5a8e2" stroke-width="0.7" stroke-opacity="1" stroke-linejoin="round"/>
<polyline points="80.3,405.0 85.2,392.0 87.7,345.8 91.8,342.4 95.9,345.0 98.7,360.0 102.8,385.0 109.0,400.0" fill="none" stroke="#5a9b9b" stroke-width="0.7" stroke-opacity="1" stroke-linejoin="round"/>
<polyline points="78.3,405.8 84.4,376.5 87.7,347.6 93.8,361.0 98.7,379.6 104.9,395.0 113.1,402.0 137.6,405.0" fill="none" stroke="#d9544f" stroke-width="0.7" stroke-opacity="1" stroke-linejoin="round"/>
<polyline points="80.3,407.0 85.7,380.0 89.3,348.0 94.7,362.0 102.0,376.5 109.0,398.0 121.2,403.0" fill="none" stroke="#d9544f" stroke-width="0.7" stroke-opacity="1" stroke-linejoin="round"/>
<polyline points="84.4,406.0 91.0,360.0 93.4,348.5 97.5,368.0 102.8,388.0 109.0,399.0" fill="none" stroke="#e98f8a" stroke-width="0.7" stroke-opacity="1" stroke-linejoin="round"/>
<polyline points="91.8,401.0 95.9,348.0 100.4,359.6 104.9,385.8 109.0,398.0 121.2,402.0" fill="none" stroke="#ef9a74" stroke-width="0.7" stroke-opacity="1" stroke-linejoin="round"/>
<polyline points="94.7,398.0 99.6,357.3 102.8,372.0 107.3,392.0 113.1,401.0" fill="none" stroke="#ef9a74" stroke-width="0.7" stroke-opacity="1" stroke-linejoin="round"/>
<polyline points="91.0,400.0 95.1,348.0 98.3,350.4 104.9,384.2 111.0,396.5 121.2,402.0" fill="none" stroke="#7686a8" stroke-width="0.7" stroke-opacity="1" stroke-linejoin="round"/>
<polyline points="86.5,405.8 92.6,382.7 95.9,375.0 98.7,392.0 104.9,401.0 117.1,405.0" fill="none" stroke="#4a6be0" stroke-width="0.7" stroke-opacity="1" stroke-linejoin="round"/>
<polyline points="88.5,404.0 94.7,386.0 97.9,380.0 101.6,395.0 109.0,403.0" fill="none" stroke="#8796ea" stroke-width="0.7" stroke-opacity="1" stroke-linejoin="round"/>
<polyline points="78.3,404.0 84.4,392.0 87.3,379.6 90.6,387.3 94.7,394.0 100.8,399.0" fill="none" stroke="#5a9b9b" stroke-width="0.7" stroke-opacity="1" stroke-linejoin="round"/>
<polyline points="92.6,400.0 97.5,356.0 100.8,362.0 105.7,388.0 111.0,399.0" fill="none" stroke="#8ad0ee" stroke-width="0.7" stroke-opacity="1" stroke-linejoin="round"/>
<polyline points="58.3,386.5 59.9,388.8 70.1,387.8 80.3,392.0 86.5,396.0 92.6,400.0" fill="none" stroke="#b5a8e2" stroke-width="0.7" stroke-opacity="1" stroke-linejoin="round"/>
<polyline points="111.0,399.0 119.6,390.0 125.7,382.7 141.7,383.5 165.8,387.3 178.1,392.0" fill="none" stroke="#d9544f" stroke-width="0.7" stroke-opacity="1" stroke-linejoin="round"/>
<polyline points="108.2,398.0 120.8,387.3 127.0,382.7 141.3,382.7 156.4,392.0 167.5,398.0 178.5,401.0" fill="none" stroke="#e98f8a" stroke-width="0.7" stroke-opacity="1" stroke-linejoin="round"/>
<polyline points="137.6,395.0 150.3,382.7 158.1,381.2 164.2,385.8 173.6,392.0 178.1,396.5" fill="none" stroke="#f3b9b4" stroke-width="0.7" stroke-opacity="1" stroke-linejoin="round"/>
<polyline points="159.7,395.0 166.6,390.4 170.3,396.5" fill="none" stroke="#b5a8e2" stroke-width="0.7" stroke-opacity="1" stroke-linejoin="round"/>
<polyline points="104.9,392.0 113.1,396.0 125.3,398.0 137.6,400.0" fill="none" stroke="#8ad0ee" stroke-width="0.7" stroke-opacity="1" stroke-linejoin="round"/>
<polyline points="113.1,396.0 129.4,394.0 145.8,396.0 162.1,393.0 178.5,395.0" fill="none" stroke="#b5a8e2" stroke-width="0.7" stroke-opacity="1" stroke-linejoin="round"/>
<polyline points="109.0,392.0 121.2,395.0 137.6,397.0 158.1,397.5 182.6,398.0" fill="none" stroke="#a8daf0" stroke-width="0.7" stroke-opacity="1" stroke-linejoin="round"/>
<polyline points="117.1,398.0 133.5,396.0 149.9,397.0 166.2,395.0 180.5,398.0" fill="none" stroke="#8796ea" stroke-width="0.7" stroke-opacity="1" stroke-linejoin="round"/>
<polyline points="121.2,399.0 137.6,395.5 154.0,397.0 170.3,394.5 182.6,397.0" fill="none" stroke="#ef9a74" stroke-width="0.7" stroke-opacity="1" stroke-linejoin="round"/>
<polyline points="113.1,397.0 129.4,397.5 145.8,395.0 162.1,396.5 178.5,399.0" fill="none" stroke="#f3b9b4" stroke-width="0.7" stroke-opacity="1" stroke-linejoin="round"/>
<polyline points="109.0,400.0 129.4,398.0 154.0,399.0 178.5,398.0" fill="none" stroke="#7686a8" stroke-width="0.7" stroke-opacity="1" stroke-linejoin="round"/>
<polyline points="95.9,343.0 101.6,333.0 105.3,325.5 108.6,324.2 111.4,330.0 117.1,341.0 125.3,345.6 128.0,367.3 130.2,379.6 138.0,394.7 145.8,388.8 150.1,365.8 153.6,382.4 157.2,379.6 165.0,386.5 169.9,379.3 174.8,388.0 178.5,369.2 183.0,388.8" fill="none" stroke="#ef9a74" stroke-width="0.7" stroke-opacity="1" stroke-linejoin="round"/>
<line x1="55.80" y1="365.60" x2="181.00" y2="365.60" stroke="#555" stroke-width="0.8" stroke-dasharray="1,1.25"/>
<polyline points="55.8,411.0 64.0,410.5 76.2,408.0 86.1,402.0 94.2,392.0 99.2,382.7 104.3,352.0 107.7,361.2 110.8,381.2 112.7,395.0 117.6,393.5 123.7,401.6 130.2,399.6 137.6,403.0 145.8,401.6 154.0,403.6 162.1,401.8 170.3,403.8 178.5,402.8 183.8,403.4" fill="none" stroke="#2a2a2a" stroke-width="1.35" stroke-dasharray="3.2,2.0" stroke-linejoin="round"/>
</g>
<line x1="55.80" y1="324.40" x2="55.80" y2="412.70" stroke="#111" stroke-width="1.3"/>
<line x1="55.20" y1="412.10" x2="185.80" y2="412.10" stroke="#111" stroke-width="1.3"/>
<line x1="52.20" y1="327.90" x2="55.80" y2="327.90" stroke="#111" stroke-width="1.0"/>
<text transform="translate(49.10 330.85) scale(1.0700 1)" font-size="8.6" text-anchor="end">60000</text>
<line x1="52.20" y1="334.60" x2="55.80" y2="334.60" stroke="#111" stroke-width="1.0"/>
<text transform="translate(49.10 337.55) scale(1.0700 1)" font-size="8.6" text-anchor="end">40000</text>
<line x1="52.20" y1="341.30" x2="55.80" y2="341.30" stroke="#111" stroke-width="1.0"/>
<text transform="translate(49.10 344.25) scale(1.0700 1)" font-size="8.6" text-anchor="end">20000</text>
<line x1="52.20" y1="348.10" x2="55.80" y2="348.10" stroke="#111" stroke-width="1.0"/>
<text transform="translate(49.10 351.05) scale(1.0700 1)" font-size="8.6" text-anchor="end">6000</text>
<line x1="52.20" y1="358.70" x2="55.80" y2="358.70" stroke="#111" stroke-width="1.0"/>
<text transform="translate(49.10 361.65) scale(1.0700 1)" font-size="8.6" text-anchor="end">5000</text>
<line x1="52.20" y1="369.20" x2="55.80" y2="369.20" stroke="#111" stroke-width="1.0"/>
<text transform="translate(49.10 372.15) scale(1.0700 1)" font-size="8.6" text-anchor="end">4000</text>
<line x1="52.20" y1="380.00" x2="55.80" y2="380.00" stroke="#111" stroke-width="1.0"/>
<text transform="translate(49.10 382.95) scale(1.0700 1)" font-size="8.6" text-anchor="end">3000</text>
<line x1="52.20" y1="390.80" x2="55.80" y2="390.80" stroke="#111" stroke-width="1.0"/>
<text transform="translate(49.10 393.75) scale(1.0700 1)" font-size="8.6" text-anchor="end">2000</text>
<line x1="52.20" y1="401.30" x2="55.80" y2="401.30" stroke="#111" stroke-width="1.0"/>
<text transform="translate(49.10 404.25) scale(1.0700 1)" font-size="8.6" text-anchor="end">1000</text>
<line x1="52.20" y1="412.10" x2="55.80" y2="412.10" stroke="#111" stroke-width="1.0"/>
<text transform="translate(49.10 415.05) scale(1.0700 1)" font-size="8.6" text-anchor="end">0</text>
<line x1="55.80" y1="412.10" x2="55.80" y2="415.30" stroke="#111" stroke-width="1.0"/>
<text transform="translate(55.80 426.90) scale(1.0600 1)" font-size="8.7" text-anchor="middle">0</text>
<line x1="59.89" y1="412.10" x2="59.89" y2="414.00" stroke="#111" stroke-width="0.7"/>
<line x1="63.98" y1="412.10" x2="63.98" y2="414.00" stroke="#111" stroke-width="0.7"/>
<line x1="68.07" y1="412.10" x2="68.07" y2="414.00" stroke="#111" stroke-width="0.7"/>
<line x1="72.16" y1="412.10" x2="72.16" y2="414.00" stroke="#111" stroke-width="0.7"/>
<line x1="76.25" y1="412.10" x2="76.25" y2="414.00" stroke="#111" stroke-width="0.7"/>
<line x1="80.34" y1="412.10" x2="80.34" y2="414.00" stroke="#111" stroke-width="0.7"/>
<line x1="84.43" y1="412.10" x2="84.43" y2="414.00" stroke="#111" stroke-width="0.7"/>
<line x1="88.52" y1="412.10" x2="88.52" y2="414.00" stroke="#111" stroke-width="0.7"/>
<line x1="92.61" y1="412.10" x2="92.61" y2="414.00" stroke="#111" stroke-width="0.7"/>
<line x1="96.70" y1="412.10" x2="96.70" y2="415.30" stroke="#111" stroke-width="1.0"/>
<text transform="translate(96.70 426.90) scale(1.0600 1)" font-size="8.7" text-anchor="middle">10</text>
<line x1="100.79" y1="412.10" x2="100.79" y2="414.00" stroke="#111" stroke-width="0.7"/>
<line x1="104.88" y1="412.10" x2="104.88" y2="414.00" stroke="#111" stroke-width="0.7"/>
<line x1="108.97" y1="412.10" x2="108.97" y2="414.00" stroke="#111" stroke-width="0.7"/>
<line x1="113.06" y1="412.10" x2="113.06" y2="414.00" stroke="#111" stroke-width="0.7"/>
<line x1="117.15" y1="412.10" x2="117.15" y2="414.00" stroke="#111" stroke-width="0.7"/>
<line x1="121.24" y1="412.10" x2="121.24" y2="414.00" stroke="#111" stroke-width="0.7"/>
<line x1="125.33" y1="412.10" x2="125.33" y2="414.00" stroke="#111" stroke-width="0.7"/>
<line x1="129.42" y1="412.10" x2="129.42" y2="414.00" stroke="#111" stroke-width="0.7"/>
<line x1="133.51" y1="412.10" x2="133.51" y2="414.00" stroke="#111" stroke-width="0.7"/>
<line x1="137.60" y1="412.10" x2="137.60" y2="415.30" stroke="#111" stroke-width="1.0"/>
<text transform="translate(137.60 426.90) scale(1.0600 1)" font-size="8.7" text-anchor="middle">20</text>
<line x1="141.69" y1="412.10" x2="141.69" y2="414.00" stroke="#111" stroke-width="0.7"/>
<line x1="145.78" y1="412.10" x2="145.78" y2="414.00" stroke="#111" stroke-width="0.7"/>
<line x1="149.87" y1="412.10" x2="149.87" y2="414.00" stroke="#111" stroke-width="0.7"/>
<line x1="153.96" y1="412.10" x2="153.96" y2="414.00" stroke="#111" stroke-width="0.7"/>
<line x1="158.05" y1="412.10" x2="158.05" y2="414.00" stroke="#111" stroke-width="0.7"/>
<line x1="162.14" y1="412.10" x2="162.14" y2="414.00" stroke="#111" stroke-width="0.7"/>
<line x1="166.23" y1="412.10" x2="166.23" y2="414.00" stroke="#111" stroke-width="0.7"/>
<line x1="170.32" y1="412.10" x2="170.32" y2="414.00" stroke="#111" stroke-width="0.7"/>
<line x1="174.41" y1="412.10" x2="174.41" y2="414.00" stroke="#111" stroke-width="0.7"/>
<line x1="178.50" y1="412.10" x2="178.50" y2="415.30" stroke="#111" stroke-width="1.0"/>
<text transform="translate(178.50 426.90) scale(1.0600 1)" font-size="8.7" text-anchor="middle">30</text>
<line x1="182.59" y1="412.10" x2="182.59" y2="414.00" stroke="#111" stroke-width="0.7"/>
<text transform="translate(120.90 440.60) scale(0.6914 1)" font-size="9.7" text-anchor="middle" font-weight="bold" fill="#1a1a1a">Days post CAR T cell infusion</text>
<text transform="translate(17.50 368.30) rotate(-90) scale(0.7229 1)" font-size="10.2" text-anchor="middle" font-weight="bold" fill="#1a1a1a">ALC/µl</text>
<line x1="53.90" y1="348.90" x2="57.80" y2="344.90" stroke="#111" stroke-width="1.8"/>
<text x="163.00" y="333.60" font-size="8.8" text-anchor="start">SR</text>
<g>
<polyline points="282.1,405.5 284.2,402.0 287.2,395.0 289.5,385.8 293.1,387.0 296.9,398.0 300.2,405.8 306.1,408.0" fill="none" stroke="#8ad0ee" stroke-width="0.75" stroke-opacity="1" stroke-linejoin="round"/>
<polyline points="285.1,402.4 297.7,402.2 314.6,402.2" fill="none" stroke="#a8daf0" stroke-width="0.75" stroke-opacity="1" stroke-linejoin="round"/>
<polyline points="247.2,406.5 259.8,405.2 272.5,404.0 276.7,407.3 285.1,403.5 289.3,403.0 297.7,405.0 301.9,407.5 306.1,405.5 310.3,408.0 331.4,409.0" fill="none" stroke="#5a9b9b" stroke-width="0.75" stroke-opacity="1" stroke-linejoin="round"/>
<polyline points="247.2,407.5 264.0,406.0 280.9,407.0 297.7,406.5 323.0,408.5 365.1,409.0" fill="none" stroke="#b4dada" stroke-width="0.75" stroke-opacity="1" stroke-linejoin="round"/>
<polyline points="310.3,409.5 323.8,408.0 331.4,405.8 347.8,398.0 365.3,387.6" fill="none" stroke="#b5a8e2" stroke-width="0.75" stroke-opacity="1" stroke-linejoin="round"/>
<polyline points="247.2,409.0 263.0,407.3 272.5,410.4 280.9,408.0 288.5,405.0 293.5,406.5 300.7,410.4 314.6,410.5 348.2,410.0 377.7,410.5" fill="none" stroke="#d9544f" stroke-width="0.75" stroke-opacity="1" stroke-linejoin="round"/>
<polyline points="247.2,410.0 268.2,409.5 285.1,407.5 293.5,408.0 306.1,410.5 339.8,409.5 377.7,408.5" fill="none" stroke="#e98f8a" stroke-width="0.75" stroke-opacity="1" stroke-linejoin="round"/>
<polyline points="290.1,410.6 294.4,408.0 297.7,405.0 301.1,409.0 306.1,411.0" fill="none" stroke="#4a6be0" stroke-width="0.75" stroke-opacity="1" stroke-linejoin="round"/>
<polyline points="247.2,410.8 264.0,410.0 280.9,409.0 297.7,409.5 314.6,408.0 331.4,409.5 356.7,408.5 373.5,410.0" fill="none" stroke="#8796ea" stroke-width="0.75" stroke-opacity="1" stroke-linejoin="round"/>
<polyline points="247.2,411.0 272.5,410.6 297.7,409.5 323.0,410.5 348.2,410.2 377.7,409.5" fill="none" stroke="#ef9a74" stroke-width="0.75" stroke-opacity="1" stroke-linejoin="round"/>
<polyline points="247.2,409.8 268.2,410.4 289.3,408.6 310.3,410.0 339.8,410.6 369.3,410.2" fill="none" stroke="#7686a8" stroke-width="0.75" stroke-opacity="1" stroke-linejoin="round"/>
<line x1="247.20" y1="357.80" x2="376.40" y2="357.80" stroke="#555" stroke-width="0.8" stroke-dasharray="1,1.25"/>
<line x1="247.20" y1="398.30" x2="376.40" y2="398.30" stroke="#555" stroke-width="0.8" stroke-dasharray="1,1.25"/>
<polyline points="247.2,410.4 251.4,411.0 259.8,409.0 268.2,409.6 272.5,407.3 276.7,409.0 285.9,404.2 289.3,402.0 293.5,403.0 297.7,402.7 301.1,407.3 306.1,408.8 313.7,407.3 318.8,408.2 327.2,409.2 335.6,408.4 344.0,409.4 352.4,408.6 360.9,408.6 363.8,406.0 367.6,409.4 373.5,410.4" fill="none" stroke="#16164a" stroke-width="1.5" stroke-dasharray="3,1.7" stroke-linejoin="round"/>
</g>
<line x1="247.20" y1="325.00" x2="247.20" y2="412.70" stroke="#111" stroke-width="1.3"/>
<line x1="246.60" y1="412.10" x2="380.80" y2="412.10" stroke="#111" stroke-width="1.3"/>
<line x1="243.60" y1="337.50" x2="247.20" y2="337.50" stroke="#111" stroke-width="1.0"/>
<text transform="translate(240.80 340.45) scale(1.0700 1)" font-size="8.6" text-anchor="end">6000</text>
<line x1="243.60" y1="362.50" x2="247.20" y2="362.50" stroke="#111" stroke-width="1.0"/>
<text transform="translate(240.80 365.45) scale(1.0700 1)" font-size="8.6" text-anchor="end">4000</text>
<line x1="243.60" y1="387.20" x2="247.20" y2="387.20" stroke="#111" stroke-width="1.0"/>
<text transform="translate(240.80 390.15) scale(1.0700 1)" font-size="8.6" text-anchor="end">2000</text>
<line x1="243.60" y1="412.10" x2="247.20" y2="412.10" stroke="#111" stroke-width="1.0"/>
<text transform="translate(240.80 415.05) scale(1.0700 1)" font-size="8.6" text-anchor="end">0</text>
<line x1="247.20" y1="412.10" x2="247.20" y2="415.30" stroke="#111" stroke-width="1.0"/>
<text transform="translate(247.20 426.90) scale(1.0600 1)" font-size="8.7" text-anchor="middle">0</text>
<line x1="251.41" y1="412.10" x2="251.41" y2="414.00" stroke="#111" stroke-width="0.7"/>
<line x1="255.62" y1="412.10" x2="255.62" y2="414.00" stroke="#111" stroke-width="0.7"/>
<line x1="259.83" y1="412.10" x2="259.83" y2="414.00" stroke="#111" stroke-width="0.7"/>
<line x1="264.04" y1="412.10" x2="264.04" y2="414.00" stroke="#111" stroke-width="0.7"/>
<line x1="268.25" y1="412.10" x2="268.25" y2="414.00" stroke="#111" stroke-width="0.7"/>
<line x1="272.46" y1="412.10" x2="272.46" y2="414.00" stroke="#111" stroke-width="0.7"/>
<line x1="276.67" y1="412.10" x2="276.67" y2="414.00" stroke="#111" stroke-width="0.7"/>
<line x1="280.88" y1="412.10" x2="280.88" y2="414.00" stroke="#111" stroke-width="0.7"/>
<line x1="285.09" y1="412.10" x2="285.09" y2="414.00" stroke="#111" stroke-width="0.7"/>
<line x1="289.30" y1="412.10" x2="289.30" y2="415.30" stroke="#111" stroke-width="1.0"/>
<text transform="translate(289.30 426.90) scale(1.0600 1)" font-size="8.7" text-anchor="middle">10</text>
<line x1="293.51" y1="412.10" x2="293.51" y2="414.00" stroke="#111" stroke-width="0.7"/>
<line x1="297.72" y1="412.10" x2="297.72" y2="414.00" stroke="#111" stroke-width="0.7"/>
<line x1="301.93" y1="412.10" x2="301.93" y2="414.00" stroke="#111" stroke-width="0.7"/>
<line x1="306.14" y1="412.10" x2="306.14" y2="414.00" stroke="#111" stroke-width="0.7"/>
<line x1="310.35" y1="412.10" x2="310.35" y2="414.00" stroke="#111" stroke-width="0.7"/>
<line x1="314.56" y1="412.10" x2="314.56" y2="414.00" stroke="#111" stroke-width="0.7"/>
<line x1="318.77" y1="412.10" x2="318.77" y2="414.00" stroke="#111" stroke-width="0.7"/>
<line x1="322.98" y1="412.10" x2="322.98" y2="414.00" stroke="#111" stroke-width="0.7"/>
<line x1="327.19" y1="412.10" x2="327.19" y2="414.00" stroke="#111" stroke-width="0.7"/>
<line x1="331.40" y1="412.10" x2="331.40" y2="415.30" stroke="#111" stroke-width="1.0"/>
<text transform="translate(331.40 426.90) scale(1.0600 1)" font-size="8.7" text-anchor="middle">20</text>
<line x1="335.61" y1="412.10" x2="335.61" y2="414.00" stroke="#111" stroke-width="0.7"/>
<line x1="339.82" y1="412.10" x2="339.82" y2="414.00" stroke="#111" stroke-width="0.7"/>
<line x1="344.03" y1="412.10" x2="344.03" y2="414.00" stroke="#111" stroke-width="0.7"/>
<line x1="348.24" y1="412.10" x2="348.24" y2="414.00" stroke="#111" stroke-width="0.7"/>
<line x1="352.45" y1="412.10" x2="352.45" y2="414.00" stroke="#111" stroke-width="0.7"/>
<line x1="356.66" y1="412.10" x2="356.66" y2="414.00" stroke="#111" stroke-width="0.7"/>
<line x1="360.87" y1="412.10" x2="360.87" y2="414.00" stroke="#111" stroke-width="0.7"/>
<line x1="365.08" y1="412.10" x2="365.08" y2="414.00" stroke="#111" stroke-width="0.7"/>
<line x1="369.29" y1="412.10" x2="369.29" y2="414.00" stroke="#111" stroke-width="0.7"/>
<line x1="373.50" y1="412.10" x2="373.50" y2="415.30" stroke="#111" stroke-width="1.0"/>
<text transform="translate(373.50 426.90) scale(1.0600 1)" font-size="8.7" text-anchor="middle">30</text>
<line x1="377.71" y1="412.10" x2="377.71" y2="414.00" stroke="#111" stroke-width="0.7"/>
<text transform="translate(312.50 440.60) scale(0.6914 1)" font-size="9.7" text-anchor="middle" font-weight="bold" fill="#1a1a1a">Days post CAR T cell infusion</text>
<text transform="translate(213.20 368.70) rotate(-90) scale(0.7229 1)" font-size="10.2" text-anchor="middle" font-weight="bold" fill="#1a1a1a">ALC/µl</text>
<text x="363.00" y="333.90" font-size="8.8" text-anchor="start">NR</text>
<g>
<polyline points="67.6,557.1 80.2,555.2 84.4,554.2 92.8,552.3 97.0,551.0 109.6,553.7 122.2,556.2 134.8,557.2 147.4,557.2 151.6,557.2 160.0,557.0" fill="none" stroke="#e98f8a" stroke-width="0.55" stroke-opacity="0.9" stroke-linejoin="round"/>
<polyline points="59.2,557.5 67.6,557.0 80.2,555.3 84.4,554.8 92.8,552.5 105.4,552.7 109.6,552.8 113.8,553.7 122.2,554.3 126.4,553.8 130.6,554.8 134.8,554.6 147.4,554.9 160.0,554.8 168.4,555.3 176.8,555.4" fill="none" stroke="#5a9b9b" stroke-width="0.55" stroke-opacity="0.9" stroke-linejoin="round"/>
<polyline points="50.8,556.8 59.2,556.2 67.6,554.8 76.0,554.3 88.6,552.9 101.2,553.4 105.4,554.6 118.0,554.9 122.2,555.2 134.8,554.4 147.4,555.0 151.6,555.8 160.0,555.7 168.4,556.0 181.0,555.7" fill="none" stroke="#f3b9b4" stroke-width="0.55" stroke-opacity="0.9" stroke-linejoin="round"/>
<polyline points="50.8,558.0 63.4,556.5 76.0,554.5 88.6,551.7 97.0,553.0 105.4,552.7 113.8,553.2 122.2,553.4 134.8,554.6 147.4,553.7 160.0,555.1 164.2,555.1 168.4,554.5" fill="none" stroke="#6cb7c9" stroke-width="0.55" stroke-opacity="0.9" stroke-linejoin="round"/>
<polyline points="55.0,557.9 59.2,558.0 71.8,556.9 84.4,555.1 92.8,553.3 101.2,549.3 105.4,551.3 118.0,553.7 122.2,554.3 130.6,554.3 139.0,555.2 147.4,554.3 155.8,554.7 168.4,555.0 176.8,555.1 181.0,555.2" fill="none" stroke="#8796ea" stroke-width="0.55" stroke-opacity="0.9" stroke-linejoin="round"/>
<polyline points="50.8,557.3 55.0,557.3 67.6,556.8 71.8,556.3 80.2,556.2 88.6,556.4 101.2,555.0 113.8,556.8 118.0,557.1 130.6,557.8 143.2,557.7 147.4,557.7 151.6,557.9 155.8,557.5 168.4,557.7" fill="none" stroke="#b5a8e2" stroke-width="0.55" stroke-opacity="0.9" stroke-linejoin="round"/>
<polyline points="67.6,556.4 80.2,555.7 84.4,554.7 88.6,552.9 101.2,552.1 113.8,555.8 118.0,556.5 126.4,557.2 134.8,557.5 143.2,557.5 155.8,557.7 164.2,557.8" fill="none" stroke="#5b7bd5" stroke-width="0.55" stroke-opacity="0.9" stroke-linejoin="round"/>
<polyline points="50.8,558.6 63.4,557.5 67.6,556.9 76.0,555.9 80.2,555.5 88.6,551.5 101.2,551.7 113.8,553.3 122.2,553.3 134.8,554.1 139.0,553.6 147.4,553.7 151.6,554.1 160.0,554.4 168.4,554.4 181.0,555.4" fill="none" stroke="#d9544f" stroke-width="0.55" stroke-opacity="0.9" stroke-linejoin="round"/>
<polyline points="59.2,557.7 71.8,557.2 80.2,555.1 88.6,555.5 101.2,557.7 105.4,557.5 118.0,557.7 126.4,558.0 134.8,557.9 147.4,558.0 155.8,558.0 164.2,558.2 176.8,558.2" fill="none" stroke="#8ad0ee" stroke-width="0.55" stroke-opacity="0.9" stroke-linejoin="round"/>
<polyline points="67.6,556.5 80.2,555.8 88.6,555.3 92.8,554.7 105.4,547.5 113.8,549.8 122.2,551.3 126.4,551.4 130.6,552.4 139.0,551.5 147.4,552.0 151.6,552.7" fill="none" stroke="#3c4460" stroke-width="0.55" stroke-opacity="0.9" stroke-linejoin="round"/>
<polyline points="50.8,557.6 63.4,556.5 76.0,550.6 88.6,551.6 92.8,552.8 105.4,556.4 113.8,556.8 126.4,557.1 139.0,557.3 151.6,557.5 164.2,557.2" fill="none" stroke="#9ab0e8" stroke-width="0.55" stroke-opacity="0.9" stroke-linejoin="round"/>
<polyline points="55.0,558.3 67.6,557.9 80.2,557.2 92.8,553.2 105.4,548.0 118.0,555.2 122.2,555.5 126.4,555.9 139.0,556.7 151.6,557.0 164.2,556.9 172.6,557.0" fill="none" stroke="#4a6be0" stroke-width="0.55" stroke-opacity="0.9" stroke-linejoin="round"/>
<polyline points="67.6,556.2 76.0,552.9 84.4,551.3 92.8,553.2 105.4,556.4 118.0,557.4 130.6,557.2 139.0,557.3 151.6,557.7 164.2,557.3 176.8,557.7" fill="none" stroke="#b4dada" stroke-width="0.55" stroke-opacity="0.9" stroke-linejoin="round"/>
<polyline points="67.6,555.5 76.0,553.6 84.4,552.3 92.8,551.4 101.2,549.5 109.6,551.1 118.0,552.5 126.4,553.7 139.0,553.3 151.6,554.0 160.0,554.7 164.2,554.9 176.8,554.2" fill="none" stroke="#c44" stroke-width="0.55" stroke-opacity="0.9" stroke-linejoin="round"/>
<polyline points="50.8,558.8 55.0,558.5 67.6,558.0 80.2,556.8 88.6,554.6 97.0,553.3 105.4,553.9 109.6,555.4 118.0,556.0 130.6,557.1 134.8,556.9 147.4,557.0 155.8,557.1 168.4,557.2 172.6,556.9" fill="none" stroke="#ef9a74" stroke-width="0.55" stroke-opacity="0.9" stroke-linejoin="round"/>
<polyline points="55.0,557.9 59.2,557.4 71.8,557.0 80.2,556.2 88.6,552.5 97.0,555.1 101.2,555.7 109.6,556.4 122.2,557.2 130.6,556.7 139.0,556.9 147.4,557.2" fill="none" stroke="#a8daf0" stroke-width="0.55" stroke-opacity="0.9" stroke-linejoin="round"/>
<polyline points="55.0,558.3 63.4,557.1 76.0,554.1 88.6,551.4 101.2,545.8 109.6,548.7 122.2,549.4 126.4,551.8 130.6,550.4 139.0,551.5 151.6,552.7 160.0,551.5 164.2,552.8 172.6,552.5 181.0,552.1" fill="none" stroke="#7686a8" stroke-width="0.55" stroke-opacity="0.9" stroke-linejoin="round"/>
<polyline points="55.0,557.6 59.2,557.7 67.6,557.5 76.0,556.9 88.6,556.1 92.8,556.0 105.4,556.9 118.0,557.5 126.4,557.6 134.8,557.6 143.2,557.7 151.6,557.7 160.0,558.0" fill="none" stroke="#e7a08c" stroke-width="0.55" stroke-opacity="0.9" stroke-linejoin="round"/>
<polyline points="59.2,556.8 67.6,556.0 76.0,554.6 88.6,551.1 97.0,545.0 101.2,542.3 113.8,551.0 122.2,550.7 126.4,552.3 139.0,551.8 147.4,551.2 155.8,552.2 160.0,552.6 168.4,552.1" fill="none" stroke="#e98f8a" stroke-width="0.55" stroke-opacity="0.9" stroke-linejoin="round"/>
<polyline points="50.8,557.2 59.2,556.5 71.8,554.7 84.4,552.3 92.8,549.7 105.4,546.9 118.0,550.4 126.4,551.5 134.8,552.8 143.2,552.4 151.6,551.9 155.8,552.5 160.0,553.3 172.6,554.0 176.8,553.9" fill="none" stroke="#5a9b9b" stroke-width="0.55" stroke-opacity="0.9" stroke-linejoin="round"/>
<polyline points="50.8,558.3 59.2,557.8 67.6,557.2 71.8,557.0 84.4,556.0 97.0,553.0 105.4,552.7 113.8,554.2 122.2,555.1 134.8,555.6 147.4,555.3 155.8,555.8 164.2,555.7 176.8,555.5" fill="none" stroke="#f3b9b4" stroke-width="0.55" stroke-opacity="0.9" stroke-linejoin="round"/>
<polyline points="67.6,556.9 76.0,554.8 88.6,549.9 97.0,549.0 105.4,553.2 113.8,555.4 122.2,555.9 126.4,556.1 139.0,556.0 147.4,556.3 155.8,556.3 164.2,556.5 176.8,556.7" fill="none" stroke="#6cb7c9" stroke-width="0.55" stroke-opacity="0.9" stroke-linejoin="round"/>
<polyline points="50.8,556.8 59.2,555.0 71.8,551.6 76.0,547.5 84.4,544.3 92.8,548.4 105.4,552.5 113.8,551.5 126.4,553.8 139.0,553.6 151.6,554.2" fill="none" stroke="#8796ea" stroke-width="0.55" stroke-opacity="0.9" stroke-linejoin="round"/>
<polyline points="59.2,557.8 67.6,557.2 80.2,554.6 92.8,555.6 105.4,556.8 113.8,556.8 122.2,557.0 134.8,557.2 139.0,557.1 143.2,557.4 151.6,557.1" fill="none" stroke="#b5a8e2" stroke-width="0.55" stroke-opacity="0.9" stroke-linejoin="round"/>
<polyline points="67.6,555.4 80.2,553.7 88.6,552.4 101.2,543.5 109.6,546.5 122.2,551.4 130.6,551.6 134.8,552.8 139.0,553.3 147.4,552.6 155.8,552.6 168.4,554.4 181.0,553.1" fill="none" stroke="#5b7bd5" stroke-width="0.55" stroke-opacity="0.9" stroke-linejoin="round"/>
<polyline points="55.0,557.8 63.4,556.3 76.0,555.1 84.4,551.1 97.0,551.2 105.4,552.2 118.0,551.9 126.4,552.7 130.6,553.1 139.0,553.5 147.4,552.7 160.0,552.9" fill="none" stroke="#d9544f" stroke-width="0.55" stroke-opacity="0.9" stroke-linejoin="round"/>
<polyline points="50.8,556.9 59.2,556.5 71.8,556.2 84.4,556.6 92.8,556.2 105.4,557.4 118.0,558.0 130.6,558.2 143.2,558.0 147.4,558.2 155.8,558.1 160.0,558.2 172.6,558.2 176.8,558.1" fill="none" stroke="#8ad0ee" stroke-width="0.55" stroke-opacity="0.9" stroke-linejoin="round"/>
<polyline points="50.8,558.8 55.0,558.3 67.6,557.4 80.2,556.1 92.8,550.9 101.2,541.7 113.8,551.2 122.2,550.5 126.4,552.2 134.8,553.1 147.4,552.3 151.6,552.5 155.8,552.2 168.4,553.6 181.0,554.0" fill="none" stroke="#3c4460" stroke-width="0.55" stroke-opacity="0.9" stroke-linejoin="round"/>
<polyline points="55.0,556.5 63.4,555.4 76.0,554.5 84.4,554.6 97.0,550.8 105.4,550.0 113.8,552.0 122.2,553.0 134.8,554.1 143.2,553.4 151.6,553.6 160.0,554.5" fill="none" stroke="#9ab0e8" stroke-width="0.55" stroke-opacity="0.9" stroke-linejoin="round"/>
<polyline points="50.8,558.9 59.2,557.6 71.8,555.7 80.2,554.8 88.6,553.0 101.2,549.1 113.8,549.7 126.4,550.4 134.8,549.9 143.2,551.0 155.8,551.6 164.2,552.3 172.6,552.5" fill="none" stroke="#4a6be0" stroke-width="0.55" stroke-opacity="0.9" stroke-linejoin="round"/>
<polyline points="59.2,558.5 71.8,557.9 84.4,554.5 97.0,553.3 105.4,556.5 113.8,556.9 126.4,557.1 134.8,557.4 139.0,557.4 147.4,557.4 155.8,557.7 168.4,557.7 176.8,557.8" fill="none" stroke="#b4dada" stroke-width="0.55" stroke-opacity="0.9" stroke-linejoin="round"/>
<polyline points="55.0,557.9 67.6,556.3 76.0,555.4 84.4,554.8 88.6,553.9 92.8,553.9 101.2,547.0 113.8,549.2 122.2,551.4 134.8,550.5 147.4,552.8 155.8,551.4 164.2,552.6" fill="none" stroke="#c44" stroke-width="0.55" stroke-opacity="0.9" stroke-linejoin="round"/>
<polyline points="55.0,557.5 67.6,557.2 80.2,557.0 88.6,556.3 97.0,557.3 101.2,557.0 109.6,557.6 122.2,557.8 134.8,558.0 147.4,557.8 160.0,558.0 168.4,558.1" fill="none" stroke="#ef9a74" stroke-width="0.55" stroke-opacity="0.9" stroke-linejoin="round"/>
<polyline points="55.0,556.5 67.6,556.3 71.8,556.3 76.0,556.2 88.6,555.2 101.2,548.2 109.6,553.5 113.8,556.4 126.4,557.3 139.0,557.0 151.6,557.3 164.2,557.3 176.8,557.7" fill="none" stroke="#a8daf0" stroke-width="0.55" stroke-opacity="0.9" stroke-linejoin="round"/>
<polyline points="50.8,552.0 63.4,545.0 76.0,545.8 78.1,555.0 80.2,533.5 82.7,545.0 87.3,547.4 93.0,505.8 97.4,508.2 101.2,523.5 105.8,538.5 109.6,535.5 122.2,544.3 143.2,544.3 165.9,549.7 181.0,555.0" fill="none" stroke="#ef9a74" stroke-width="0.8" stroke-opacity="1" stroke-linejoin="round"/>
<polyline points="50.8,534.3 63.4,526.2 82.7,537.0 93.0,536.6 97.0,517.7 110.4,533.0 122.2,535.8 139.0,533.8 164.2,537.4" fill="none" stroke="#8796ea" stroke-width="0.8" stroke-opacity="1" stroke-linejoin="round"/>
<polyline points="80.2,555.0 90.7,548.0 94.5,540.0 97.4,534.3 101.2,538.0 105.4,546.0 113.8,550.0 134.8,552.0" fill="none" stroke="#5a9b9b" stroke-width="0.8" stroke-opacity="1" stroke-linejoin="round"/>
<polyline points="76.0,554.0 84.4,545.0 90.7,546.0 94.9,543.0 97.8,541.2 102.9,546.0 109.6,549.0 126.4,550.0" fill="none" stroke="#a8daf0" stroke-width="0.8" stroke-opacity="1" stroke-linejoin="round"/>
<polyline points="73.9,556.0 80.2,544.0 84.4,541.0 87.8,547.0 92.8,545.5 101.2,543.0 106.2,548.0 118.0,551.0" fill="none" stroke="#8ad0ee" stroke-width="0.8" stroke-opacity="1" stroke-linejoin="round"/>
<polyline points="50.8,553.0 63.4,549.0 76.0,546.5 88.6,547.5 101.2,548.0 122.2,547.0 151.6,548.5 176.8,551.0" fill="none" stroke="#b5a8e2" stroke-width="0.8" stroke-opacity="1" stroke-linejoin="round"/>
<polyline points="50.8,556.0 63.4,552.0 75.2,546.8 88.6,547.6 105.4,549.0 126.4,548.0 155.8,549.5 176.8,550.5" fill="none" stroke="#3c4460" stroke-width="0.8" stroke-opacity="1" stroke-linejoin="round"/>
<polyline points="67.6,557.0 78.1,551.0 84.4,548.0 91.1,546.0 97.0,544.5 105.4,548.0 118.0,550.0 139.0,548.0 160.0,549.5 181.0,552.5" fill="none" stroke="#4a6be0" stroke-width="0.8" stroke-opacity="1" stroke-linejoin="round"/>
<polyline points="50.8,557.5 71.8,556.0 88.6,551.0 101.2,549.0 118.0,548.5 134.8,547.5 155.8,549.0 181.0,551.5" fill="none" stroke="#d9544f" stroke-width="0.8" stroke-opacity="1" stroke-linejoin="round"/>
<polyline points="59.2,558.0 80.2,554.0 97.0,550.0 113.8,551.5 134.8,550.0 151.6,550.5 168.4,552.0 181.0,553.5" fill="none" stroke="#e98f8a" stroke-width="0.8" stroke-opacity="1" stroke-linejoin="round"/>
<polyline points="101.2,549.0 118.0,546.0 134.8,545.5 151.6,547.0 168.4,549.0" fill="none" stroke="#f3b9b4" stroke-width="0.8" stroke-opacity="1" stroke-linejoin="round"/>
<line x1="50.80" y1="505.50" x2="180.40" y2="505.50" stroke="#555" stroke-width="0.8" stroke-dasharray="1,1.25"/>
<line x1="50.80" y1="546.00" x2="180.40" y2="546.00" stroke="#555" stroke-width="0.8" stroke-dasharray="1,1.25"/>
<polyline points="50.8,558.0 59.2,556.0 67.6,557.6 79.8,553.0 87.3,552.8 93.0,547.4 98.0,543.0 102.0,545.0 106.7,549.7 113.0,552.8 118.8,552.0 124.3,553.4 130.6,552.6 134.8,555.0 141.1,551.4 145.3,554.6 151.6,552.4 160.0,554.8 166.3,552.6 172.6,554.2 178.5,553.6" fill="none" stroke="#16164a" stroke-width="1.5" stroke-dasharray="3,1.7" stroke-linejoin="round"/>
</g>
<line x1="50.80" y1="472.50" x2="50.80" y2="559.90" stroke="#111" stroke-width="1.3"/>
<line x1="50.20" y1="559.30" x2="185.00" y2="559.30" stroke="#111" stroke-width="1.3"/>
<line x1="47.20" y1="485.20" x2="50.80" y2="485.20" stroke="#111" stroke-width="1.0"/>
<text transform="translate(44.40 488.15) scale(1.0700 1)" font-size="8.6" text-anchor="end">6000</text>
<line x1="47.20" y1="510.00" x2="50.80" y2="510.00" stroke="#111" stroke-width="1.0"/>
<text transform="translate(44.40 512.95) scale(1.0700 1)" font-size="8.6" text-anchor="end">4000</text>
<line x1="47.20" y1="534.60" x2="50.80" y2="534.60" stroke="#111" stroke-width="1.0"/>
<text transform="translate(44.40 537.55) scale(1.0700 1)" font-size="8.6" text-anchor="end">2000</text>
<line x1="47.20" y1="559.40" x2="50.80" y2="559.40" stroke="#111" stroke-width="1.0"/>
<text transform="translate(44.40 562.35) scale(1.0700 1)" font-size="8.6" text-anchor="end">0</text>
<line x1="50.80" y1="559.30" x2="50.80" y2="562.50" stroke="#111" stroke-width="1.0"/>
<text transform="translate(50.80 574.10) scale(1.0600 1)" font-size="8.7" text-anchor="middle">0</text>
<line x1="55.00" y1="559.30" x2="55.00" y2="561.20" stroke="#111" stroke-width="0.7"/>
<line x1="59.20" y1="559.30" x2="59.20" y2="561.20" stroke="#111" stroke-width="0.7"/>
<line x1="63.40" y1="559.30" x2="63.40" y2="561.20" stroke="#111" stroke-width="0.7"/>
<line x1="67.60" y1="559.30" x2="67.60" y2="561.20" stroke="#111" stroke-width="0.7"/>
<line x1="71.80" y1="559.30" x2="71.80" y2="561.20" stroke="#111" stroke-width="0.7"/>
<line x1="76.00" y1="559.30" x2="76.00" y2="561.20" stroke="#111" stroke-width="0.7"/>
<line x1="80.20" y1="559.30" x2="80.20" y2="561.20" stroke="#111" stroke-width="0.7"/>
<line x1="84.40" y1="559.30" x2="84.40" y2="561.20" stroke="#111" stroke-width="0.7"/>
<line x1="88.60" y1="559.30" x2="88.60" y2="561.20" stroke="#111" stroke-width="0.7"/>
<line x1="92.80" y1="559.30" x2="92.80" y2="562.50" stroke="#111" stroke-width="1.0"/>
<text transform="translate(92.80 574.10) scale(1.0600 1)" font-size="8.7" text-anchor="middle">10</text>
<line x1="97.00" y1="559.30" x2="97.00" y2="561.20" stroke="#111" stroke-width="0.7"/>
<line x1="101.20" y1="559.30" x2="101.20" y2="561.20" stroke="#111" stroke-width="0.7"/>
<line x1="105.40" y1="559.30" x2="105.40" y2="561.20" stroke="#111" stroke-width="0.7"/>
<line x1="109.60" y1="559.30" x2="109.60" y2="561.20" stroke="#111" stroke-width="0.7"/>
<line x1="113.80" y1="559.30" x2="113.80" y2="561.20" stroke="#111" stroke-width="0.7"/>
<line x1="118.00" y1="559.30" x2="118.00" y2="561.20" stroke="#111" stroke-width="0.7"/>
<line x1="122.20" y1="559.30" x2="122.20" y2="561.20" stroke="#111" stroke-width="0.7"/>
<line x1="126.40" y1="559.30" x2="126.40" y2="561.20" stroke="#111" stroke-width="0.7"/>
<line x1="130.60" y1="559.30" x2="130.60" y2="561.20" stroke="#111" stroke-width="0.7"/>
<line x1="134.80" y1="559.30" x2="134.80" y2="562.50" stroke="#111" stroke-width="1.0"/>
<text transform="translate(134.80 574.10) scale(1.0600 1)" font-size="8.7" text-anchor="middle">20</text>
<line x1="139.00" y1="559.30" x2="139.00" y2="561.20" stroke="#111" stroke-width="0.7"/>
<line x1="143.20" y1="559.30" x2="143.20" y2="561.20" stroke="#111" stroke-width="0.7"/>
<line x1="147.40" y1="559.30" x2="147.40" y2="561.20" stroke="#111" stroke-width="0.7"/>
<line x1="151.60" y1="559.30" x2="151.60" y2="561.20" stroke="#111" stroke-width="0.7"/>
<line x1="155.80" y1="559.30" x2="155.80" y2="561.20" stroke="#111" stroke-width="0.7"/>
<line x1="160.00" y1="559.30" x2="160.00" y2="561.20" stroke="#111" stroke-width="0.7"/>
<line x1="164.20" y1="559.30" x2="164.20" y2="561.20" stroke="#111" stroke-width="0.7"/>
<line x1="168.40" y1="559.30" x2="168.40" y2="561.20" stroke="#111" stroke-width="0.7"/>
<line x1="172.60" y1="559.30" x2="172.60" y2="561.20" stroke="#111" stroke-width="0.7"/>
<line x1="176.80" y1="559.30" x2="176.80" y2="562.50" stroke="#111" stroke-width="1.0"/>
<text transform="translate(176.80 574.10) scale(1.0600 1)" font-size="8.7" text-anchor="middle">30</text>
<line x1="181.00" y1="559.30" x2="181.00" y2="561.20" stroke="#111" stroke-width="0.7"/>
<text transform="translate(117.90 587.80) scale(0.6914 1)" font-size="9.7" text-anchor="middle" font-weight="bold" fill="#1a1a1a">Days post CAR T cell infusion</text>
<text transform="translate(17.50 515.90) rotate(-90) scale(0.7229 1)" font-size="10.2" text-anchor="middle" font-weight="bold" fill="#1a1a1a">ALC/µl</text>
<text x="127.00" y="478.70" font-size="8.4" text-anchor="start">CD19-PosR</text>
<line x1="244.10" y1="477.00" x2="244.10" y2="560.20" stroke="#111" stroke-width="1.3"/>
<line x1="240.60" y1="559.60" x2="298.20" y2="559.60" stroke="#111" stroke-width="1.3"/>
<line x1="240.60" y1="479.20" x2="244.10" y2="479.20" stroke="#111" stroke-width="1.0"/>
<text transform="translate(238.00 482.15) scale(1.0700 1)" font-size="8.6" text-anchor="end">4000</text>
<line x1="240.60" y1="499.30" x2="244.10" y2="499.30" stroke="#111" stroke-width="1.0"/>
<text transform="translate(238.00 502.25) scale(1.0700 1)" font-size="8.6" text-anchor="end">3000</text>
<line x1="240.60" y1="519.40" x2="244.10" y2="519.40" stroke="#111" stroke-width="1.0"/>
<text transform="translate(238.00 522.35) scale(1.0700 1)" font-size="8.6" text-anchor="end">2000</text>
<line x1="240.60" y1="539.50" x2="244.10" y2="539.50" stroke="#111" stroke-width="1.0"/>
<text transform="translate(238.00 542.45) scale(1.0700 1)" font-size="8.6" text-anchor="end">1000</text>
<line x1="240.60" y1="559.60" x2="244.10" y2="559.60" stroke="#111" stroke-width="1.0"/>
<text transform="translate(238.00 562.55) scale(1.0700 1)" font-size="8.6" text-anchor="end">0</text>
<text transform="translate(210.40 518.00) rotate(-90) scale(0.7145 1)" font-size="10.2" text-anchor="middle" font-weight="bold" fill="#1a1a1a">Peak ALC/µl</text>
<line x1="255.30" y1="559.60" x2="255.30" y2="562.80" stroke="#111" stroke-width="0.9"/>
<line x1="271.20" y1="559.60" x2="271.20" y2="562.80" stroke="#111" stroke-width="0.9"/>
<line x1="287.20" y1="559.60" x2="287.20" y2="562.80" stroke="#111" stroke-width="0.9"/>
<path d="M255.35,511.00 C255.41,511.45 255.50,512.73 255.60,513.50 C255.70,514.27 255.65,514.81 255.90,515.30 C256.15,515.79 256.71,515.80 257.00,516.20 C257.29,516.60 257.50,517.03 257.50,517.50 C257.50,517.97 257.29,518.40 257.00,518.80 C256.71,519.20 256.14,519.12 255.90,519.70 C255.66,520.28 255.69,520.15 255.65,522.00 C255.61,523.85 255.64,527.30 255.65,530.00 C255.66,532.70 255.55,535.29 255.70,537.00 C255.85,538.71 255.98,538.69 256.50,539.50 C257.02,540.31 257.92,540.80 258.60,541.50 C259.28,542.20 260.25,542.72 260.30,543.40 C260.35,544.08 259.35,544.65 258.90,545.30 C258.45,545.95 257.96,546.46 257.80,547.00 C257.64,547.54 257.91,547.89 258.00,548.30 C258.09,548.71 258.39,548.81 258.30,549.30 C258.21,549.79 257.77,550.33 257.50,551.00 C257.23,551.67 256.87,552.41 256.80,553.00 C256.73,553.59 257.01,553.90 257.10,554.30 C257.19,554.70 257.37,554.75 257.30,555.20 C257.23,555.65 256.93,556.21 256.70,556.80 C256.47,557.39 256.24,557.82 256.00,558.50 C255.76,559.18 255.49,560.22 255.35,560.60 C255.22,560.98 255.38,560.98 255.25,560.60 C255.12,560.22 254.84,559.18 254.60,558.50 C254.36,557.82 254.13,557.39 253.90,556.80 C253.67,556.21 253.37,555.65 253.30,555.20 C253.23,554.75 253.41,554.70 253.50,554.30 C253.59,553.90 253.87,553.59 253.80,553.00 C253.73,552.41 253.37,551.67 253.10,551.00 C252.83,550.33 252.39,549.79 252.30,549.30 C252.21,548.81 252.51,548.71 252.60,548.30 C252.69,547.89 252.96,547.54 252.80,547.00 C252.64,546.46 252.15,545.95 251.70,545.30 C251.25,544.65 250.25,544.08 250.30,543.40 C250.35,542.72 251.32,542.20 252.00,541.50 C252.68,540.80 253.58,540.31 254.10,539.50 C254.62,538.69 254.75,538.71 254.90,537.00 C255.05,535.29 254.94,532.70 254.95,530.00 C254.96,527.30 255.00,523.85 254.95,522.00 C254.91,520.15 254.94,520.28 254.70,519.70 C254.46,519.12 253.89,519.20 253.60,518.80 C253.31,518.40 253.10,517.97 253.10,517.50 C253.10,517.03 253.31,516.60 253.60,516.20 C253.89,515.80 254.45,515.79 254.70,515.30 C254.95,514.81 254.90,514.27 255.00,513.50 C255.10,512.73 255.19,511.45 255.25,511.00 C255.31,510.55 255.29,510.55 255.35,511.00Z" fill="none" stroke="#111" stroke-width="1.25" stroke-linejoin="round"/>
<path d="M271.25,479.00 C271.31,479.90 271.42,482.38 271.50,484.00 C271.58,485.62 271.57,486.56 271.70,488.00 C271.83,489.44 272.00,490.38 272.20,492.00 C272.40,493.62 272.62,495.11 272.80,497.00 C272.98,498.89 273.11,500.52 273.20,502.50 C273.29,504.48 273.25,506.11 273.30,508.00 C273.35,509.89 273.39,511.20 273.50,513.00 C273.61,514.80 273.74,516.38 273.90,518.00 C274.06,519.62 274.09,520.13 274.40,522.00 C274.71,523.87 275.28,526.60 275.60,528.40 C275.92,530.20 276.04,530.81 276.20,532.00 C276.36,533.19 276.44,533.74 276.50,535.00 C276.56,536.26 276.57,537.61 276.55,539.00 C276.53,540.39 276.50,541.53 276.40,542.70 C276.30,543.87 276.18,544.55 276.00,545.50 C275.82,546.45 275.67,547.01 275.40,548.00 C275.13,548.99 274.79,550.10 274.50,551.00 C274.21,551.90 274.16,552.01 273.80,553.00 C273.44,553.99 272.96,555.20 272.50,556.50 C272.04,557.80 271.49,559.53 271.25,560.20 C271.01,560.87 271.39,560.87 271.15,560.20 C270.91,559.53 270.36,557.80 269.90,556.50 C269.44,555.20 268.96,553.99 268.60,553.00 C268.24,552.01 268.19,551.90 267.90,551.00 C267.61,550.10 267.27,548.99 267.00,548.00 C266.73,547.01 266.58,546.45 266.40,545.50 C266.22,544.55 266.10,543.87 266.00,542.70 C265.90,541.53 265.87,540.39 265.85,539.00 C265.83,537.61 265.84,536.26 265.90,535.00 C265.96,533.74 266.04,533.19 266.20,532.00 C266.36,530.81 266.48,530.20 266.80,528.40 C267.12,526.60 267.69,523.87 268.00,522.00 C268.31,520.13 268.34,519.62 268.50,518.00 C268.66,516.38 268.79,514.80 268.90,513.00 C269.01,511.20 269.05,509.89 269.10,508.00 C269.15,506.11 269.11,504.48 269.20,502.50 C269.29,500.52 269.42,498.89 269.60,497.00 C269.78,495.11 270.00,493.62 270.20,492.00 C270.40,490.38 270.57,489.44 270.70,488.00 C270.83,486.56 270.82,485.62 270.90,484.00 C270.98,482.38 271.09,479.90 271.15,479.00 C271.21,478.10 271.19,478.10 271.25,479.00Z" fill="none" stroke="#c5204e" stroke-width="1.15" stroke-linejoin="round"/>
<path d="M287.25,479.00 C287.31,479.72 287.44,481.56 287.50,483.00 C287.56,484.44 287.47,485.83 287.60,487.00 C287.73,488.17 288.04,488.71 288.20,489.50 C288.36,490.29 288.50,490.72 288.50,491.40 C288.50,492.08 288.35,492.47 288.20,493.30 C288.05,494.13 287.76,493.89 287.65,496.00 C287.54,498.11 287.59,501.76 287.60,505.00 C287.61,508.24 287.54,511.41 287.70,514.00 C287.86,516.59 288.28,517.51 288.50,519.40 C288.72,521.29 288.70,523.04 288.90,524.50 C289.10,525.96 289.37,526.56 289.60,527.50 C289.83,528.44 290.11,528.80 290.20,529.70 C290.29,530.60 290.14,531.55 290.10,532.50 C290.06,533.45 289.98,534.10 290.00,535.00 C290.02,535.90 289.89,536.35 290.20,537.50 C290.51,538.65 291.32,540.32 291.70,541.40 C292.08,542.48 292.12,542.80 292.30,543.50 C292.48,544.20 292.66,544.49 292.70,545.30 C292.74,546.11 292.66,547.15 292.50,548.00 C292.34,548.85 292.11,549.32 291.80,550.00 C291.49,550.68 291.34,550.77 290.80,551.80 C290.26,552.83 289.34,554.53 288.80,555.70 C288.26,556.87 288.08,557.49 287.80,558.30 C287.52,559.11 287.37,559.86 287.25,560.20 C287.13,560.54 287.27,560.54 287.15,560.20 C287.03,559.86 286.88,559.11 286.60,558.30 C286.32,557.49 286.14,556.87 285.60,555.70 C285.06,554.53 284.14,552.83 283.60,551.80 C283.06,550.77 282.91,550.68 282.60,550.00 C282.29,549.32 282.06,548.85 281.90,548.00 C281.74,547.15 281.66,546.11 281.70,545.30 C281.74,544.49 281.92,544.20 282.10,543.50 C282.28,542.80 282.32,542.48 282.70,541.40 C283.08,540.32 283.89,538.65 284.20,537.50 C284.51,536.35 284.38,535.90 284.40,535.00 C284.42,534.10 284.34,533.45 284.30,532.50 C284.26,531.55 284.11,530.60 284.20,529.70 C284.29,528.80 284.57,528.44 284.80,527.50 C285.03,526.56 285.30,525.96 285.50,524.50 C285.70,523.04 285.68,521.29 285.90,519.40 C286.12,517.51 286.54,516.59 286.70,514.00 C286.86,511.41 286.79,508.24 286.80,505.00 C286.81,501.76 286.86,498.11 286.75,496.00 C286.64,493.89 286.35,494.13 286.20,493.30 C286.05,492.47 285.90,492.08 285.90,491.40 C285.90,490.72 286.04,490.29 286.20,489.50 C286.36,488.71 286.67,488.17 286.80,487.00 C286.93,485.83 286.84,484.44 286.90,483.00 C286.96,481.56 287.09,479.72 287.15,479.00 C287.21,478.28 287.19,478.28 287.25,479.00Z" fill="none" stroke="#3d9c9c" stroke-width="1.15" stroke-linejoin="round"/>
<line x1="252.31" y1="541.60" x2="258.29" y2="541.60" stroke="#666" stroke-width="0.6" stroke-dasharray="0.8,0.8"/>
<line x1="251.36" y1="544.30" x2="259.24" y2="544.30" stroke="#555" stroke-width="0.6" stroke-dasharray="1.5,0.8"/>
<line x1="252.85" y1="548.80" x2="257.75" y2="548.80" stroke="#666" stroke-width="0.6" stroke-dasharray="0.8,0.8"/>
<line x1="266.80" y1="530.80" x2="275.60" y2="530.80" stroke="#c5204e" stroke-width="0.9" stroke-dasharray="1.7,0.9"/>
<line x1="266.40" y1="542.70" x2="276.00" y2="542.70" stroke="#c5204e" stroke-width="0.6" stroke-dasharray="0.9,0.8"/>
<line x1="284.62" y1="530.40" x2="289.77" y2="530.40" stroke="#3d9c9c" stroke-width="0.6" stroke-dasharray="0.8,0.8"/>
<line x1="283.10" y1="541.40" x2="291.30" y2="541.40" stroke="#3d9c9c" stroke-width="0.6" stroke-dasharray="1.6,0.9"/>
<line x1="282.26" y1="547.50" x2="292.14" y2="547.50" stroke="#3d9c9c" stroke-width="0.6" stroke-dasharray="0.8,0.8"/>
<line x1="253.20" y1="478.60" x2="269.20" y2="478.60" stroke="#111" stroke-width="1.25"/>
<text x="261.20" y="478.00" font-size="9.5" text-anchor="middle">*</text>
<text transform="translate(259.60 571.00) rotate(-45)" font-size="9.2" text-anchor="end">NR</text>
<text transform="translate(275.60 571.00) rotate(-45)" font-size="9.2" text-anchor="end">SR</text>
<text transform="translate(291.60 571.00) rotate(-45)" font-size="9.2" text-anchor="end">CD19-posR</text>
<line x1="362.90" y1="477.00" x2="362.90" y2="560.20" stroke="#111" stroke-width="1.3"/>
<line x1="359.40" y1="559.60" x2="416.60" y2="559.60" stroke="#111" stroke-width="1.3"/>
<line x1="359.40" y1="479.20" x2="362.90" y2="479.20" stroke="#111" stroke-width="1.0"/>
<text transform="translate(356.40 482.15) scale(1.0700 1)" font-size="8.6" text-anchor="end">80000</text>
<line x1="359.40" y1="499.30" x2="362.90" y2="499.30" stroke="#111" stroke-width="1.0"/>
<text transform="translate(356.40 502.25) scale(1.0700 1)" font-size="8.6" text-anchor="end">60000</text>
<line x1="359.40" y1="519.40" x2="362.90" y2="519.40" stroke="#111" stroke-width="1.0"/>
<text transform="translate(356.40 522.35) scale(1.0700 1)" font-size="8.6" text-anchor="end">40000</text>
<line x1="359.40" y1="539.50" x2="362.90" y2="539.50" stroke="#111" stroke-width="1.0"/>
<text transform="translate(356.40 542.45) scale(1.0700 1)" font-size="8.6" text-anchor="end">20000</text>
<line x1="359.40" y1="559.60" x2="362.90" y2="559.60" stroke="#111" stroke-width="1.0"/>
<text transform="translate(356.40 562.55) scale(1.0700 1)" font-size="8.6" text-anchor="end">0</text>
<text transform="translate(324.60 518.20) rotate(-90) scale(0.6574 1)" font-size="10.2" text-anchor="middle" font-weight="bold" fill="#1a1a1a">ALC AUC 1month</text>
<line x1="373.90" y1="559.60" x2="373.90" y2="562.80" stroke="#111" stroke-width="0.9"/>
<line x1="389.80" y1="559.60" x2="389.80" y2="562.80" stroke="#111" stroke-width="0.9"/>
<line x1="405.80" y1="559.60" x2="405.80" y2="562.80" stroke="#111" stroke-width="0.9"/>
<path d="M373.95,539.30 C374.05,539.68 374.00,540.66 374.40,541.40 C374.80,542.14 375.75,542.57 376.20,543.40 C376.65,544.23 376.81,545.17 376.90,546.00 C376.99,546.83 376.54,547.35 376.70,548.00 C376.86,548.65 377.40,549.02 377.80,549.60 C378.20,550.18 378.79,550.68 378.90,551.20 C379.01,551.72 378.62,552.03 378.40,552.50 C378.18,552.97 378.01,553.10 377.70,553.80 C377.39,554.50 377.15,555.59 376.70,556.40 C376.25,557.21 375.69,557.65 375.20,558.30 C374.70,558.95 374.19,559.69 373.95,560.00 C373.71,560.31 374.09,560.31 373.85,560.00 C373.61,559.69 373.09,558.95 372.60,558.30 C372.10,557.65 371.55,557.21 371.10,556.40 C370.65,555.59 370.41,554.50 370.10,553.80 C369.79,553.10 369.62,552.97 369.40,552.50 C369.18,552.03 368.79,551.72 368.90,551.20 C369.01,550.68 369.60,550.18 370.00,549.60 C370.40,549.02 370.94,548.65 371.10,548.00 C371.26,547.35 370.81,546.83 370.90,546.00 C370.99,545.17 371.15,544.23 371.60,543.40 C372.05,542.57 373.00,542.14 373.40,541.40 C373.80,540.66 373.75,539.68 373.85,539.30 C373.95,538.92 373.85,538.92 373.95,539.30Z" fill="none" stroke="#111" stroke-width="1.25" stroke-linejoin="round"/>
<path d="M389.85,479.00 C389.93,479.72 390.13,480.66 390.20,483.00 C390.27,485.34 390.18,489.57 390.25,492.00 C390.32,494.43 390.43,495.24 390.60,496.50 C390.77,497.76 391.20,498.10 391.20,499.00 C391.20,499.90 390.77,500.42 390.60,501.50 C390.43,502.58 390.31,502.57 390.25,505.00 C390.19,507.43 390.22,512.12 390.25,515.00 C390.28,517.88 390.27,519.52 390.40,521.00 C390.54,522.48 390.57,522.12 391.00,523.20 C391.43,524.28 392.30,525.60 392.80,527.00 C393.30,528.40 393.48,529.56 393.80,531.00 C394.12,532.44 394.38,533.38 394.60,535.00 C394.82,536.62 394.95,538.56 395.00,540.00 C395.05,541.44 394.97,542.05 394.90,543.00 C394.83,543.95 394.87,544.18 394.60,545.30 C394.33,546.42 393.94,547.56 393.40,549.20 C392.86,550.84 392.10,552.91 391.60,554.40 C391.10,555.89 390.92,556.46 390.60,557.50 C390.29,558.54 390.00,559.71 389.85,560.20 C389.70,560.69 389.90,560.69 389.75,560.20 C389.60,559.71 389.31,558.54 389.00,557.50 C388.69,556.46 388.50,555.89 388.00,554.40 C387.50,552.91 386.74,550.84 386.20,549.20 C385.66,547.56 385.27,546.42 385.00,545.30 C384.73,544.18 384.77,543.95 384.70,543.00 C384.63,542.05 384.55,541.44 384.60,540.00 C384.65,538.56 384.78,536.62 385.00,535.00 C385.22,533.38 385.48,532.44 385.80,531.00 C386.12,529.56 386.30,528.40 386.80,527.00 C387.30,525.60 388.17,524.28 388.60,523.20 C389.03,522.12 389.06,522.48 389.20,521.00 C389.33,519.52 389.32,517.88 389.35,515.00 C389.38,512.12 389.41,507.43 389.35,505.00 C389.29,502.57 389.17,502.58 389.00,501.50 C388.83,500.42 388.40,499.90 388.40,499.00 C388.40,498.10 388.83,497.76 389.00,496.50 C389.17,495.24 389.28,494.43 389.35,492.00 C389.42,489.57 389.33,485.34 389.40,483.00 C389.47,480.66 389.67,479.72 389.75,479.00 C389.83,478.28 389.77,478.28 389.85,479.00Z" fill="none" stroke="#c5204e" stroke-width="1.15" stroke-linejoin="round"/>
<path d="M405.85,495.60 C405.93,496.03 406.08,497.15 406.20,498.00 C406.32,498.85 406.36,499.62 406.50,500.30 C406.64,500.98 407.00,501.26 407.00,501.80 C407.00,502.34 406.64,502.54 406.50,503.30 C406.36,504.06 406.25,504.07 406.20,506.00 C406.15,507.93 406.15,512.20 406.20,514.00 C406.25,515.80 406.36,515.39 406.50,516.00 C406.64,516.61 407.00,516.90 407.00,517.40 C407.00,517.90 406.64,518.15 406.50,518.80 C406.36,519.45 406.25,519.16 406.20,521.00 C406.15,522.84 406.15,527.20 406.20,529.00 C406.25,530.80 406.36,530.41 406.50,531.00 C406.64,531.59 406.98,531.83 407.00,532.30 C407.02,532.77 406.73,532.93 406.60,533.60 C406.47,534.27 406.30,535.12 406.30,536.00 C406.30,536.88 406.42,537.78 406.60,538.50 C406.78,539.22 406.81,539.24 407.30,540.00 C407.79,540.76 408.74,541.80 409.30,542.70 C409.86,543.60 410.13,544.30 410.40,545.00 C410.67,545.70 410.76,545.84 410.80,546.60 C410.84,547.36 410.78,548.41 410.60,549.20 C410.42,549.99 410.12,550.32 409.80,551.00 C409.48,551.68 409.27,552.03 408.80,553.00 C408.33,553.97 407.63,555.41 407.20,556.40 C406.77,557.39 406.64,557.82 406.40,558.50 C406.16,559.18 405.97,559.89 405.85,560.20 C405.73,560.51 405.87,560.51 405.75,560.20 C405.63,559.89 405.44,559.18 405.20,558.50 C404.96,557.82 404.83,557.39 404.40,556.40 C403.97,555.41 403.27,553.97 402.80,553.00 C402.33,552.03 402.12,551.68 401.80,551.00 C401.48,550.32 401.18,549.99 401.00,549.20 C400.82,548.41 400.76,547.36 400.80,546.60 C400.84,545.84 400.93,545.70 401.20,545.00 C401.47,544.30 401.74,543.60 402.30,542.70 C402.86,541.80 403.81,540.76 404.30,540.00 C404.79,539.24 404.82,539.22 405.00,538.50 C405.18,537.78 405.30,536.88 405.30,536.00 C405.30,535.12 405.13,534.27 405.00,533.60 C404.87,532.93 404.58,532.77 404.60,532.30 C404.62,531.83 404.96,531.59 405.10,531.00 C405.24,530.41 405.35,530.80 405.40,529.00 C405.45,527.20 405.45,522.84 405.40,521.00 C405.35,519.16 405.24,519.45 405.10,518.80 C404.96,518.15 404.60,517.90 404.60,517.40 C404.60,516.90 404.96,516.61 405.10,516.00 C405.24,515.39 405.35,515.80 405.40,514.00 C405.45,512.20 405.45,507.93 405.40,506.00 C405.35,504.07 405.24,504.06 405.10,503.30 C404.96,502.54 404.60,502.34 404.60,501.80 C404.60,501.26 404.96,500.98 405.10,500.30 C405.24,499.62 405.28,498.85 405.40,498.00 C405.52,497.15 405.67,496.03 405.75,495.60 C405.83,495.17 405.77,495.17 405.85,495.60Z" fill="none" stroke="#3d9c9c" stroke-width="1.15" stroke-linejoin="round"/>
<line x1="371.36" y1="546.60" x2="376.44" y2="546.60" stroke="#666" stroke-width="0.6" stroke-dasharray="0.8,0.8"/>
<line x1="369.58" y1="550.80" x2="378.22" y2="550.80" stroke="#555" stroke-width="0.6" stroke-dasharray="1.5,0.8"/>
<line x1="370.73" y1="554.40" x2="377.07" y2="554.40" stroke="#666" stroke-width="0.6" stroke-dasharray="0.8,0.8"/>
<line x1="386.20" y1="531.00" x2="393.40" y2="531.00" stroke="#c5204e" stroke-width="0.6" stroke-dasharray="0.9,0.8"/>
<line x1="385.04" y1="539.50" x2="394.56" y2="539.50" stroke="#c5204e" stroke-width="0.9" stroke-dasharray="1.7,0.9"/>
<line x1="385.68" y1="546.20" x2="393.92" y2="546.20" stroke="#c5204e" stroke-width="0.6" stroke-dasharray="0.9,0.8"/>
<line x1="402.08" y1="544.00" x2="409.52" y2="544.00" stroke="#3d9c9c" stroke-width="0.5" stroke-dasharray="0.8,0.8"/>
<line x1="401.20" y1="546.60" x2="410.40" y2="546.60" stroke="#3d9c9c" stroke-width="0.5" stroke-dasharray="1.5,0.9"/>
<line x1="401.53" y1="549.50" x2="410.07" y2="549.50" stroke="#3d9c9c" stroke-width="0.5" stroke-dasharray="0.8,0.8"/>
<line x1="371.30" y1="480.00" x2="385.80" y2="480.00" stroke="#111" stroke-width="1.3"/>
<text x="378.70" y="479.60" font-size="9.5" text-anchor="middle">***</text>
<line x1="392.50" y1="480.00" x2="407.00" y2="480.00" stroke="#111" stroke-width="1.3"/>
<text x="399.40" y="479.60" font-size="9.5" text-anchor="middle">*</text>
<text transform="translate(378.20 571.00) rotate(-45)" font-size="9.2" text-anchor="end">NR</text>
<text transform="translate(394.10 571.00) rotate(-45)" font-size="9.2" text-anchor="end">SR</text>
<text transform="translate(410.10 571.00) rotate(-45)" font-size="9.2" text-anchor="end">CD19-posR</text>
<text transform="translate(51.00 634.70) scale(0.9703 1)" font-size="8.8" text-anchor="start">Peak ALC, SR vs NR</text>
<line x1="45.30" y1="730.40" x2="132.40" y2="643.30" stroke="#c4122f" stroke-width="1.35" stroke-dasharray="2.2,1.5"/>
<line x1="45.30" y1="640.30" x2="45.30" y2="731.00" stroke="#111" stroke-width="1.3"/>
<line x1="44.70" y1="730.40" x2="135.10" y2="730.40" stroke="#111" stroke-width="1.3"/>
<line x1="41.90" y1="730.40" x2="45.30" y2="730.40" stroke="#111" stroke-width="1.0"/>
<text transform="translate(38.60 733.40) scale(1.0700 1)" font-size="8.7" text-anchor="end">0</text>
<line x1="45.30" y1="730.40" x2="45.30" y2="733.80" stroke="#111" stroke-width="1.0"/>
<text transform="translate(45.30 744.60) scale(1.0700 1)" font-size="8.7" text-anchor="middle">0</text>
<line x1="41.90" y1="712.98" x2="45.30" y2="712.98" stroke="#111" stroke-width="1.0"/>
<text transform="translate(38.60 715.98) scale(1.0700 1)" font-size="8.7" text-anchor="end">20</text>
<line x1="62.72" y1="730.40" x2="62.72" y2="733.80" stroke="#111" stroke-width="1.0"/>
<text transform="translate(62.72 744.60) scale(1.0700 1)" font-size="8.7" text-anchor="middle">20</text>
<line x1="41.90" y1="695.56" x2="45.30" y2="695.56" stroke="#111" stroke-width="1.0"/>
<text transform="translate(38.60 698.56) scale(1.0700 1)" font-size="8.7" text-anchor="end">40</text>
<line x1="80.14" y1="730.40" x2="80.14" y2="733.80" stroke="#111" stroke-width="1.0"/>
<text transform="translate(80.14 744.60) scale(1.0700 1)" font-size="8.7" text-anchor="middle">40</text>
<line x1="41.90" y1="678.14" x2="45.30" y2="678.14" stroke="#111" stroke-width="1.0"/>
<text transform="translate(38.60 681.14) scale(1.0700 1)" font-size="8.7" text-anchor="end">60</text>
<line x1="97.56" y1="730.40" x2="97.56" y2="733.80" stroke="#111" stroke-width="1.0"/>
<text transform="translate(97.56 744.60) scale(1.0700 1)" font-size="8.7" text-anchor="middle">60</text>
<line x1="41.90" y1="660.72" x2="45.30" y2="660.72" stroke="#111" stroke-width="1.0"/>
<text transform="translate(38.60 663.72) scale(1.0700 1)" font-size="8.7" text-anchor="end">80</text>
<line x1="114.98" y1="730.40" x2="114.98" y2="733.80" stroke="#111" stroke-width="1.0"/>
<text transform="translate(114.98 744.60) scale(1.0700 1)" font-size="8.7" text-anchor="middle">80</text>
<line x1="41.90" y1="643.30" x2="45.30" y2="643.30" stroke="#111" stroke-width="1.0"/>
<text transform="translate(38.60 646.30) scale(1.0700 1)" font-size="8.7" text-anchor="end">100</text>
<line x1="132.40" y1="730.40" x2="132.40" y2="733.80" stroke="#111" stroke-width="1.0"/>
<text transform="translate(132.40 744.60) scale(1.0700 1)" font-size="8.7" text-anchor="middle">100</text>
<text transform="translate(91.00 759.60) scale(0.7240 1)" font-size="9.7" text-anchor="middle" font-weight="bold" fill="#1a1a1a">100% - specificity%</text>
<text transform="translate(16.60 685.00) rotate(-90) scale(0.6825 1)" font-size="9.7" text-anchor="middle" font-weight="bold" fill="#1a1a1a">Sensitivity%</text>
<text transform="translate(58.60 723.70) scale(1.0511 1)" font-size="5.6" text-anchor="start" fill="#222">AUC 0.78, 95% CI 0.60-0.95</text>
<polyline points="45.30,730.40 45.30,705.14 57.49,705.14 57.49,665.07 69.69,665.07 69.69,662.46 82.75,662.46 82.75,660.72 94.95,660.72 94.95,652.01 107.14,652.01 107.14,650.27 120.21,650.27 120.21,643.30 132.40,643.30" fill="none" stroke="#3a3a3a" stroke-width="1.4" stroke-linejoin="round"/>
<line x1="45.30" y1="730.40" x2="45.30" y2="705.14" stroke="#6e6e6e" stroke-width="2.9" stroke-linecap="round"/>
<line x1="57.49" y1="705.14" x2="57.49" y2="665.07" stroke="#6e6e6e" stroke-width="2.9" stroke-linecap="round"/>
<line x1="69.69" y1="665.07" x2="69.69" y2="662.46" stroke="#6e6e6e" stroke-width="2.9" stroke-linecap="round"/>
<line x1="82.75" y1="662.46" x2="82.75" y2="660.72" stroke="#6e6e6e" stroke-width="2.9" stroke-linecap="round"/>
<line x1="94.95" y1="660.72" x2="94.95" y2="652.01" stroke="#6e6e6e" stroke-width="2.9" stroke-linecap="round"/>
<line x1="107.14" y1="652.01" x2="107.14" y2="650.27" stroke="#6e6e6e" stroke-width="2.9" stroke-linecap="round"/>
<line x1="120.21" y1="650.27" x2="120.21" y2="643.30" stroke="#6e6e6e" stroke-width="2.9" stroke-linecap="round"/>
<circle cx="45.30" cy="705.14" r="1.45" fill="#8c8c8c" fill-opacity="0.9"/>
<circle cx="57.49" cy="705.14" r="1.45" fill="#8c8c8c" fill-opacity="0.9"/>
<circle cx="57.49" cy="665.07" r="1.45" fill="#8c8c8c" fill-opacity="0.9"/>
<circle cx="69.69" cy="665.07" r="1.45" fill="#8c8c8c" fill-opacity="0.9"/>
<circle cx="69.69" cy="662.46" r="1.45" fill="#8c8c8c" fill-opacity="0.9"/>
<circle cx="82.75" cy="662.46" r="1.45" fill="#8c8c8c" fill-opacity="0.9"/>
<circle cx="82.75" cy="660.72" r="1.45" fill="#8c8c8c" fill-opacity="0.9"/>
<circle cx="94.95" cy="660.72" r="1.45" fill="#8c8c8c" fill-opacity="0.9"/>
<circle cx="94.95" cy="652.01" r="1.45" fill="#8c8c8c" fill-opacity="0.9"/>
<circle cx="107.14" cy="652.01" r="1.45" fill="#8c8c8c" fill-opacity="0.9"/>
<circle cx="107.14" cy="650.27" r="1.45" fill="#8c8c8c" fill-opacity="0.9"/>
<circle cx="120.21" cy="650.27" r="1.45" fill="#8c8c8c" fill-opacity="0.9"/>
<circle cx="120.21" cy="643.30" r="1.45" fill="#8c8c8c" fill-opacity="0.9"/>
<circle cx="132.40" cy="643.30" r="1.45" fill="#8c8c8c" fill-opacity="0.9"/>
<text transform="translate(194.80 634.70) scale(0.9776 1)" font-size="8.8" text-anchor="start">AUC1month, SR vs NR</text>
<line x1="194.20" y1="730.40" x2="281.30" y2="643.30" stroke="#c4122f" stroke-width="1.35" stroke-dasharray="2.2,1.5"/>
<line x1="194.20" y1="640.30" x2="194.20" y2="731.00" stroke="#111" stroke-width="1.3"/>
<line x1="193.60" y1="730.40" x2="284.00" y2="730.40" stroke="#111" stroke-width="1.3"/>
<line x1="190.80" y1="730.40" x2="194.20" y2="730.40" stroke="#111" stroke-width="1.0"/>
<text transform="translate(187.50 733.40) scale(1.0700 1)" font-size="8.7" text-anchor="end">0</text>
<line x1="194.20" y1="730.40" x2="194.20" y2="733.80" stroke="#111" stroke-width="1.0"/>
<text transform="translate(194.20 744.60) scale(1.0700 1)" font-size="8.7" text-anchor="middle">0</text>
<line x1="190.80" y1="712.98" x2="194.20" y2="712.98" stroke="#111" stroke-width="1.0"/>
<text transform="translate(187.50 715.98) scale(1.0700 1)" font-size="8.7" text-anchor="end">20</text>
<line x1="211.62" y1="730.40" x2="211.62" y2="733.80" stroke="#111" stroke-width="1.0"/>
<text transform="translate(211.62 744.60) scale(1.0700 1)" font-size="8.7" text-anchor="middle">20</text>
<line x1="190.80" y1="695.56" x2="194.20" y2="695.56" stroke="#111" stroke-width="1.0"/>
<text transform="translate(187.50 698.56) scale(1.0700 1)" font-size="8.7" text-anchor="end">40</text>
<line x1="229.04" y1="730.40" x2="229.04" y2="733.80" stroke="#111" stroke-width="1.0"/>
<text transform="translate(229.04 744.60) scale(1.0700 1)" font-size="8.7" text-anchor="middle">40</text>
<line x1="190.80" y1="678.14" x2="194.20" y2="678.14" stroke="#111" stroke-width="1.0"/>
<text transform="translate(187.50 681.14) scale(1.0700 1)" font-size="8.7" text-anchor="end">60</text>
<line x1="246.46" y1="730.40" x2="246.46" y2="733.80" stroke="#111" stroke-width="1.0"/>
<text transform="translate(246.46 744.60) scale(1.0700 1)" font-size="8.7" text-anchor="middle">60</text>
<line x1="190.80" y1="660.72" x2="194.20" y2="660.72" stroke="#111" stroke-width="1.0"/>
<text transform="translate(187.50 663.72) scale(1.0700 1)" font-size="8.7" text-anchor="end">80</text>
<line x1="263.88" y1="730.40" x2="263.88" y2="733.80" stroke="#111" stroke-width="1.0"/>
<text transform="translate(263.88 744.60) scale(1.0700 1)" font-size="8.7" text-anchor="middle">80</text>
<line x1="190.80" y1="643.30" x2="194.20" y2="643.30" stroke="#111" stroke-width="1.0"/>
<text transform="translate(187.50 646.30) scale(1.0700 1)" font-size="8.7" text-anchor="end">100</text>
<line x1="281.30" y1="730.40" x2="281.30" y2="733.80" stroke="#111" stroke-width="1.0"/>
<text transform="translate(281.30 744.60) scale(1.0700 1)" font-size="8.7" text-anchor="middle">100</text>
<text transform="translate(239.70 759.60) scale(0.7240 1)" font-size="9.7" text-anchor="middle" font-weight="bold" fill="#1a1a1a">100% - specificity%</text>
<text transform="translate(165.40 685.00) rotate(-90) scale(0.6825 1)" font-size="9.7" text-anchor="middle" font-weight="bold" fill="#1a1a1a">Sensitivity%</text>
<text transform="translate(210.80 723.70) scale(1.0511 1)" font-size="5.6" text-anchor="start" fill="#222">AUC 0.90, 95% CI 0.80-0.99</text>
<polyline points="194.20,730.40 194.20,670.30 206.39,670.30 206.39,662.46 218.59,662.46 218.59,649.40 231.65,649.40 243.85,649.40 243.85,648.53 256.04,648.53 256.04,643.30 269.11,643.30 281.30,643.30" fill="none" stroke="#3a3a3a" stroke-width="1.4" stroke-linejoin="round"/>
<line x1="194.20" y1="730.40" x2="194.20" y2="670.30" stroke="#6e6e6e" stroke-width="2.9" stroke-linecap="round"/>
<line x1="206.39" y1="670.30" x2="206.39" y2="662.46" stroke="#6e6e6e" stroke-width="2.9" stroke-linecap="round"/>
<line x1="218.59" y1="662.46" x2="218.59" y2="649.40" stroke="#6e6e6e" stroke-width="2.9" stroke-linecap="round"/>
<line x1="243.85" y1="649.40" x2="243.85" y2="648.53" stroke="#6e6e6e" stroke-width="2.9" stroke-linecap="round"/>
<line x1="256.04" y1="648.53" x2="256.04" y2="643.30" stroke="#6e6e6e" stroke-width="2.9" stroke-linecap="round"/>
<circle cx="194.20" cy="670.30" r="1.45" fill="#8c8c8c" fill-opacity="0.9"/>
<circle cx="206.39" cy="670.30" r="1.45" fill="#8c8c8c" fill-opacity="0.9"/>
<circle cx="206.39" cy="662.46" r="1.45" fill="#8c8c8c" fill-opacity="0.9"/>
<circle cx="218.59" cy="662.46" r="1.45" fill="#8c8c8c" fill-opacity="0.9"/>
<circle cx="218.59" cy="649.40" r="1.45" fill="#8c8c8c" fill-opacity="0.9"/>
<circle cx="231.65" cy="649.40" r="1.45" fill="#8c8c8c" fill-opacity="0.9"/>
<circle cx="243.85" cy="649.40" r="1.45" fill="#8c8c8c" fill-opacity="0.9"/>
<circle cx="243.85" cy="648.53" r="1.45" fill="#8c8c8c" fill-opacity="0.9"/>
<circle cx="256.04" cy="648.53" r="1.45" fill="#8c8c8c" fill-opacity="0.9"/>
<circle cx="256.04" cy="643.30" r="1.45" fill="#8c8c8c" fill-opacity="0.9"/>
<circle cx="269.11" cy="643.30" r="1.45" fill="#8c8c8c" fill-opacity="0.9"/>
<circle cx="281.30" cy="643.30" r="1.45" fill="#8c8c8c" fill-opacity="0.9"/>
<text transform="translate(326.90 634.70) scale(0.9791 1)" font-size="8.8" text-anchor="start">AUC1month, SR vs CD19-posR</text>
<line x1="342.80" y1="730.40" x2="429.90" y2="643.30" stroke="#c4122f" stroke-width="1.35" stroke-dasharray="2.2,1.5"/>
<line x1="342.80" y1="640.30" x2="342.80" y2="731.00" stroke="#111" stroke-width="1.3"/>
<line x1="342.20" y1="730.40" x2="432.60" y2="730.40" stroke="#111" stroke-width="1.3"/>
<line x1="339.40" y1="730.40" x2="342.80" y2="730.40" stroke="#111" stroke-width="1.0"/>
<text transform="translate(336.10 733.40) scale(1.0700 1)" font-size="8.7" text-anchor="end">0</text>
<line x1="342.80" y1="730.40" x2="342.80" y2="733.80" stroke="#111" stroke-width="1.0"/>
<text transform="translate(342.80 744.60) scale(1.0700 1)" font-size="8.7" text-anchor="middle">0</text>
<line x1="339.40" y1="712.98" x2="342.80" y2="712.98" stroke="#111" stroke-width="1.0"/>
<text transform="translate(336.10 715.98) scale(1.0700 1)" font-size="8.7" text-anchor="end">20</text>
<line x1="360.22" y1="730.40" x2="360.22" y2="733.80" stroke="#111" stroke-width="1.0"/>
<text transform="translate(360.22 744.60) scale(1.0700 1)" font-size="8.7" text-anchor="middle">20</text>
<line x1="339.40" y1="695.56" x2="342.80" y2="695.56" stroke="#111" stroke-width="1.0"/>
<text transform="translate(336.10 698.56) scale(1.0700 1)" font-size="8.7" text-anchor="end">40</text>
<line x1="377.64" y1="730.40" x2="377.64" y2="733.80" stroke="#111" stroke-width="1.0"/>
<text transform="translate(377.64 744.60) scale(1.0700 1)" font-size="8.7" text-anchor="middle">40</text>
<line x1="339.40" y1="678.14" x2="342.80" y2="678.14" stroke="#111" stroke-width="1.0"/>
<text transform="translate(336.10 681.14) scale(1.0700 1)" font-size="8.7" text-anchor="end">60</text>
<line x1="395.06" y1="730.40" x2="395.06" y2="733.80" stroke="#111" stroke-width="1.0"/>
<text transform="translate(395.06 744.60) scale(1.0700 1)" font-size="8.7" text-anchor="middle">60</text>
<line x1="339.40" y1="660.72" x2="342.80" y2="660.72" stroke="#111" stroke-width="1.0"/>
<text transform="translate(336.10 663.72) scale(1.0700 1)" font-size="8.7" text-anchor="end">80</text>
<line x1="412.48" y1="730.40" x2="412.48" y2="733.80" stroke="#111" stroke-width="1.0"/>
<text transform="translate(412.48 744.60) scale(1.0700 1)" font-size="8.7" text-anchor="middle">80</text>
<line x1="339.40" y1="643.30" x2="342.80" y2="643.30" stroke="#111" stroke-width="1.0"/>
<text transform="translate(336.10 646.30) scale(1.0700 1)" font-size="8.7" text-anchor="end">100</text>
<line x1="429.90" y1="730.40" x2="429.90" y2="733.80" stroke="#111" stroke-width="1.0"/>
<text transform="translate(429.90 744.60) scale(1.0700 1)" font-size="8.7" text-anchor="middle">100</text>
<text transform="translate(388.80 759.60) scale(0.7240 1)" font-size="9.7" text-anchor="middle" font-weight="bold" fill="#1a1a1a">100% - specificity%</text>
<text transform="translate(314.00 685.00) rotate(-90) scale(0.6825 1)" font-size="9.7" text-anchor="middle" font-weight="bold" fill="#1a1a1a">Sensitivity%</text>
<text transform="translate(357.00 723.70) scale(1.0454 1)" font-size="5.6" text-anchor="start" fill="#222">AUC 0.70, 95% CI 0.58-0.81</text>
<polyline points="342.80,730.40 342.80,724.65 342.80,723.17 344.80,723.17 344.80,720.30 349.16,720.30 349.16,708.80 349.16,706.88 354.04,706.88 354.04,699.04 354.65,699.04 354.65,692.95 355.78,692.95 355.78,691.47 358.65,691.47 358.65,685.72 359.26,685.72 359.26,684.24 361.53,684.24 361.53,679.01 362.14,679.01 362.14,677.88 364.40,677.88 364.40,674.13 365.62,674.13 365.62,673.78 368.93,673.78 368.93,672.74 373.63,672.74 373.63,670.39 376.51,670.39 376.51,668.38 382.34,668.38 382.34,666.82 383.74,666.82 383.74,662.64 384.61,662.64 384.61,661.16 389.49,661.16 389.49,658.28 390.97,658.28 396.80,658.28 396.80,657.24 400.29,657.24 400.29,655.49 403.94,655.49 403.94,652.88 406.38,652.88 406.38,651.14 408.30,651.14 408.30,648.18 414.05,648.18 414.05,646.35 416.84,646.35 416.84,645.30 419.80,645.30 419.80,643.91 424.15,643.91 424.15,643.30 429.90,643.30" fill="none" stroke="#7c7c7c" stroke-width="2.9" stroke-linejoin="round" stroke-linecap="round"/>
<polyline points="342.80,730.40 342.80,724.65 342.80,723.17 344.80,723.17 344.80,720.30 349.16,720.30 349.16,708.80 349.16,706.88 354.04,706.88 354.04,699.04 354.65,699.04 354.65,692.95 355.78,692.95 355.78,691.47 358.65,691.47 358.65,685.72 359.26,685.72 359.26,684.24 361.53,684.24 361.53,679.01 362.14,679.01 362.14,677.88 364.40,677.88 364.40,674.13 365.62,674.13 365.62,673.78 368.93,673.78 368.93,672.74 373.63,672.74 373.63,670.39 376.51,670.39 376.51,668.38 382.34,668.38 382.34,666.82 383.74,666.82 383.74,662.64 384.61,662.64 384.61,661.16 389.49,661.16 389.49,658.28 390.97,658.28 396.80,658.28 396.80,657.24 400.29,657.24 400.29,655.49 403.94,655.49 403.94,652.88 406.38,652.88 406.38,651.14 408.30,651.14 408.30,648.18 414.05,648.18 414.05,646.35 416.84,646.35 416.84,645.30 419.80,645.30 419.80,643.91 424.15,643.91 424.15,643.30 429.90,643.30" fill="none" stroke="#5a5a5a" stroke-width="1.5" stroke-linejoin="round"/>
<rect x="0.55" y="0.5" width="518.85" height="768.85" fill="none" stroke="#000" stroke-width="1.3"/>
</svg></body></html>
